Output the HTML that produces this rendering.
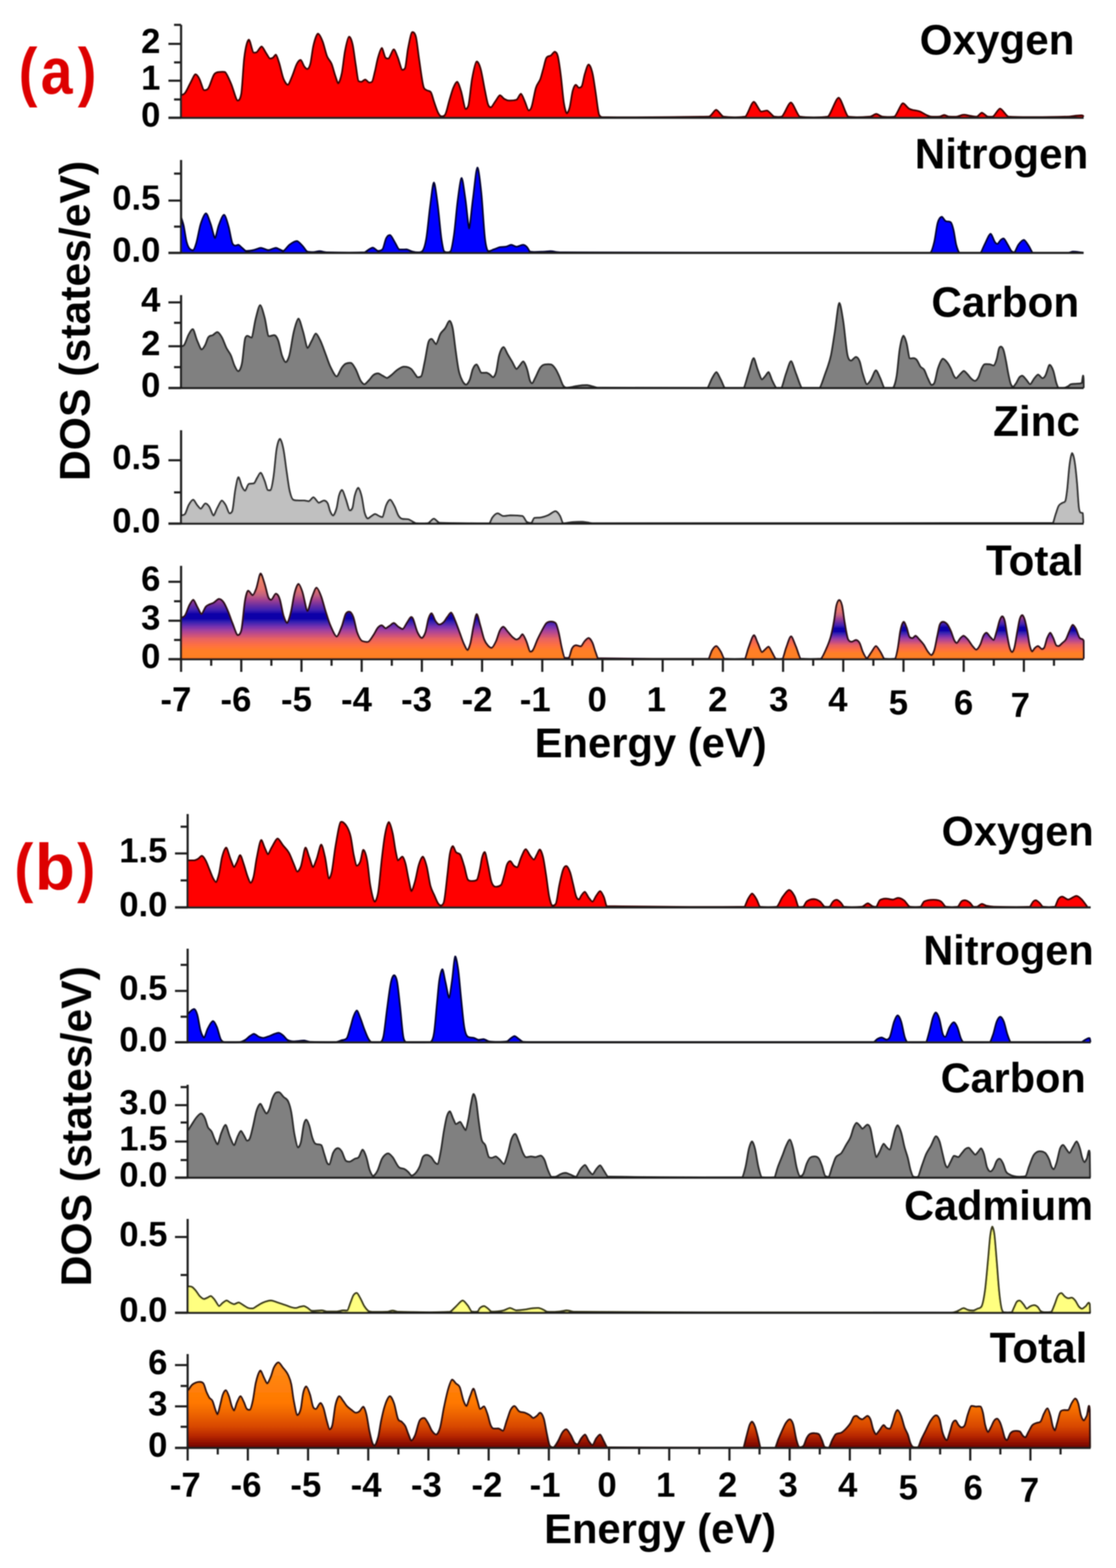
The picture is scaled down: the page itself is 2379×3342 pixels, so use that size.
<!DOCTYPE html><html><head><meta charset="utf-8"><title>DOS</title><style>html,body{margin:0;padding:0;background:#fff;}svg{display:block;}text{font-family:"Liberation Sans",Arial,sans-serif;font-weight:bold;}</style></head><body>
<svg width="2379" height="3342" viewBox="0 0 2379 3342">
<defs>
<linearGradient id="gA" gradientUnits="userSpaceOnUse" x1="0" y1="1405" x2="0" y2="1221">
<stop offset="0" stop-color="#ff7f22"/><stop offset="0.10" stop-color="#ff7f28"/><stop offset="0.16" stop-color="#ff7040"/><stop offset="0.236" stop-color="#e86262"/><stop offset="0.283" stop-color="#c85080"/><stop offset="0.337" stop-color="#a040a0"/><stop offset="0.383" stop-color="#7030b0"/><stop offset="0.436" stop-color="#3020b0"/><stop offset="0.47" stop-color="#1000a8"/><stop offset="0.523" stop-color="#1000a8"/><stop offset="0.57" stop-color="#4020b0"/><stop offset="0.63" stop-color="#7030a0"/><stop offset="0.685" stop-color="#a04090"/><stop offset="0.74" stop-color="#c06080"/><stop offset="0.80" stop-color="#e07070"/><stop offset="1" stop-color="#f89060"/>
</linearGradient>
<linearGradient id="gA2" gradientUnits="userSpaceOnUse" x1="0" y1="1405" x2="0" y2="1279">
<stop offset="0" stop-color="#ff7f22"/><stop offset="0.10" stop-color="#ff7f28"/><stop offset="0.16" stop-color="#ff7040"/><stop offset="0.236" stop-color="#e86262"/><stop offset="0.283" stop-color="#c85080"/><stop offset="0.337" stop-color="#a040a0"/><stop offset="0.383" stop-color="#7030b0"/><stop offset="0.436" stop-color="#3020b0"/><stop offset="0.47" stop-color="#1000a8"/><stop offset="0.523" stop-color="#1000a8"/><stop offset="0.57" stop-color="#4020b0"/><stop offset="0.63" stop-color="#7030a0"/><stop offset="0.685" stop-color="#a04090"/><stop offset="0.74" stop-color="#c06080"/><stop offset="0.80" stop-color="#e07070"/><stop offset="1" stop-color="#f89060"/>
</linearGradient>
<linearGradient id="gA3" gradientUnits="userSpaceOnUse" x1="0" y1="1405" x2="0" y2="1275">
<stop offset="0" stop-color="#ff7f22"/><stop offset="0.10" stop-color="#ff7f28"/><stop offset="0.16" stop-color="#ff7040"/><stop offset="0.236" stop-color="#e86262"/><stop offset="0.283" stop-color="#c85080"/><stop offset="0.337" stop-color="#a040a0"/><stop offset="0.383" stop-color="#7030b0"/><stop offset="0.436" stop-color="#3020b0"/><stop offset="0.47" stop-color="#1000a8"/><stop offset="0.523" stop-color="#1000a8"/><stop offset="0.57" stop-color="#4020b0"/><stop offset="0.63" stop-color="#7030a0"/><stop offset="0.685" stop-color="#a04090"/><stop offset="0.74" stop-color="#c06080"/><stop offset="0.80" stop-color="#e07070"/><stop offset="1" stop-color="#f89060"/>
</linearGradient>
<clipPath id="cA1"><rect x="0" y="1150" width="1730" height="300"/></clipPath>
<clipPath id="cA2"><rect x="1730" y="1150" width="165" height="300"/></clipPath>
<clipPath id="cA3"><rect x="1895" y="1150" width="480" height="300"/></clipPath>
<filter id="soft" x="0" y="0" width="100%" height="100%" filterUnits="userSpaceOnUse"><feGaussianBlur stdDeviation="0.8"/></filter>
<linearGradient id="gB" gradientUnits="userSpaceOnUse" x1="0" y1="3086" x2="0" y2="2886">
<stop offset="0" stop-color="#6a0000"/><stop offset="0.055" stop-color="#901000"/><stop offset="0.13" stop-color="#b82800"/><stop offset="0.23" stop-color="#d84800"/><stop offset="0.38" stop-color="#f06800"/><stop offset="0.48" stop-color="#ff7800"/><stop offset="1" stop-color="#ff9020"/>
</linearGradient>
</defs>
<rect width="2379" height="3342" fill="#fff"/>
<g filter="url(#soft)">
<path d="M386.4,251.0 L386.4,203.3 C389.1,201.7 391.7,201.8 394.4,198.5 C398.1,193.9 401.9,184.4 405.6,177.7 C409.4,171.0 414.0,158.7 416.8,158.5 C418.8,158.3 422.2,163.1 424.8,168.1 C428.0,174.0 432.0,191.3 434.4,192.1 C436.4,192.8 439.8,192.1 442.4,190.5 C447.2,187.6 452.0,165.0 456.8,158.5 C460.0,154.1 464.1,153.9 466.5,153.7 C469.7,153.4 476.1,152.8 479.3,153.7 C482.5,154.6 487.8,168.2 492.1,177.7 C496.9,188.3 502.9,214.1 506.5,214.5 C508.5,214.7 511.8,214.5 514.5,200.1 C516.6,188.6 518.8,140.3 520.9,123.3 C524.1,97.6 528.1,85.2 530.5,84.8 C532.9,84.4 537.7,111.0 540.1,112.0 C541.7,112.7 544.9,112.3 546.5,112.0 C549.3,111.6 554.9,99.1 557.7,99.2 C560.1,99.4 564.1,109.0 567.3,113.6 C570.0,117.5 573.3,124.5 575.3,124.9 C576.9,125.1 579.6,124.6 581.7,123.3 C583.9,121.9 586.5,116.5 588.1,116.8 C589.7,117.2 592.4,126.3 594.5,132.9 C597.7,142.7 600.9,160.1 604.1,168.1 C607.3,176.1 611.3,181.1 613.7,180.9 C616.1,180.6 620.1,169.1 623.3,161.7 C626.6,154.2 629.8,141.9 633.0,136.1 C635.6,131.2 639.0,127.8 641.0,128.1 C643.0,128.3 646.3,139.1 649.0,142.5 C651.1,145.2 653.8,147.5 655.4,147.3 C657.0,147.0 659.6,144.3 661.8,136.1 C663.9,127.8 666.0,106.9 668.2,97.6 C671.4,83.8 675.4,72.4 677.8,72.0 C680.2,71.7 684.2,80.0 687.4,88.0 C690.6,96.0 693.8,112.0 697.0,120.0 C700.2,128.1 703.4,128.3 706.6,136.1 C709.3,142.6 711.9,154.1 714.6,161.7 C716.7,167.8 719.4,177.8 721.0,177.7 C723.0,177.6 726.3,168.3 729.0,155.3 C731.1,144.8 733.3,121.9 735.4,110.4 C738.3,95.0 741.9,78.9 744.1,78.4 C745.9,78.0 749.0,83.8 751.4,94.4 C753.6,103.7 755.7,123.0 757.8,136.1 C760.0,149.1 762.1,171.3 764.2,172.9 C766.4,174.5 769.0,174.6 770.6,174.5 C772.6,174.4 776.6,169.6 778.6,169.7 C780.6,169.7 784.6,175.9 786.7,176.1 C788.3,176.2 790.9,176.1 793.1,174.5 C795.2,172.9 797.3,160.6 799.5,152.1 C801.6,143.5 803.7,130.8 805.9,123.3 C808.5,113.8 811.9,102.4 813.9,102.4 C815.9,102.4 819.2,121.2 821.9,123.3 C824.0,124.9 826.7,125.2 828.3,124.9 C831.1,124.2 836.7,105.5 839.5,105.6 C841.5,105.7 844.8,115.2 847.5,121.7 C850.7,129.4 854.7,148.0 857.1,148.9 C858.7,149.4 861.4,148.9 863.5,145.7 C865.6,142.5 867.8,115.3 869.9,104.0 C872.8,88.8 876.4,69.7 878.5,68.8 C880.5,68.0 883.8,68.8 886.4,78.4 C888.5,86.3 890.7,109.0 892.8,123.3 C896.0,144.6 899.2,172.1 902.4,184.1 C904.5,192.1 906.7,190.2 908.8,192.1 C912.0,194.9 915.2,192.1 918.4,196.9 C920.6,200.1 922.7,210.1 924.8,216.1 C928.0,225.2 931.2,235.9 934.4,241.7 C936.6,245.6 939.2,248.0 940.8,248.1 C942.8,248.3 946.2,248.1 948.8,244.9 C952.0,241.1 955.2,223.4 958.4,212.9 C961.1,204.2 963.8,193.7 966.5,187.3 C969.1,180.9 972.5,174.2 974.5,174.5 C976.5,174.7 979.8,185.2 982.5,193.7 C985.7,203.9 989.7,231.0 992.1,232.1 C993.7,232.8 996.3,232.1 998.5,225.7 C1001.1,217.7 1003.8,182.8 1006.5,168.1 C1009.7,150.4 1013.7,132.0 1016.1,131.3 C1018.1,130.6 1021.4,136.6 1024.1,145.7 C1027.3,156.6 1030.5,178.5 1033.7,193.7 C1035.8,203.8 1038.0,216.6 1040.1,222.5 C1042.2,228.4 1044.9,229.0 1046.5,228.9 C1048.9,228.8 1052.9,220.4 1056.1,216.1 C1059.3,211.8 1063.3,203.5 1065.7,203.3 C1068.1,203.1 1072.1,209.4 1075.3,211.3 C1078.5,213.2 1082.5,214.4 1084.9,214.5 C1088.9,214.6 1095.6,214.5 1100.9,212.9 C1104.1,211.9 1108.1,199.9 1110.5,200.1 C1112.5,200.3 1115.9,210.2 1118.5,216.1 C1121.2,222.0 1124.6,234.9 1126.6,235.3 C1128.2,235.7 1130.8,234.6 1133.0,228.9 C1136.2,220.4 1139.4,197.4 1142.6,187.3 C1145.8,177.2 1149.0,176.9 1152.2,168.1 C1154.3,162.2 1156.4,153.1 1158.6,145.7 C1160.7,138.2 1162.8,126.5 1165.0,123.3 C1168.2,118.4 1171.4,120.8 1174.6,118.4 C1177.2,116.4 1180.6,110.3 1182.6,110.4 C1184.2,110.6 1186.9,111.5 1189.0,120.0 C1191.1,128.6 1193.3,145.1 1195.4,161.7 C1197.5,178.2 1199.7,206.0 1201.8,219.3 C1203.9,232.7 1206.6,241.4 1208.2,241.7 C1209.8,242.1 1212.5,236.9 1214.6,228.9 C1216.7,220.9 1218.9,201.7 1221.0,193.7 C1223.1,185.7 1225.8,181.1 1227.4,180.9 C1229.0,180.6 1232.2,187.2 1233.8,187.3 C1235.4,187.4 1238.1,187.3 1240.2,184.1 C1242.4,180.9 1244.5,165.5 1246.6,158.5 C1249.3,149.7 1252.6,137.8 1254.6,137.7 C1256.6,137.5 1260.0,144.3 1262.6,155.3 C1264.8,164.0 1266.9,180.5 1269.0,193.7 C1271.7,210.2 1274.4,238.9 1277.0,244.9 C1279.2,249.7 1281.8,249.5 1283.4,249.7 C1340.3,251.0 1435.2,249.7 1511.0,248.8 C1516.2,248.7 1522.7,234.3 1526.6,234.3 C1530.4,234.3 1538.2,248.2 1542.1,248.8 C1553.7,250.4 1577.0,251.0 1588.6,248.8 C1593.1,247.6 1602.2,217.5 1606.7,217.2 C1610.6,217.0 1618.4,237.2 1622.2,237.9 C1625.5,238.5 1631.9,235.5 1635.2,235.9 C1639.1,236.3 1646.8,248.3 1650.7,248.8 C1654.6,249.3 1662.3,249.7 1666.2,248.8 C1671.1,247.7 1680.9,218.8 1685.9,218.8 C1690.6,218.8 1700.2,247.7 1705.0,248.8 C1719.9,251.0 1749.6,251.0 1764.5,248.8 C1770.3,247.3 1781.9,208.3 1787.8,208.4 C1792.9,208.6 1803.3,247.3 1808.4,248.8 C1820.1,251.0 1843.4,249.6 1855.0,248.8 C1858.2,248.6 1864.7,243.1 1867.9,243.1 C1871.2,243.1 1877.6,248.6 1880.9,248.8 C1887.3,249.2 1900.3,250.3 1906.7,248.8 C1911.2,247.7 1920.3,220.8 1924.8,220.3 C1928.1,220.0 1933.4,229.3 1937.8,231.7 C1945.5,236.2 1953.3,234.8 1961.0,237.9 C1966.2,240.0 1971.4,244.0 1976.6,246.2 C1979.1,247.3 1982.4,248.7 1984.3,248.8 C1988.8,249.0 1997.9,249.0 2002.4,248.8 C2005.0,248.7 2010.2,245.2 2012.8,245.2 C2015.3,245.2 2020.5,248.7 2023.1,248.8 C2027.0,249.0 2034.7,248.9 2038.6,248.8 C2042.5,248.6 2050.3,244.7 2054.1,244.7 C2058.0,244.6 2064.5,246.4 2069.7,247.2 C2073.1,247.8 2077.4,248.7 2080.0,248.8 C2080.6,248.8 2081.9,248.9 2082.6,248.8 C2085.2,248.5 2090.3,240.6 2092.9,240.5 C2096.2,240.4 2102.6,248.5 2105.9,248.8 C2108.4,249.0 2113.6,249.2 2116.2,248.8 C2120.1,248.2 2127.8,231.8 2131.7,231.7 C2136.2,231.6 2145.3,248.2 2149.8,248.8 C2181.5,251.0 2244.9,249.2 2276.6,248.8 C2284.3,248.7 2299.8,245.1 2307.6,246.2 C2308.2,246.3 2309.2,247.9 2310.0,248.8 L2310.0,251.0 Z" fill="#ff0000" stroke="none"/>
<path d="M386.4,203.3 C389.1,201.7 391.7,201.8 394.4,198.5 C398.1,193.9 401.9,184.4 405.6,177.7 C409.4,171.0 414.0,158.7 416.8,158.5 C418.8,158.3 422.2,163.1 424.8,168.1 C428.0,174.0 432.0,191.3 434.4,192.1 C436.4,192.8 439.8,192.1 442.4,190.5 C447.2,187.6 452.0,165.0 456.8,158.5 C460.0,154.1 464.1,153.9 466.5,153.7 C469.7,153.4 476.1,152.8 479.3,153.7 C482.5,154.6 487.8,168.2 492.1,177.7 C496.9,188.3 502.9,214.1 506.5,214.5 C508.5,214.7 511.8,214.5 514.5,200.1 C516.6,188.6 518.8,140.3 520.9,123.3 C524.1,97.6 528.1,85.2 530.5,84.8 C532.9,84.4 537.7,111.0 540.1,112.0 C541.7,112.7 544.9,112.3 546.5,112.0 C549.3,111.6 554.9,99.1 557.7,99.2 C560.1,99.4 564.1,109.0 567.3,113.6 C570.0,117.5 573.3,124.5 575.3,124.9 C576.9,125.1 579.6,124.6 581.7,123.3 C583.9,121.9 586.5,116.5 588.1,116.8 C589.7,117.2 592.4,126.3 594.5,132.9 C597.7,142.7 600.9,160.1 604.1,168.1 C607.3,176.1 611.3,181.1 613.7,180.9 C616.1,180.6 620.1,169.1 623.3,161.7 C626.6,154.2 629.8,141.9 633.0,136.1 C635.6,131.2 639.0,127.8 641.0,128.1 C643.0,128.3 646.3,139.1 649.0,142.5 C651.1,145.2 653.8,147.5 655.4,147.3 C657.0,147.0 659.6,144.3 661.8,136.1 C663.9,127.8 666.0,106.9 668.2,97.6 C671.4,83.8 675.4,72.4 677.8,72.0 C680.2,71.7 684.2,80.0 687.4,88.0 C690.6,96.0 693.8,112.0 697.0,120.0 C700.2,128.1 703.4,128.3 706.6,136.1 C709.3,142.6 711.9,154.1 714.6,161.7 C716.7,167.8 719.4,177.8 721.0,177.7 C723.0,177.6 726.3,168.3 729.0,155.3 C731.1,144.8 733.3,121.9 735.4,110.4 C738.3,95.0 741.9,78.9 744.1,78.4 C745.9,78.0 749.0,83.8 751.4,94.4 C753.6,103.7 755.7,123.0 757.8,136.1 C760.0,149.1 762.1,171.3 764.2,172.9 C766.4,174.5 769.0,174.6 770.6,174.5 C772.6,174.4 776.6,169.6 778.6,169.7 C780.6,169.7 784.6,175.9 786.7,176.1 C788.3,176.2 790.9,176.1 793.1,174.5 C795.2,172.9 797.3,160.6 799.5,152.1 C801.6,143.5 803.7,130.8 805.9,123.3 C808.5,113.8 811.9,102.4 813.9,102.4 C815.9,102.4 819.2,121.2 821.9,123.3 C824.0,124.9 826.7,125.2 828.3,124.9 C831.1,124.2 836.7,105.5 839.5,105.6 C841.5,105.7 844.8,115.2 847.5,121.7 C850.7,129.4 854.7,148.0 857.1,148.9 C858.7,149.4 861.4,148.9 863.5,145.7 C865.6,142.5 867.8,115.3 869.9,104.0 C872.8,88.8 876.4,69.7 878.5,68.8 C880.5,68.0 883.8,68.8 886.4,78.4 C888.5,86.3 890.7,109.0 892.8,123.3 C896.0,144.6 899.2,172.1 902.4,184.1 C904.5,192.1 906.7,190.2 908.8,192.1 C912.0,194.9 915.2,192.1 918.4,196.9 C920.6,200.1 922.7,210.1 924.8,216.1 C928.0,225.2 931.2,235.9 934.4,241.7 C936.6,245.6 939.2,248.0 940.8,248.1 C942.8,248.3 946.2,248.1 948.8,244.9 C952.0,241.1 955.2,223.4 958.4,212.9 C961.1,204.2 963.8,193.7 966.5,187.3 C969.1,180.9 972.5,174.2 974.5,174.5 C976.5,174.7 979.8,185.2 982.5,193.7 C985.7,203.9 989.7,231.0 992.1,232.1 C993.7,232.8 996.3,232.1 998.5,225.7 C1001.1,217.7 1003.8,182.8 1006.5,168.1 C1009.7,150.4 1013.7,132.0 1016.1,131.3 C1018.1,130.6 1021.4,136.6 1024.1,145.7 C1027.3,156.6 1030.5,178.5 1033.7,193.7 C1035.8,203.8 1038.0,216.6 1040.1,222.5 C1042.2,228.4 1044.9,229.0 1046.5,228.9 C1048.9,228.8 1052.9,220.4 1056.1,216.1 C1059.3,211.8 1063.3,203.5 1065.7,203.3 C1068.1,203.1 1072.1,209.4 1075.3,211.3 C1078.5,213.2 1082.5,214.4 1084.9,214.5 C1088.9,214.6 1095.6,214.5 1100.9,212.9 C1104.1,211.9 1108.1,199.9 1110.5,200.1 C1112.5,200.3 1115.9,210.2 1118.5,216.1 C1121.2,222.0 1124.6,234.9 1126.6,235.3 C1128.2,235.7 1130.8,234.6 1133.0,228.9 C1136.2,220.4 1139.4,197.4 1142.6,187.3 C1145.8,177.2 1149.0,176.9 1152.2,168.1 C1154.3,162.2 1156.4,153.1 1158.6,145.7 C1160.7,138.2 1162.8,126.5 1165.0,123.3 C1168.2,118.4 1171.4,120.8 1174.6,118.4 C1177.2,116.4 1180.6,110.3 1182.6,110.4 C1184.2,110.6 1186.9,111.5 1189.0,120.0 C1191.1,128.6 1193.3,145.1 1195.4,161.7 C1197.5,178.2 1199.7,206.0 1201.8,219.3 C1203.9,232.7 1206.6,241.4 1208.2,241.7 C1209.8,242.1 1212.5,236.9 1214.6,228.9 C1216.7,220.9 1218.9,201.7 1221.0,193.7 C1223.1,185.7 1225.8,181.1 1227.4,180.9 C1229.0,180.6 1232.2,187.2 1233.8,187.3 C1235.4,187.4 1238.1,187.3 1240.2,184.1 C1242.4,180.9 1244.5,165.5 1246.6,158.5 C1249.3,149.7 1252.6,137.8 1254.6,137.7 C1256.6,137.5 1260.0,144.3 1262.6,155.3 C1264.8,164.0 1266.9,180.5 1269.0,193.7 C1271.7,210.2 1274.4,238.9 1277.0,244.9 C1279.2,249.7 1281.8,249.5 1283.4,249.7 C1340.3,251.0 1435.2,249.7 1511.0,248.8 C1516.2,248.7 1522.7,234.3 1526.6,234.3 C1530.4,234.3 1538.2,248.2 1542.1,248.8 C1553.7,250.4 1577.0,251.0 1588.6,248.8 C1593.1,247.6 1602.2,217.5 1606.7,217.2 C1610.6,217.0 1618.4,237.2 1622.2,237.9 C1625.5,238.5 1631.9,235.5 1635.2,235.9 C1639.1,236.3 1646.8,248.3 1650.7,248.8 C1654.6,249.3 1662.3,249.7 1666.2,248.8 C1671.1,247.7 1680.9,218.8 1685.9,218.8 C1690.6,218.8 1700.2,247.7 1705.0,248.8 C1719.9,251.0 1749.6,251.0 1764.5,248.8 C1770.3,247.3 1781.9,208.3 1787.8,208.4 C1792.9,208.6 1803.3,247.3 1808.4,248.8 C1820.1,251.0 1843.4,249.6 1855.0,248.8 C1858.2,248.6 1864.7,243.1 1867.9,243.1 C1871.2,243.1 1877.6,248.6 1880.9,248.8 C1887.3,249.2 1900.3,250.3 1906.7,248.8 C1911.2,247.7 1920.3,220.8 1924.8,220.3 C1928.1,220.0 1933.4,229.3 1937.8,231.7 C1945.5,236.2 1953.3,234.8 1961.0,237.9 C1966.2,240.0 1971.4,244.0 1976.6,246.2 C1979.1,247.3 1982.4,248.7 1984.3,248.8 C1988.8,249.0 1997.9,249.0 2002.4,248.8 C2005.0,248.7 2010.2,245.2 2012.8,245.2 C2015.3,245.2 2020.5,248.7 2023.1,248.8 C2027.0,249.0 2034.7,248.9 2038.6,248.8 C2042.5,248.6 2050.3,244.7 2054.1,244.7 C2058.0,244.6 2064.5,246.4 2069.7,247.2 C2073.1,247.8 2077.4,248.7 2080.0,248.8 C2080.6,248.8 2081.9,248.9 2082.6,248.8 C2085.2,248.5 2090.3,240.6 2092.9,240.5 C2096.2,240.4 2102.6,248.5 2105.9,248.8 C2108.4,249.0 2113.6,249.2 2116.2,248.8 C2120.1,248.2 2127.8,231.8 2131.7,231.7 C2136.2,231.6 2145.3,248.2 2149.8,248.8 C2181.5,251.0 2244.9,249.2 2276.6,248.8 C2284.3,248.7 2299.8,245.1 2307.6,246.2 C2308.2,246.3 2309.2,247.9 2310.0,248.8" fill="none" stroke="#3a0000" stroke-width="4.0" stroke-linejoin="round"/>
<line x1="386.0" y1="53.0" x2="386.0" y2="253.0" stroke="#1a1a1a" stroke-width="4.5"/>
<line x1="359.0" y1="251.0" x2="2310.0" y2="251.0" stroke="#1a1a1a" stroke-width="4.5"/>
<line x1="359.0" y1="251.0" x2="386.0" y2="251.0" stroke="#1a1a1a" stroke-width="4.5"/>
<line x1="371.0" y1="212.0" x2="386.0" y2="212.0" stroke="#1a1a1a" stroke-width="4.5"/>
<line x1="359.0" y1="172.0" x2="386.0" y2="172.0" stroke="#1a1a1a" stroke-width="4.5"/>
<line x1="371.0" y1="133.0" x2="386.0" y2="133.0" stroke="#1a1a1a" stroke-width="4.5"/>
<line x1="359.0" y1="93.5" x2="386.0" y2="93.5" stroke="#1a1a1a" stroke-width="4.5"/>
<line x1="371.0" y1="53.0" x2="386.0" y2="53.0" stroke="#1a1a1a" stroke-width="4.5"/>
<text x="342.0" y="270.0" font-size="74" text-anchor="end">0</text>
<text x="342.0" y="191.0" font-size="74" text-anchor="end">1</text>
<text x="342.0" y="112.5" font-size="74" text-anchor="end">2</text>
<text x="2290.5" y="115.5" font-size="90.0" text-anchor="end">Oxygen</text>
<path d="M386.4,539.0 L386.4,464.5 C388.0,469.8 389.6,473.4 391.2,480.5 C393.3,489.9 395.5,507.7 397.6,515.7 C400.3,525.7 402.9,529.7 405.6,531.7 C407.8,533.3 410.4,533.8 412.0,533.3 C413.6,532.8 416.3,525.9 418.4,518.9 C421.6,508.4 424.8,487.4 428.0,477.3 C431.8,465.5 436.4,454.7 439.2,454.9 C441.6,455.0 445.6,468.5 448.8,477.3 C452.0,486.1 456.0,507.8 458.4,507.7 C460.4,507.6 463.8,487.7 466.5,480.5 C470.2,470.4 474.9,457.8 477.7,458.1 C480.1,458.3 484.1,472.4 487.3,483.7 C489.9,493.1 492.6,512.9 495.3,518.9 C497.4,523.7 500.1,523.6 501.7,523.7 C503.3,523.8 506.5,522.0 508.1,522.1 C510.1,522.3 513.4,526.4 516.1,528.5 C518.8,530.7 522.1,534.7 524.1,534.9 C528.1,535.3 534.8,534.4 540.1,533.3 C545.4,532.3 552.1,528.5 556.1,528.5 C560.1,528.5 568.1,533.3 572.1,533.3 C576.1,533.3 584.1,528.5 588.1,528.5 C592.1,528.6 600.1,535.3 604.1,534.9 C607.3,534.6 612.7,525.3 616.9,522.1 C622.3,518.1 629.0,513.9 633.0,514.1 C636.2,514.3 641.5,521.0 645.8,525.3 C649.0,528.6 652.2,535.8 655.4,536.5 C659.6,537.5 665.0,537.5 668.2,537.5 C671.4,537.5 677.8,535.6 681.0,535.6 C685.0,535.6 693.0,538.0 697.0,538.1 C717.0,538.6 757.0,539.0 777.0,538.1 C779.4,537.9 783.4,533.6 786.7,531.7 C789.3,530.2 792.7,527.8 794.7,527.9 C797.5,527.9 803.1,534.8 805.9,534.9 C808.3,535.0 812.3,534.9 815.5,531.7 C818.1,529.1 820.8,512.8 823.5,507.7 C826.1,502.6 829.5,501.1 831.5,501.3 C833.9,501.6 837.9,510.6 841.1,515.7 C844.3,520.8 848.3,531.1 850.7,531.7 C854.7,532.7 862.7,531.5 866.7,531.7 C869.9,531.9 875.2,535.5 879.5,536.5 C883.8,537.6 889.1,538.2 892.3,538.1 C894.0,538.1 896.9,538.1 899.2,536.5 C902.4,534.3 905.6,527.3 908.8,509.3 C911.5,494.3 914.2,462.1 916.8,442.1 C919.5,422.1 922.8,389.5 924.8,389.2 C926.8,389.0 930.2,415.7 932.8,435.7 C935.5,455.7 938.2,491.4 940.8,509.3 C943.0,523.7 945.6,535.5 947.2,536.5 C950.4,538.6 956.8,538.7 960.0,536.5 C962.1,535.1 965.4,518.1 968.1,499.7 C970.7,481.3 973.4,446.1 976.1,426.1 C978.7,406.0 982.1,379.6 984.1,379.6 C986.1,379.6 989.4,408.2 992.1,426.1 C994.7,443.9 998.1,486.9 1000.1,486.9 C1002.1,486.9 1005.4,445.8 1008.1,426.1 C1011.3,402.4 1015.3,357.4 1017.7,357.2 C1019.7,357.0 1023.0,384.7 1025.7,410.0 C1028.4,435.4 1031.0,487.4 1033.7,509.3 C1035.8,526.8 1038.5,534.0 1040.1,534.9 C1043.3,536.7 1048.6,533.1 1052.9,531.7 C1057.2,530.4 1061.4,527.9 1065.7,526.9 C1070.0,526.0 1074.3,526.9 1078.5,526.0 C1082.3,525.2 1086.9,522.1 1089.7,522.1 C1092.5,522.1 1098.1,525.9 1100.9,526.0 C1104.5,526.0 1111.7,521.9 1115.3,522.1 C1117.3,522.2 1120.7,524.1 1123.3,526.9 C1125.5,529.2 1128.2,536.2 1129.8,536.5 C1137.8,538.3 1153.8,536.6 1161.8,536.5 C1165.0,536.5 1171.4,535.5 1174.6,535.6 C1177.8,535.6 1183.1,537.1 1187.4,537.5 C1191.7,537.9 1195.9,538.1 1200.2,538.1 C1461.2,538.9 1787.4,539.0 1983.1,538.9 C1985.3,538.0 1988.9,527.7 1991.8,515.8 C1994.2,505.8 1996.6,483.8 1999.0,475.2 C2001.9,465.0 2005.6,462.3 2007.7,462.2 C2009.5,462.1 2012.6,469.2 2015.0,470.9 C2018.8,473.7 2022.7,470.9 2026.5,473.8 C2028.5,475.2 2030.4,481.8 2032.3,489.7 C2034.3,497.7 2036.2,513.9 2038.1,521.6 C2040.5,531.1 2043.5,538.3 2045.4,538.9 C2056.6,539.0 2079.0,539.0 2090.2,538.9 C2092.4,538.3 2096.0,527.0 2098.9,521.6 C2103.2,513.4 2108.7,498.3 2111.9,498.4 C2114.1,498.5 2117.7,511.8 2120.6,515.8 C2122.5,518.4 2124.9,520.2 2126.4,520.1 C2128.2,520.0 2131.2,513.5 2133.6,511.4 C2135.6,509.8 2138.0,508.3 2139.4,508.5 C2141.6,508.9 2145.2,517.0 2148.1,521.6 C2151.0,526.1 2153.9,533.9 2156.8,536.0 C2158.7,537.5 2161.1,537.8 2162.6,537.5 C2164.7,537.0 2168.3,525.5 2171.2,521.6 C2175.1,516.3 2179.9,511.2 2182.8,511.4 C2185.4,511.6 2189.6,519.5 2192.9,524.4 C2195.8,528.7 2199.5,538.4 2201.6,538.9 C2220.8,539.0 2259.2,539.0 2278.3,538.9 C2280.5,538.8 2284.8,536.7 2287.0,536.6 C2292.8,536.5 2302.3,538.1 2310.0,538.9 L2310.0,539.0 Z" fill="#0000ff" stroke="none"/>
<path d="M386.4,464.5 C388.0,469.8 389.6,473.4 391.2,480.5 C393.3,489.9 395.5,507.7 397.6,515.7 C400.3,525.7 402.9,529.7 405.6,531.7 C407.8,533.3 410.4,533.8 412.0,533.3 C413.6,532.8 416.3,525.9 418.4,518.9 C421.6,508.4 424.8,487.4 428.0,477.3 C431.8,465.5 436.4,454.7 439.2,454.9 C441.6,455.0 445.6,468.5 448.8,477.3 C452.0,486.1 456.0,507.8 458.4,507.7 C460.4,507.6 463.8,487.7 466.5,480.5 C470.2,470.4 474.9,457.8 477.7,458.1 C480.1,458.3 484.1,472.4 487.3,483.7 C489.9,493.1 492.6,512.9 495.3,518.9 C497.4,523.7 500.1,523.6 501.7,523.7 C503.3,523.8 506.5,522.0 508.1,522.1 C510.1,522.3 513.4,526.4 516.1,528.5 C518.8,530.7 522.1,534.7 524.1,534.9 C528.1,535.3 534.8,534.4 540.1,533.3 C545.4,532.3 552.1,528.5 556.1,528.5 C560.1,528.5 568.1,533.3 572.1,533.3 C576.1,533.3 584.1,528.5 588.1,528.5 C592.1,528.6 600.1,535.3 604.1,534.9 C607.3,534.6 612.7,525.3 616.9,522.1 C622.3,518.1 629.0,513.9 633.0,514.1 C636.2,514.3 641.5,521.0 645.8,525.3 C649.0,528.6 652.2,535.8 655.4,536.5 C659.6,537.5 665.0,537.5 668.2,537.5 C671.4,537.5 677.8,535.6 681.0,535.6 C685.0,535.6 693.0,538.0 697.0,538.1 C717.0,538.6 757.0,539.0 777.0,538.1 C779.4,537.9 783.4,533.6 786.7,531.7 C789.3,530.2 792.7,527.8 794.7,527.9 C797.5,527.9 803.1,534.8 805.9,534.9 C808.3,535.0 812.3,534.9 815.5,531.7 C818.1,529.1 820.8,512.8 823.5,507.7 C826.1,502.6 829.5,501.1 831.5,501.3 C833.9,501.6 837.9,510.6 841.1,515.7 C844.3,520.8 848.3,531.1 850.7,531.7 C854.7,532.7 862.7,531.5 866.7,531.7 C869.9,531.9 875.2,535.5 879.5,536.5 C883.8,537.6 889.1,538.2 892.3,538.1 C894.0,538.1 896.9,538.1 899.2,536.5 C902.4,534.3 905.6,527.3 908.8,509.3 C911.5,494.3 914.2,462.1 916.8,442.1 C919.5,422.1 922.8,389.5 924.8,389.2 C926.8,389.0 930.2,415.7 932.8,435.7 C935.5,455.7 938.2,491.4 940.8,509.3 C943.0,523.7 945.6,535.5 947.2,536.5 C950.4,538.6 956.8,538.7 960.0,536.5 C962.1,535.1 965.4,518.1 968.1,499.7 C970.7,481.3 973.4,446.1 976.1,426.1 C978.7,406.0 982.1,379.6 984.1,379.6 C986.1,379.6 989.4,408.2 992.1,426.1 C994.7,443.9 998.1,486.9 1000.1,486.9 C1002.1,486.9 1005.4,445.8 1008.1,426.1 C1011.3,402.4 1015.3,357.4 1017.7,357.2 C1019.7,357.0 1023.0,384.7 1025.7,410.0 C1028.4,435.4 1031.0,487.4 1033.7,509.3 C1035.8,526.8 1038.5,534.0 1040.1,534.9 C1043.3,536.7 1048.6,533.1 1052.9,531.7 C1057.2,530.4 1061.4,527.9 1065.7,526.9 C1070.0,526.0 1074.3,526.9 1078.5,526.0 C1082.3,525.2 1086.9,522.1 1089.7,522.1 C1092.5,522.1 1098.1,525.9 1100.9,526.0 C1104.5,526.0 1111.7,521.9 1115.3,522.1 C1117.3,522.2 1120.7,524.1 1123.3,526.9 C1125.5,529.2 1128.2,536.2 1129.8,536.5 C1137.8,538.3 1153.8,536.6 1161.8,536.5 C1165.0,536.5 1171.4,535.5 1174.6,535.6 C1177.8,535.6 1183.1,537.1 1187.4,537.5 C1191.7,537.9 1195.9,538.1 1200.2,538.1 C1461.2,538.9 1787.4,539.0 1983.1,538.9 C1985.3,538.0 1988.9,527.7 1991.8,515.8 C1994.2,505.8 1996.6,483.8 1999.0,475.2 C2001.9,465.0 2005.6,462.3 2007.7,462.2 C2009.5,462.1 2012.6,469.2 2015.0,470.9 C2018.8,473.7 2022.7,470.9 2026.5,473.8 C2028.5,475.2 2030.4,481.8 2032.3,489.7 C2034.3,497.7 2036.2,513.9 2038.1,521.6 C2040.5,531.1 2043.5,538.3 2045.4,538.9 C2056.6,539.0 2079.0,539.0 2090.2,538.9 C2092.4,538.3 2096.0,527.0 2098.9,521.6 C2103.2,513.4 2108.7,498.3 2111.9,498.4 C2114.1,498.5 2117.7,511.8 2120.6,515.8 C2122.5,518.4 2124.9,520.2 2126.4,520.1 C2128.2,520.0 2131.2,513.5 2133.6,511.4 C2135.6,509.8 2138.0,508.3 2139.4,508.5 C2141.6,508.9 2145.2,517.0 2148.1,521.6 C2151.0,526.1 2153.9,533.9 2156.8,536.0 C2158.7,537.5 2161.1,537.8 2162.6,537.5 C2164.7,537.0 2168.3,525.5 2171.2,521.6 C2175.1,516.3 2179.9,511.2 2182.8,511.4 C2185.4,511.6 2189.6,519.5 2192.9,524.4 C2195.8,528.7 2199.5,538.4 2201.6,538.9 C2220.8,539.0 2259.2,539.0 2278.3,538.9 C2280.5,538.8 2284.8,536.7 2287.0,536.6 C2292.8,536.5 2302.3,538.1 2310.0,538.9" fill="none" stroke="#000030" stroke-width="4.0" stroke-linejoin="round"/>
<line x1="386.0" y1="341.0" x2="386.0" y2="541.0" stroke="#1a1a1a" stroke-width="4.5"/>
<line x1="359.0" y1="539.0" x2="2310.0" y2="539.0" stroke="#1a1a1a" stroke-width="4.5"/>
<line x1="359.0" y1="539.0" x2="386.0" y2="539.0" stroke="#1a1a1a" stroke-width="4.5"/>
<line x1="371.0" y1="483.0" x2="386.0" y2="483.0" stroke="#1a1a1a" stroke-width="4.5"/>
<line x1="359.0" y1="427.5" x2="386.0" y2="427.5" stroke="#1a1a1a" stroke-width="4.5"/>
<line x1="371.0" y1="370.0" x2="386.0" y2="370.0" stroke="#1a1a1a" stroke-width="4.5"/>
<text x="342.0" y="558.0" font-size="74" text-anchor="end">0.0</text>
<text x="342.0" y="446.5" font-size="74" text-anchor="end">0.5</text>
<text x="2320.0" y="359.0" font-size="90.0" text-anchor="end">Nitrogen</text>
<path d="M386.4,827.0 L386.4,738.5 C388.5,737.4 390.7,738.3 392.8,735.3 C396.0,730.7 399.2,718.7 402.4,712.9 C405.3,707.6 408.9,701.2 411.1,701.7 C413.3,702.1 417.0,718.7 420.0,725.7 C423.2,733.2 427.2,744.6 429.6,744.9 C431.6,745.1 435.0,740.2 437.6,735.3 C439.8,731.3 441.9,722.5 444.0,719.3 C447.2,714.5 450.4,716.3 453.6,714.5 C456.8,712.6 460.8,707.9 463.3,708.1 C465.7,708.2 469.7,713.7 472.9,719.3 C476.1,724.9 479.3,735.3 482.5,741.7 C485.7,748.1 488.9,750.5 492.1,757.7 C494.7,763.6 497.4,774.5 500.1,780.1 C502.7,785.7 506.1,791.5 508.1,791.3 C510.1,791.1 513.4,787.3 516.1,773.7 C518.2,762.8 520.4,731.0 522.5,722.5 C524.1,716.1 526.1,716.2 527.3,716.1 C529.7,715.7 534.5,720.9 536.9,719.3 C538.9,717.9 542.2,691.5 544.9,680.8 C548.1,668.1 552.1,650.5 554.5,650.4 C556.9,650.3 560.9,665.4 564.1,677.6 C566.8,687.8 570.1,714.7 572.1,716.1 C575.3,718.3 581.7,713.8 584.9,714.5 C586.9,714.8 590.3,718.5 592.9,725.7 C595.6,732.9 598.3,749.9 600.9,757.7 C603.6,765.4 606.9,772.1 608.9,772.1 C610.9,772.1 614.3,767.2 616.9,757.7 C620.1,746.3 623.3,719.5 626.6,706.5 C629.8,693.4 633.8,679.2 636.2,679.2 C638.6,679.2 642.6,696.0 645.8,706.5 C649.0,716.9 653.0,741.0 655.4,741.7 C657.8,742.4 661.8,731.2 665.0,725.7 C667.6,721.0 671.0,711.3 673.0,711.3 C675.4,711.1 679.4,719.1 682.6,725.7 C686.3,733.3 690.1,744.7 693.8,754.5 C697.0,762.9 700.2,773.3 703.4,780.1 C708.2,790.2 714.2,802.6 717.8,802.5 C720.6,802.4 725.3,788.4 729.0,783.3 C731.7,779.7 734.4,776.4 737.0,775.3 C740.8,773.7 745.4,773.2 748.2,773.7 C750.6,774.1 754.6,780.7 757.8,786.5 C761.6,793.3 765.3,806.2 769.0,812.1 C771.7,816.3 775.0,819.2 777.0,819.2 C779.4,819.2 783.4,813.8 786.7,810.5 C789.9,807.2 793.1,801.7 796.3,799.3 C799.5,796.9 803.5,796.0 805.9,796.1 C808.3,796.2 812.3,799.3 815.5,800.9 C818.7,802.5 822.7,805.8 825.1,805.7 C827.5,805.7 831.5,801.8 834.7,799.3 C838.9,796.0 843.2,791.0 847.5,788.1 C851.8,785.2 857.1,781.8 860.3,781.7 C864.3,781.6 871.0,782.1 876.3,786.5 C879.5,789.1 882.7,795.1 885.9,799.3 C887.1,800.9 888.7,804.0 889.6,804.1 C891.6,804.4 894.9,804.1 897.6,802.5 C900.3,800.9 902.9,782.8 905.6,770.5 C908.3,758.2 911.0,736.9 913.6,728.9 C915.8,722.5 918.4,722.4 920.0,722.5 C922.4,722.5 927.2,734.1 929.6,733.7 C932.0,733.2 936.0,716.9 939.2,711.3 C942.4,705.7 945.6,704.6 948.8,700.0 C952.0,695.5 956.0,683.7 958.4,684.0 C960.0,684.2 962.7,689.4 964.9,700.0 C967.0,710.7 969.1,733.1 971.3,748.1 C973.4,763.0 975.5,779.8 977.7,789.7 C980.3,802.1 983.0,807.0 985.7,812.1 C988.3,817.2 991.7,820.2 993.7,820.1 C995.7,820.0 999.0,815.5 1001.7,808.9 C1003.8,803.7 1005.9,791.5 1008.1,786.5 C1010.7,780.2 1014.1,776.7 1016.1,776.9 C1018.5,777.1 1023.3,793.8 1025.7,794.5 C1028.5,795.3 1034.1,794.3 1036.9,794.5 C1038.5,794.6 1041.2,796.3 1043.3,797.7 C1046.0,799.4 1049.3,804.4 1051.3,804.1 C1052.9,803.9 1055.6,800.6 1057.7,792.9 C1059.8,785.2 1062.0,765.5 1064.1,757.7 C1067.3,745.9 1071.3,740.1 1073.7,740.1 C1075.7,740.1 1079.1,749.9 1081.7,754.5 C1084.9,760.0 1088.1,765.2 1091.3,770.5 C1094.5,775.8 1098.5,786.3 1100.9,786.5 C1102.5,786.7 1105.2,782.4 1107.3,780.1 C1110.0,777.2 1113.3,770.3 1115.3,770.5 C1117.3,770.7 1120.7,778.5 1123.3,786.5 C1125.5,792.9 1127.6,806.8 1129.8,812.1 C1131.4,816.1 1133.4,817.1 1134.6,816.9 C1136.2,816.7 1138.8,809.7 1141.0,805.7 C1144.7,798.7 1148.4,788.3 1152.2,783.3 C1155.4,779.0 1159.4,777.1 1161.8,776.9 C1165.0,776.6 1171.4,776.4 1174.6,776.9 C1177.0,777.3 1181.0,781.7 1184.2,786.5 C1186.9,790.5 1189.5,796.6 1192.2,802.5 C1194.9,808.4 1197.5,817.5 1200.2,821.7 C1202.3,825.1 1205.0,826.4 1206.6,826.5 C1209.8,826.8 1215.1,825.6 1219.4,824.9 C1223.7,824.2 1227.9,822.9 1232.2,822.4 C1238.6,821.5 1246.6,821.0 1251.4,821.1 C1255.4,821.2 1262.1,823.6 1267.4,824.9 C1269.6,825.4 1271.7,826.5 1273.8,826.5 C1351.8,826.9 1449.3,827.0 1507.8,826.9 C1510.3,826.1 1514.7,812.1 1518.1,806.2 C1521.1,801.0 1524.9,793.2 1527.2,793.3 C1529.4,793.4 1533.2,803.2 1536.2,808.8 C1539.2,814.4 1543.0,826.2 1545.3,826.9 C1555.3,827.0 1575.3,827.0 1585.3,826.9 C1587.9,825.7 1592.2,806.2 1595.7,795.9 C1599.3,785.0 1603.8,763.6 1606.6,763.5 C1608.7,763.5 1612.2,780.8 1615.1,788.1 C1618.1,795.9 1621.9,808.4 1624.1,808.8 C1626.1,809.2 1629.3,803.9 1631.9,801.0 C1634.1,798.7 1636.7,793.0 1638.4,793.3 C1640.3,793.6 1643.5,806.1 1646.1,811.4 C1649.1,817.5 1652.9,826.3 1655.2,826.9 C1657.8,827.0 1662.9,827.0 1665.5,826.9 C1668.1,825.7 1672.4,805.3 1675.9,795.9 C1679.3,786.4 1683.6,770.0 1686.2,770.0 C1688.8,770.0 1693.1,787.4 1696.6,795.9 C1700.9,806.4 1706.2,825.7 1709.5,826.9 C1718.9,827.0 1737.6,827.0 1747.0,826.9 C1749.9,825.8 1754.7,809.4 1758.6,798.4 C1762.9,786.3 1767.2,776.9 1771.6,757.1 C1774.1,745.2 1776.7,726.8 1779.3,710.5 C1782.6,689.9 1786.7,646.6 1789.1,645.9 C1791.2,645.3 1794.7,667.2 1797.4,684.7 C1800.4,703.8 1803.4,743.5 1806.5,757.1 C1809.1,768.7 1812.3,768.5 1814.2,768.7 C1816.8,769.0 1822.0,760.8 1824.6,760.9 C1826.5,761.1 1829.7,763.3 1832.3,770.0 C1834.5,775.6 1836.6,788.8 1838.8,795.9 C1841.8,805.8 1845.6,818.6 1847.8,819.1 C1849.8,819.6 1853.0,815.1 1855.6,811.4 C1859.5,805.8 1864.3,789.4 1867.2,789.4 C1869.5,789.4 1873.3,800.0 1876.3,806.2 C1879.3,812.5 1883.1,826.1 1885.3,826.9 C1889.9,827.0 1898.9,827.0 1903.4,826.9 C1905.5,825.9 1908.9,817.4 1911.6,801.0 C1913.8,788.1 1915.9,757.6 1918.1,744.1 C1920.7,728.0 1923.9,716.1 1925.9,715.7 C1927.5,715.4 1930.2,723.2 1932.3,731.2 C1934.5,739.2 1937.2,762.3 1938.8,763.5 C1941.1,765.2 1945.6,763.3 1947.8,763.5 C1949.5,763.7 1952.2,764.8 1954.3,767.4 C1956.9,770.6 1959.5,778.2 1962.1,781.6 C1964.7,785.1 1967.2,784.0 1969.8,788.1 C1972.4,792.2 1975.0,800.8 1977.6,806.2 C1980.2,811.6 1983.4,820.1 1985.3,820.4 C1987.0,820.7 1989.7,820.4 1991.8,816.6 C1994.4,811.9 1997.0,793.3 1999.6,785.5 C2003.0,775.2 2007.3,765.3 2009.9,764.8 C2012.2,764.4 2015.9,768.8 2019.0,772.6 C2021.6,775.8 2024.1,780.3 2026.7,785.5 C2028.9,789.9 2031.0,797.4 2033.2,801.0 C2034.9,804.0 2037.1,806.2 2038.4,806.2 C2040.3,806.2 2043.5,800.9 2046.1,798.4 C2049.0,795.7 2052.5,790.7 2054.7,790.7 C2056.7,790.7 2060.2,795.5 2062.9,798.4 C2065.5,801.2 2068.1,805.3 2070.7,807.5 C2073.3,809.7 2076.5,812.0 2078.4,811.9 C2080.4,811.8 2083.6,808.6 2086.2,803.6 C2088.4,799.5 2090.5,790.0 2092.7,785.5 C2094.8,781.0 2097.5,776.8 2099.1,776.5 C2101.7,775.9 2106.9,776.4 2109.5,776.5 C2111.7,776.6 2116.3,779.7 2118.5,779.1 C2120.2,778.6 2122.8,772.0 2125.0,764.8 C2126.7,759.1 2128.4,745.0 2130.2,741.6 C2131.5,739.0 2133.1,738.8 2134.1,739.0 C2135.3,739.1 2137.5,741.6 2139.2,746.7 C2140.9,751.9 2142.7,761.4 2144.4,770.0 C2146.1,778.6 2147.8,790.3 2149.6,798.4 C2151.3,806.6 2153.0,814.8 2154.7,819.1 C2156.5,823.4 2158.6,824.3 2159.9,824.3 C2161.5,824.3 2164.2,819.8 2166.4,816.6 C2168.5,813.3 2170.7,807.5 2172.8,804.9 C2175.0,802.3 2177.7,800.9 2179.3,801.0 C2181.2,801.2 2184.5,806.0 2187.1,808.8 C2190.1,812.0 2193.9,819.2 2196.1,819.1 C2198.4,819.0 2202.2,809.9 2205.2,806.2 C2207.8,803.1 2211.0,798.5 2212.9,798.4 C2215.2,798.4 2219.7,806.2 2222.0,806.2 C2223.6,806.2 2226.3,804.7 2228.4,801.0 C2231.5,795.9 2235.2,778.1 2237.5,777.8 C2239.4,777.5 2242.7,783.4 2245.3,790.7 C2247.4,796.8 2249.6,810.1 2251.7,816.6 C2253.4,821.7 2255.6,826.5 2256.9,826.9 C2259.5,827.0 2264.7,827.0 2267.2,826.9 C2269.8,826.8 2274.1,825.0 2277.6,823.0 C2279.3,822.0 2281.0,819.6 2282.8,819.1 C2287.9,817.8 2293.1,818.5 2298.3,817.8 C2300.9,817.5 2303.4,817.8 2306.0,816.6 C2307.3,815.9 2308.9,785.4 2309.9,811.4 C2309.9,812.0 2310.0,821.7 2310.0,826.9 L2310.0,827.0 Z" fill="#808080" stroke="none"/>
<path d="M386.4,738.5 C388.5,737.4 390.7,738.3 392.8,735.3 C396.0,730.7 399.2,718.7 402.4,712.9 C405.3,707.6 408.9,701.2 411.1,701.7 C413.3,702.1 417.0,718.7 420.0,725.7 C423.2,733.2 427.2,744.6 429.6,744.9 C431.6,745.1 435.0,740.2 437.6,735.3 C439.8,731.3 441.9,722.5 444.0,719.3 C447.2,714.5 450.4,716.3 453.6,714.5 C456.8,712.6 460.8,707.9 463.3,708.1 C465.7,708.2 469.7,713.7 472.9,719.3 C476.1,724.9 479.3,735.3 482.5,741.7 C485.7,748.1 488.9,750.5 492.1,757.7 C494.7,763.6 497.4,774.5 500.1,780.1 C502.7,785.7 506.1,791.5 508.1,791.3 C510.1,791.1 513.4,787.3 516.1,773.7 C518.2,762.8 520.4,731.0 522.5,722.5 C524.1,716.1 526.1,716.2 527.3,716.1 C529.7,715.7 534.5,720.9 536.9,719.3 C538.9,717.9 542.2,691.5 544.9,680.8 C548.1,668.1 552.1,650.5 554.5,650.4 C556.9,650.3 560.9,665.4 564.1,677.6 C566.8,687.8 570.1,714.7 572.1,716.1 C575.3,718.3 581.7,713.8 584.9,714.5 C586.9,714.8 590.3,718.5 592.9,725.7 C595.6,732.9 598.3,749.9 600.9,757.7 C603.6,765.4 606.9,772.1 608.9,772.1 C610.9,772.1 614.3,767.2 616.9,757.7 C620.1,746.3 623.3,719.5 626.6,706.5 C629.8,693.4 633.8,679.2 636.2,679.2 C638.6,679.2 642.6,696.0 645.8,706.5 C649.0,716.9 653.0,741.0 655.4,741.7 C657.8,742.4 661.8,731.2 665.0,725.7 C667.6,721.0 671.0,711.3 673.0,711.3 C675.4,711.1 679.4,719.1 682.6,725.7 C686.3,733.3 690.1,744.7 693.8,754.5 C697.0,762.9 700.2,773.3 703.4,780.1 C708.2,790.2 714.2,802.6 717.8,802.5 C720.6,802.4 725.3,788.4 729.0,783.3 C731.7,779.7 734.4,776.4 737.0,775.3 C740.8,773.7 745.4,773.2 748.2,773.7 C750.6,774.1 754.6,780.7 757.8,786.5 C761.6,793.3 765.3,806.2 769.0,812.1 C771.7,816.3 775.0,819.2 777.0,819.2 C779.4,819.2 783.4,813.8 786.7,810.5 C789.9,807.2 793.1,801.7 796.3,799.3 C799.5,796.9 803.5,796.0 805.9,796.1 C808.3,796.2 812.3,799.3 815.5,800.9 C818.7,802.5 822.7,805.8 825.1,805.7 C827.5,805.7 831.5,801.8 834.7,799.3 C838.9,796.0 843.2,791.0 847.5,788.1 C851.8,785.2 857.1,781.8 860.3,781.7 C864.3,781.6 871.0,782.1 876.3,786.5 C879.5,789.1 882.7,795.1 885.9,799.3 C887.1,800.9 888.7,804.0 889.6,804.1 C891.6,804.4 894.9,804.1 897.6,802.5 C900.3,800.9 902.9,782.8 905.6,770.5 C908.3,758.2 911.0,736.9 913.6,728.9 C915.8,722.5 918.4,722.4 920.0,722.5 C922.4,722.5 927.2,734.1 929.6,733.7 C932.0,733.2 936.0,716.9 939.2,711.3 C942.4,705.7 945.6,704.6 948.8,700.0 C952.0,695.5 956.0,683.7 958.4,684.0 C960.0,684.2 962.7,689.4 964.9,700.0 C967.0,710.7 969.1,733.1 971.3,748.1 C973.4,763.0 975.5,779.8 977.7,789.7 C980.3,802.1 983.0,807.0 985.7,812.1 C988.3,817.2 991.7,820.2 993.7,820.1 C995.7,820.0 999.0,815.5 1001.7,808.9 C1003.8,803.7 1005.9,791.5 1008.1,786.5 C1010.7,780.2 1014.1,776.7 1016.1,776.9 C1018.5,777.1 1023.3,793.8 1025.7,794.5 C1028.5,795.3 1034.1,794.3 1036.9,794.5 C1038.5,794.6 1041.2,796.3 1043.3,797.7 C1046.0,799.4 1049.3,804.4 1051.3,804.1 C1052.9,803.9 1055.6,800.6 1057.7,792.9 C1059.8,785.2 1062.0,765.5 1064.1,757.7 C1067.3,745.9 1071.3,740.1 1073.7,740.1 C1075.7,740.1 1079.1,749.9 1081.7,754.5 C1084.9,760.0 1088.1,765.2 1091.3,770.5 C1094.5,775.8 1098.5,786.3 1100.9,786.5 C1102.5,786.7 1105.2,782.4 1107.3,780.1 C1110.0,777.2 1113.3,770.3 1115.3,770.5 C1117.3,770.7 1120.7,778.5 1123.3,786.5 C1125.5,792.9 1127.6,806.8 1129.8,812.1 C1131.4,816.1 1133.4,817.1 1134.6,816.9 C1136.2,816.7 1138.8,809.7 1141.0,805.7 C1144.7,798.7 1148.4,788.3 1152.2,783.3 C1155.4,779.0 1159.4,777.1 1161.8,776.9 C1165.0,776.6 1171.4,776.4 1174.6,776.9 C1177.0,777.3 1181.0,781.7 1184.2,786.5 C1186.9,790.5 1189.5,796.6 1192.2,802.5 C1194.9,808.4 1197.5,817.5 1200.2,821.7 C1202.3,825.1 1205.0,826.4 1206.6,826.5 C1209.8,826.8 1215.1,825.6 1219.4,824.9 C1223.7,824.2 1227.9,822.9 1232.2,822.4 C1238.6,821.5 1246.6,821.0 1251.4,821.1 C1255.4,821.2 1262.1,823.6 1267.4,824.9 C1269.6,825.4 1271.7,826.5 1273.8,826.5 C1351.8,826.9 1449.3,827.0 1507.8,826.9 C1510.3,826.1 1514.7,812.1 1518.1,806.2 C1521.1,801.0 1524.9,793.2 1527.2,793.3 C1529.4,793.4 1533.2,803.2 1536.2,808.8 C1539.2,814.4 1543.0,826.2 1545.3,826.9 C1555.3,827.0 1575.3,827.0 1585.3,826.9 C1587.9,825.7 1592.2,806.2 1595.7,795.9 C1599.3,785.0 1603.8,763.6 1606.6,763.5 C1608.7,763.5 1612.2,780.8 1615.1,788.1 C1618.1,795.9 1621.9,808.4 1624.1,808.8 C1626.1,809.2 1629.3,803.9 1631.9,801.0 C1634.1,798.7 1636.7,793.0 1638.4,793.3 C1640.3,793.6 1643.5,806.1 1646.1,811.4 C1649.1,817.5 1652.9,826.3 1655.2,826.9 C1657.8,827.0 1662.9,827.0 1665.5,826.9 C1668.1,825.7 1672.4,805.3 1675.9,795.9 C1679.3,786.4 1683.6,770.0 1686.2,770.0 C1688.8,770.0 1693.1,787.4 1696.6,795.9 C1700.9,806.4 1706.2,825.7 1709.5,826.9 C1718.9,827.0 1737.6,827.0 1747.0,826.9 C1749.9,825.8 1754.7,809.4 1758.6,798.4 C1762.9,786.3 1767.2,776.9 1771.6,757.1 C1774.1,745.2 1776.7,726.8 1779.3,710.5 C1782.6,689.9 1786.7,646.6 1789.1,645.9 C1791.2,645.3 1794.7,667.2 1797.4,684.7 C1800.4,703.8 1803.4,743.5 1806.5,757.1 C1809.1,768.7 1812.3,768.5 1814.2,768.7 C1816.8,769.0 1822.0,760.8 1824.6,760.9 C1826.5,761.1 1829.7,763.3 1832.3,770.0 C1834.5,775.6 1836.6,788.8 1838.8,795.9 C1841.8,805.8 1845.6,818.6 1847.8,819.1 C1849.8,819.6 1853.0,815.1 1855.6,811.4 C1859.5,805.8 1864.3,789.4 1867.2,789.4 C1869.5,789.4 1873.3,800.0 1876.3,806.2 C1879.3,812.5 1883.1,826.1 1885.3,826.9 C1889.9,827.0 1898.9,827.0 1903.4,826.9 C1905.5,825.9 1908.9,817.4 1911.6,801.0 C1913.8,788.1 1915.9,757.6 1918.1,744.1 C1920.7,728.0 1923.9,716.1 1925.9,715.7 C1927.5,715.4 1930.2,723.2 1932.3,731.2 C1934.5,739.2 1937.2,762.3 1938.8,763.5 C1941.1,765.2 1945.6,763.3 1947.8,763.5 C1949.5,763.7 1952.2,764.8 1954.3,767.4 C1956.9,770.6 1959.5,778.2 1962.1,781.6 C1964.7,785.1 1967.2,784.0 1969.8,788.1 C1972.4,792.2 1975.0,800.8 1977.6,806.2 C1980.2,811.6 1983.4,820.1 1985.3,820.4 C1987.0,820.7 1989.7,820.4 1991.8,816.6 C1994.4,811.9 1997.0,793.3 1999.6,785.5 C2003.0,775.2 2007.3,765.3 2009.9,764.8 C2012.2,764.4 2015.9,768.8 2019.0,772.6 C2021.6,775.8 2024.1,780.3 2026.7,785.5 C2028.9,789.9 2031.0,797.4 2033.2,801.0 C2034.9,804.0 2037.1,806.2 2038.4,806.2 C2040.3,806.2 2043.5,800.9 2046.1,798.4 C2049.0,795.7 2052.5,790.7 2054.7,790.7 C2056.7,790.7 2060.2,795.5 2062.9,798.4 C2065.5,801.2 2068.1,805.3 2070.7,807.5 C2073.3,809.7 2076.5,812.0 2078.4,811.9 C2080.4,811.8 2083.6,808.6 2086.2,803.6 C2088.4,799.5 2090.5,790.0 2092.7,785.5 C2094.8,781.0 2097.5,776.8 2099.1,776.5 C2101.7,775.9 2106.9,776.4 2109.5,776.5 C2111.7,776.6 2116.3,779.7 2118.5,779.1 C2120.2,778.6 2122.8,772.0 2125.0,764.8 C2126.7,759.1 2128.4,745.0 2130.2,741.6 C2131.5,739.0 2133.1,738.8 2134.1,739.0 C2135.3,739.1 2137.5,741.6 2139.2,746.7 C2140.9,751.9 2142.7,761.4 2144.4,770.0 C2146.1,778.6 2147.8,790.3 2149.6,798.4 C2151.3,806.6 2153.0,814.8 2154.7,819.1 C2156.5,823.4 2158.6,824.3 2159.9,824.3 C2161.5,824.3 2164.2,819.8 2166.4,816.6 C2168.5,813.3 2170.7,807.5 2172.8,804.9 C2175.0,802.3 2177.7,800.9 2179.3,801.0 C2181.2,801.2 2184.5,806.0 2187.1,808.8 C2190.1,812.0 2193.9,819.2 2196.1,819.1 C2198.4,819.0 2202.2,809.9 2205.2,806.2 C2207.8,803.1 2211.0,798.5 2212.9,798.4 C2215.2,798.4 2219.7,806.2 2222.0,806.2 C2223.6,806.2 2226.3,804.7 2228.4,801.0 C2231.5,795.9 2235.2,778.1 2237.5,777.8 C2239.4,777.5 2242.7,783.4 2245.3,790.7 C2247.4,796.8 2249.6,810.1 2251.7,816.6 C2253.4,821.7 2255.6,826.5 2256.9,826.9 C2259.5,827.0 2264.7,827.0 2267.2,826.9 C2269.8,826.8 2274.1,825.0 2277.6,823.0 C2279.3,822.0 2281.0,819.6 2282.8,819.1 C2287.9,817.8 2293.1,818.5 2298.3,817.8 C2300.9,817.5 2303.4,817.8 2306.0,816.6 C2307.3,815.9 2308.9,785.4 2309.9,811.4 C2309.9,812.0 2310.0,821.7 2310.0,826.9" fill="none" stroke="#2a2a2a" stroke-width="4.0" stroke-linejoin="round"/>
<line x1="386.0" y1="629.0" x2="386.0" y2="829.0" stroke="#1a1a1a" stroke-width="4.5"/>
<line x1="359.0" y1="827.0" x2="2310.0" y2="827.0" stroke="#1a1a1a" stroke-width="4.5"/>
<line x1="359.0" y1="827.0" x2="386.0" y2="827.0" stroke="#1a1a1a" stroke-width="4.5"/>
<line x1="371.0" y1="782.5" x2="386.0" y2="782.5" stroke="#1a1a1a" stroke-width="4.5"/>
<line x1="359.0" y1="738.0" x2="386.0" y2="738.0" stroke="#1a1a1a" stroke-width="4.5"/>
<line x1="371.0" y1="688.0" x2="386.0" y2="688.0" stroke="#1a1a1a" stroke-width="4.5"/>
<line x1="359.0" y1="644.5" x2="386.0" y2="644.5" stroke="#1a1a1a" stroke-width="4.5"/>
<text x="342.0" y="846.0" font-size="74" text-anchor="end">0</text>
<text x="342.0" y="757.0" font-size="74" text-anchor="end">2</text>
<text x="342.0" y="663.5" font-size="74" text-anchor="end">4</text>
<text x="2300.5" y="674.5" font-size="90.0" text-anchor="end">Carbon</text>
<path d="M386.4,1116.0 L386.4,1098.9 C389.1,1097.8 391.7,1098.9 394.4,1095.7 C397.1,1092.5 399.7,1081.3 402.4,1076.5 C405.6,1070.8 409.6,1065.2 412.0,1065.3 C414.0,1065.4 417.4,1073.3 420.0,1076.5 C422.7,1079.7 426.0,1084.6 428.0,1084.5 C430.4,1084.4 435.2,1073.4 437.6,1073.3 C439.6,1073.2 443.0,1076.0 445.6,1079.7 C448.8,1084.2 452.8,1098.9 455.2,1098.9 C457.2,1098.9 460.6,1087.8 463.3,1082.9 C466.5,1077.0 470.5,1067.1 472.9,1066.9 C474.9,1066.8 478.2,1072.0 480.9,1076.5 C483.5,1081.0 486.9,1093.7 488.9,1094.1 C490.5,1094.5 493.1,1094.1 495.3,1089.3 C497.4,1084.5 499.5,1056.5 501.7,1044.5 C503.8,1032.5 506.5,1017.7 508.1,1017.3 C510.1,1016.8 513.4,1032.9 516.1,1038.1 C518.2,1042.2 520.9,1046.2 522.5,1046.1 C524.5,1045.9 527.8,1032.8 530.5,1031.7 C534.2,1030.1 538.0,1031.7 541.7,1030.1 C543.8,1029.2 546.0,1022.4 548.1,1018.9 C550.6,1014.9 553.6,1007.5 555.5,1007.7 C557.6,1007.8 561.2,1018.0 564.1,1025.3 C566.2,1030.6 568.9,1043.8 570.5,1044.5 C572.1,1045.2 575.3,1045.6 576.9,1044.5 C578.5,1043.4 581.2,1030.1 583.3,1015.7 C585.5,1001.3 587.6,971.0 589.7,958.0 C592.1,943.7 595.0,935.7 596.8,935.6 C598.6,935.6 601.7,945.7 604.1,958.0 C606.3,968.7 608.4,988.4 610.5,1002.9 C612.7,1017.3 614.8,1034.8 616.9,1044.5 C619.6,1056.6 622.3,1064.2 625.0,1065.3 C628.7,1066.9 633.4,1066.8 636.2,1066.9 C639.4,1067.0 645.8,1066.8 649.0,1066.9 C651.4,1067.0 656.2,1068.8 658.6,1068.5 C661.0,1068.2 665.8,1059.8 668.2,1059.9 C671.0,1059.9 676.6,1071.4 679.4,1071.7 C682.2,1072.0 687.8,1066.7 690.6,1066.9 C692.6,1067.0 695.9,1067.8 698.6,1073.3 C700.2,1076.6 701.8,1085.4 703.4,1089.3 C705.5,1094.5 708.2,1099.0 709.8,1098.9 C711.8,1098.8 715.1,1092.7 717.8,1082.9 C719.4,1077.0 721.0,1063.2 722.6,1057.3 C724.7,1049.5 727.4,1044.4 729.0,1044.5 C731.0,1044.6 734.4,1056.5 737.0,1063.7 C739.7,1070.9 743.0,1087.0 745.0,1087.7 C746.6,1088.2 749.3,1087.7 751.4,1082.9 C753.0,1079.3 754.6,1063.5 756.2,1057.3 C758.7,1047.8 761.8,1039.6 763.6,1039.7 C765.4,1039.7 768.3,1047.9 770.6,1057.3 C772.8,1065.8 774.9,1084.5 777.0,1092.5 C779.2,1100.5 781.8,1105.0 783.4,1105.3 C785.4,1105.7 788.8,1102.1 791.5,1100.5 C794.1,1098.9 797.5,1095.7 799.5,1095.7 C801.9,1095.7 805.9,1099.3 809.1,1100.5 C811.2,1101.3 813.9,1102.8 815.5,1102.1 C817.5,1101.2 820.8,1082.6 823.5,1076.5 C826.1,1070.4 829.5,1065.3 831.5,1065.3 C833.9,1065.3 837.9,1073.5 841.1,1079.7 C843.8,1084.9 846.4,1094.5 849.1,1098.9 C851.8,1103.3 854.4,1105.4 857.1,1106.0 C861.4,1106.9 865.6,1106.0 869.9,1106.9 C873.1,1107.6 876.3,1110.1 879.5,1111.7 C881.8,1112.9 884.7,1115.3 886.4,1115.4 C892.8,1115.9 905.6,1116.0 912.0,1115.4 C915.2,1115.1 921.6,1105.8 924.8,1105.8 C928.0,1105.8 933.4,1114.3 937.6,1114.5 C972.9,1115.4 1016.9,1116.0 1043.3,1115.4 C1044.9,1115.0 1047.6,1106.1 1049.7,1103.3 C1053.4,1098.2 1058.1,1094.4 1060.9,1094.3 C1063.7,1094.2 1069.3,1099.9 1072.1,1100.0 C1076.1,1100.3 1084.1,1098.5 1088.1,1098.4 C1094.5,1098.4 1105.2,1098.4 1113.7,1100.0 C1116.9,1100.6 1120.1,1111.3 1123.3,1112.9 C1126.6,1114.5 1130.6,1115.0 1133.0,1114.5 C1134.6,1114.1 1137.2,1104.2 1139.4,1103.9 C1143.6,1103.3 1147.9,1103.9 1152.2,1103.3 C1157.5,1102.5 1162.8,1100.7 1168.2,1098.4 C1173.5,1096.2 1180.2,1089.5 1184.2,1089.8 C1186.6,1090.0 1190.6,1094.5 1193.8,1100.0 C1195.9,1103.7 1198.6,1114.9 1200.2,1115.4 C1205.0,1116.0 1213.0,1113.4 1219.4,1112.9 C1226.9,1112.3 1236.2,1112.1 1241.8,1112.2 C1247.4,1112.3 1258.6,1115.3 1264.2,1115.4 C1509.2,1116.0 1917.4,1115.4 2244.0,1114.7 C2246.1,1114.7 2248.3,1102.6 2250.4,1096.6 C2252.6,1090.5 2254.7,1082.4 2256.9,1078.4 C2259.5,1073.7 2262.1,1073.8 2264.7,1072.0 C2266.8,1070.4 2269.0,1072.0 2271.1,1068.1 C2272.4,1065.8 2273.7,1055.5 2275.0,1044.8 C2276.7,1030.6 2278.4,1003.7 2280.2,990.5 C2281.9,977.4 2284.1,966.2 2285.3,965.9 C2286.6,965.7 2288.8,972.2 2290.5,982.8 C2292.2,993.3 2294.0,1010.1 2295.7,1029.3 C2297.0,1043.7 2298.3,1070.5 2299.6,1081.0 C2300.9,1091.6 2302.2,1091.6 2303.4,1092.7 C2305.0,1094.0 2306.6,1092.7 2308.1,1094.0 C2308.4,1094.3 2308.8,1107.8 2309.1,1114.7 L2309.1,1116.0 Z" fill="#c0c0c0" stroke="none"/>
<path d="M386.4,1098.9 C389.1,1097.8 391.7,1098.9 394.4,1095.7 C397.1,1092.5 399.7,1081.3 402.4,1076.5 C405.6,1070.8 409.6,1065.2 412.0,1065.3 C414.0,1065.4 417.4,1073.3 420.0,1076.5 C422.7,1079.7 426.0,1084.6 428.0,1084.5 C430.4,1084.4 435.2,1073.4 437.6,1073.3 C439.6,1073.2 443.0,1076.0 445.6,1079.7 C448.8,1084.2 452.8,1098.9 455.2,1098.9 C457.2,1098.9 460.6,1087.8 463.3,1082.9 C466.5,1077.0 470.5,1067.1 472.9,1066.9 C474.9,1066.8 478.2,1072.0 480.9,1076.5 C483.5,1081.0 486.9,1093.7 488.9,1094.1 C490.5,1094.5 493.1,1094.1 495.3,1089.3 C497.4,1084.5 499.5,1056.5 501.7,1044.5 C503.8,1032.5 506.5,1017.7 508.1,1017.3 C510.1,1016.8 513.4,1032.9 516.1,1038.1 C518.2,1042.2 520.9,1046.2 522.5,1046.1 C524.5,1045.9 527.8,1032.8 530.5,1031.7 C534.2,1030.1 538.0,1031.7 541.7,1030.1 C543.8,1029.2 546.0,1022.4 548.1,1018.9 C550.6,1014.9 553.6,1007.5 555.5,1007.7 C557.6,1007.8 561.2,1018.0 564.1,1025.3 C566.2,1030.6 568.9,1043.8 570.5,1044.5 C572.1,1045.2 575.3,1045.6 576.9,1044.5 C578.5,1043.4 581.2,1030.1 583.3,1015.7 C585.5,1001.3 587.6,971.0 589.7,958.0 C592.1,943.7 595.0,935.7 596.8,935.6 C598.6,935.6 601.7,945.7 604.1,958.0 C606.3,968.7 608.4,988.4 610.5,1002.9 C612.7,1017.3 614.8,1034.8 616.9,1044.5 C619.6,1056.6 622.3,1064.2 625.0,1065.3 C628.7,1066.9 633.4,1066.8 636.2,1066.9 C639.4,1067.0 645.8,1066.8 649.0,1066.9 C651.4,1067.0 656.2,1068.8 658.6,1068.5 C661.0,1068.2 665.8,1059.8 668.2,1059.9 C671.0,1059.9 676.6,1071.4 679.4,1071.7 C682.2,1072.0 687.8,1066.7 690.6,1066.9 C692.6,1067.0 695.9,1067.8 698.6,1073.3 C700.2,1076.6 701.8,1085.4 703.4,1089.3 C705.5,1094.5 708.2,1099.0 709.8,1098.9 C711.8,1098.8 715.1,1092.7 717.8,1082.9 C719.4,1077.0 721.0,1063.2 722.6,1057.3 C724.7,1049.5 727.4,1044.4 729.0,1044.5 C731.0,1044.6 734.4,1056.5 737.0,1063.7 C739.7,1070.9 743.0,1087.0 745.0,1087.7 C746.6,1088.2 749.3,1087.7 751.4,1082.9 C753.0,1079.3 754.6,1063.5 756.2,1057.3 C758.7,1047.8 761.8,1039.6 763.6,1039.7 C765.4,1039.7 768.3,1047.9 770.6,1057.3 C772.8,1065.8 774.9,1084.5 777.0,1092.5 C779.2,1100.5 781.8,1105.0 783.4,1105.3 C785.4,1105.7 788.8,1102.1 791.5,1100.5 C794.1,1098.9 797.5,1095.7 799.5,1095.7 C801.9,1095.7 805.9,1099.3 809.1,1100.5 C811.2,1101.3 813.9,1102.8 815.5,1102.1 C817.5,1101.2 820.8,1082.6 823.5,1076.5 C826.1,1070.4 829.5,1065.3 831.5,1065.3 C833.9,1065.3 837.9,1073.5 841.1,1079.7 C843.8,1084.9 846.4,1094.5 849.1,1098.9 C851.8,1103.3 854.4,1105.4 857.1,1106.0 C861.4,1106.9 865.6,1106.0 869.9,1106.9 C873.1,1107.6 876.3,1110.1 879.5,1111.7 C881.8,1112.9 884.7,1115.3 886.4,1115.4 C892.8,1115.9 905.6,1116.0 912.0,1115.4 C915.2,1115.1 921.6,1105.8 924.8,1105.8 C928.0,1105.8 933.4,1114.3 937.6,1114.5 C972.9,1115.4 1016.9,1116.0 1043.3,1115.4 C1044.9,1115.0 1047.6,1106.1 1049.7,1103.3 C1053.4,1098.2 1058.1,1094.4 1060.9,1094.3 C1063.7,1094.2 1069.3,1099.9 1072.1,1100.0 C1076.1,1100.3 1084.1,1098.5 1088.1,1098.4 C1094.5,1098.4 1105.2,1098.4 1113.7,1100.0 C1116.9,1100.6 1120.1,1111.3 1123.3,1112.9 C1126.6,1114.5 1130.6,1115.0 1133.0,1114.5 C1134.6,1114.1 1137.2,1104.2 1139.4,1103.9 C1143.6,1103.3 1147.9,1103.9 1152.2,1103.3 C1157.5,1102.5 1162.8,1100.7 1168.2,1098.4 C1173.5,1096.2 1180.2,1089.5 1184.2,1089.8 C1186.6,1090.0 1190.6,1094.5 1193.8,1100.0 C1195.9,1103.7 1198.6,1114.9 1200.2,1115.4 C1205.0,1116.0 1213.0,1113.4 1219.4,1112.9 C1226.9,1112.3 1236.2,1112.1 1241.8,1112.2 C1247.4,1112.3 1258.6,1115.3 1264.2,1115.4 C1509.2,1116.0 1917.4,1115.4 2244.0,1114.7 C2246.1,1114.7 2248.3,1102.6 2250.4,1096.6 C2252.6,1090.5 2254.7,1082.4 2256.9,1078.4 C2259.5,1073.7 2262.1,1073.8 2264.7,1072.0 C2266.8,1070.4 2269.0,1072.0 2271.1,1068.1 C2272.4,1065.8 2273.7,1055.5 2275.0,1044.8 C2276.7,1030.6 2278.4,1003.7 2280.2,990.5 C2281.9,977.4 2284.1,966.2 2285.3,965.9 C2286.6,965.7 2288.8,972.2 2290.5,982.8 C2292.2,993.3 2294.0,1010.1 2295.7,1029.3 C2297.0,1043.7 2298.3,1070.5 2299.6,1081.0 C2300.9,1091.6 2302.2,1091.6 2303.4,1092.7 C2305.0,1094.0 2306.6,1092.7 2308.1,1094.0 C2308.4,1094.3 2308.8,1107.8 2309.1,1114.7" fill="none" stroke="#333333" stroke-width="4.0" stroke-linejoin="round"/>
<line x1="386.0" y1="917.0" x2="386.0" y2="1118.0" stroke="#1a1a1a" stroke-width="4.5"/>
<line x1="359.0" y1="1116.0" x2="2310.0" y2="1116.0" stroke="#1a1a1a" stroke-width="4.5"/>
<line x1="359.0" y1="1116.0" x2="386.0" y2="1116.0" stroke="#1a1a1a" stroke-width="4.5"/>
<line x1="371.0" y1="1049.5" x2="386.0" y2="1049.5" stroke="#1a1a1a" stroke-width="4.5"/>
<line x1="359.0" y1="981.0" x2="386.0" y2="981.0" stroke="#1a1a1a" stroke-width="4.5"/>
<text x="342.0" y="1135.0" font-size="74" text-anchor="end">0.0</text>
<text x="342.0" y="1000.0" font-size="74" text-anchor="end">0.5</text>
<text x="2302.0" y="929.0" font-size="90.0" text-anchor="end">Zinc</text>
<path d="M386.4,1405.0 L386.4,1316.9 C389.1,1315.3 391.7,1316.0 394.4,1312.1 C397.6,1307.4 400.8,1295.6 404.0,1289.7 C406.7,1284.7 410.0,1278.3 412.0,1278.4 C414.0,1278.6 417.4,1288.2 420.0,1292.9 C423.2,1298.4 427.2,1308.9 429.6,1308.9 C432.0,1308.9 436.0,1296.5 439.2,1292.9 C441.9,1289.8 444.6,1289.4 447.2,1288.1 C449.9,1286.7 452.6,1286.3 455.2,1284.9 C459.0,1282.8 463.7,1276.9 466.5,1276.8 C468.9,1276.8 472.9,1279.0 476.1,1283.3 C479.3,1287.5 482.5,1295.0 485.7,1302.5 C488.9,1309.9 492.1,1320.2 495.3,1328.1 C499.0,1337.3 503.7,1353.2 506.5,1353.7 C508.5,1354.0 511.8,1353.7 514.5,1344.1 C517.2,1334.5 519.8,1295.1 522.5,1280.0 C524.6,1268.0 527.3,1259.8 528.9,1259.2 C531.3,1258.4 536.1,1269.1 538.5,1268.8 C540.5,1268.6 543.8,1261.6 546.5,1254.4 C549.5,1246.4 553.2,1222.7 555.5,1222.4 C557.6,1222.1 561.2,1235.9 564.1,1244.8 C566.8,1253.1 569.4,1267.8 572.1,1273.6 C574.3,1278.3 576.9,1278.6 578.5,1278.4 C580.9,1278.2 585.7,1265.6 588.1,1265.6 C590.1,1265.7 593.5,1269.1 596.1,1276.8 C598.8,1284.6 601.5,1303.5 604.1,1312.1 C606.8,1320.6 610.1,1328.3 612.1,1328.1 C614.1,1327.8 617.5,1316.3 620.1,1305.7 C622.8,1295.0 625.5,1274.2 628.2,1264.0 C630.8,1253.9 634.2,1244.9 636.2,1244.8 C638.2,1244.7 641.5,1253.2 644.2,1260.8 C647.9,1271.5 652.6,1302.2 655.4,1302.5 C657.8,1302.7 661.8,1281.9 665.0,1273.6 C668.2,1265.4 672.2,1253.0 674.6,1252.8 C677.0,1252.7 681.0,1262.2 684.2,1270.4 C687.4,1278.7 690.6,1292.3 693.8,1302.5 C697.0,1312.6 700.2,1323.6 703.4,1331.3 C708.2,1342.8 714.2,1357.0 717.8,1356.9 C720.6,1356.8 725.3,1344.2 729.0,1334.5 C731.7,1327.5 734.4,1313.7 737.0,1308.9 C739.7,1304.1 743.0,1303.8 745.0,1304.1 C747.0,1304.3 750.4,1308.1 753.0,1315.3 C755.7,1322.5 758.4,1339.7 761.0,1347.3 C764.8,1358.0 768.5,1365.1 772.2,1366.5 C776.5,1368.1 781.8,1368.7 785.0,1368.1 C787.9,1367.6 792.5,1359.2 796.3,1353.7 C799.5,1349.0 802.7,1341.3 805.9,1337.7 C808.5,1334.7 811.9,1332.8 813.9,1332.9 C815.9,1332.9 819.9,1339.2 821.9,1339.3 C823.9,1339.3 827.2,1336.2 829.9,1334.5 C833.1,1332.5 837.1,1328.0 839.5,1328.1 C841.9,1328.1 845.9,1333.9 849.1,1336.1 C852.3,1338.2 856.3,1341.2 858.7,1340.9 C861.1,1340.5 865.1,1331.1 868.3,1326.5 C871.0,1322.6 874.3,1315.4 876.3,1315.3 C877.2,1315.2 878.8,1316.1 880.0,1318.5 C883.2,1324.7 886.4,1340.4 889.6,1347.3 C892.8,1354.2 896.8,1360.2 899.2,1360.1 C901.2,1360.0 904.5,1355.4 907.2,1347.3 C909.4,1340.8 911.5,1325.1 913.6,1318.5 C915.8,1311.8 918.4,1307.2 920.0,1307.3 C922.0,1307.3 925.4,1319.3 928.0,1323.3 C930.7,1327.3 934.0,1331.1 936.0,1331.3 C938.4,1331.5 942.4,1329.5 945.6,1326.5 C948.3,1323.9 951.0,1318.7 953.6,1315.3 C956.3,1311.8 959.6,1305.4 961.7,1305.7 C963.7,1305.9 967.0,1315.4 969.7,1321.7 C972.9,1329.1 976.1,1338.8 979.3,1347.3 C982.5,1355.8 985.7,1366.1 988.9,1372.9 C991.5,1378.6 994.9,1386.0 996.9,1385.7 C998.5,1385.5 1001.1,1378.2 1003.3,1369.7 C1005.4,1361.2 1007.5,1344.6 1009.7,1334.5 C1011.8,1324.3 1014.5,1309.1 1016.1,1308.9 C1018.1,1308.6 1021.4,1325.4 1024.1,1334.5 C1026.8,1343.6 1029.4,1356.4 1032.1,1363.3 C1034.8,1370.2 1037.4,1373.2 1040.1,1376.1 C1042.8,1379.0 1046.1,1381.2 1048.1,1380.9 C1050.5,1380.6 1054.5,1373.4 1057.7,1366.5 C1060.4,1360.8 1063.0,1349.3 1065.7,1344.1 C1068.2,1339.3 1071.2,1336.1 1073.1,1336.1 C1075.2,1336.1 1078.8,1342.4 1081.7,1345.7 C1084.9,1349.3 1088.1,1354.0 1091.3,1356.9 C1094.5,1359.8 1098.5,1363.2 1100.9,1363.3 C1102.5,1363.3 1105.2,1362.0 1107.3,1360.1 C1109.5,1358.2 1112.1,1352.0 1113.7,1352.1 C1115.7,1352.3 1119.1,1360.4 1121.7,1366.5 C1124.4,1372.6 1127.8,1388.2 1129.8,1388.9 C1131.4,1389.5 1134.0,1388.7 1136.2,1385.7 C1139.4,1381.2 1142.6,1370.2 1145.8,1363.3 C1149.0,1356.4 1152.2,1350.0 1155.4,1344.1 C1158.6,1338.2 1161.8,1331.3 1165.0,1328.1 C1168.2,1324.9 1172.2,1324.9 1174.6,1324.9 C1177.0,1324.9 1181.0,1324.9 1184.2,1328.1 C1186.3,1330.2 1188.5,1338.8 1190.6,1347.3 C1192.7,1355.8 1194.9,1370.2 1197.0,1379.3 C1199.1,1388.4 1201.8,1400.9 1203.4,1401.7 C1205.8,1403.0 1210.6,1402.8 1213.0,1401.7 C1214.6,1401.0 1217.3,1386.7 1219.4,1382.5 C1222.1,1377.3 1225.4,1375.7 1227.4,1375.5 C1230.2,1375.2 1235.8,1378.2 1238.6,1377.7 C1240.6,1377.3 1244.0,1369.4 1246.6,1366.5 C1249.3,1363.6 1252.6,1360.0 1254.6,1360.1 C1256.6,1360.2 1260.0,1364.1 1262.6,1369.7 C1264.8,1374.2 1266.9,1383.3 1269.0,1388.9 C1271.2,1394.5 1273.3,1403.3 1275.4,1403.3 C1353.7,1404.3 1451.6,1405.0 1510.3,1404.3 C1512.3,1403.6 1515.5,1390.5 1518.1,1386.2 C1521.1,1381.2 1524.9,1377.1 1527.2,1377.2 C1529.4,1377.3 1533.2,1383.8 1536.2,1388.8 C1538.8,1393.0 1542.0,1403.7 1544.0,1404.3 C1555.0,1405.0 1576.9,1405.0 1587.9,1404.3 C1589.9,1403.4 1593.1,1387.9 1595.7,1381.0 C1599.6,1370.7 1604.4,1354.0 1607.3,1353.9 C1609.3,1353.8 1612.5,1365.1 1615.1,1370.7 C1618.1,1377.2 1621.9,1389.6 1624.1,1390.1 C1626.1,1390.5 1629.3,1385.7 1631.9,1383.6 C1634.1,1381.9 1636.7,1378.2 1638.4,1378.4 C1640.3,1378.7 1643.5,1387.1 1646.1,1391.4 C1648.7,1395.7 1651.9,1403.8 1653.9,1404.3 C1657.4,1405.0 1664.5,1405.0 1668.1,1404.3 C1670.0,1403.4 1673.3,1388.0 1675.9,1381.0 C1679.3,1371.8 1683.6,1356.6 1686.2,1356.5 C1688.8,1356.4 1693.1,1370.5 1696.6,1378.4 C1700.0,1386.4 1704.3,1403.3 1706.9,1404.3 C1717.6,1405.0 1738.9,1405.0 1749.6,1404.3 C1752.5,1403.5 1757.3,1392.4 1761.2,1383.6 C1764.7,1375.8 1768.1,1368.2 1771.6,1355.2 C1773.7,1347.0 1775.9,1336.3 1778.0,1324.1 C1779.7,1314.4 1781.5,1297.8 1783.2,1290.5 C1785.2,1282.1 1787.7,1278.9 1789.1,1278.9 C1790.6,1278.9 1792.9,1282.4 1794.8,1290.5 C1796.6,1297.9 1798.3,1314.2 1800.0,1324.1 C1802.6,1339.0 1805.2,1357.8 1807.8,1362.9 C1810.3,1368.1 1813.6,1368.0 1815.5,1368.1 C1817.8,1368.2 1822.3,1364.1 1824.6,1364.2 C1826.5,1364.3 1829.7,1366.0 1832.3,1370.7 C1834.5,1374.6 1836.6,1384.1 1838.8,1388.8 C1841.8,1395.4 1845.6,1402.9 1847.8,1403.0 C1850.1,1403.1 1853.9,1395.4 1856.9,1391.4 C1860.3,1386.8 1864.7,1377.2 1867.2,1377.2 C1869.5,1377.1 1873.3,1384.3 1876.3,1388.8 C1879.3,1393.3 1883.1,1403.7 1885.3,1404.3 C1890.9,1405.0 1902.2,1405.0 1907.8,1404.3 C1909.4,1403.4 1912.1,1392.5 1914.2,1381.0 C1915.9,1371.9 1917.7,1353.3 1919.4,1344.8 C1921.7,1333.4 1924.6,1325.6 1926.4,1325.4 C1927.9,1325.2 1930.3,1332.0 1932.3,1337.1 C1934.5,1342.6 1936.6,1355.2 1938.8,1357.8 C1940.9,1360.3 1943.6,1360.4 1945.3,1360.3 C1946.9,1360.2 1950.1,1355.1 1951.7,1355.2 C1953.7,1355.2 1956.9,1360.2 1959.5,1362.9 C1962.5,1366.2 1965.5,1369.0 1968.5,1373.3 C1971.6,1377.6 1974.6,1384.7 1977.6,1388.8 C1980.2,1392.3 1983.4,1396.7 1985.3,1396.6 C1987.0,1396.4 1989.7,1393.1 1991.8,1386.2 C1994.0,1379.3 1996.1,1365.2 1998.3,1355.2 C2000.0,1347.2 2001.7,1336.6 2003.4,1331.9 C2005.6,1326.0 2008.3,1325.5 2009.9,1325.4 C2012.2,1325.3 2015.9,1327.0 2019.0,1330.6 C2021.6,1333.7 2024.1,1339.0 2026.7,1344.8 C2029.3,1350.6 2031.9,1360.8 2034.5,1365.5 C2036.2,1368.7 2038.4,1370.8 2039.7,1370.7 C2041.6,1370.6 2044.8,1363.1 2047.4,1360.3 C2049.6,1358.0 2052.3,1355.2 2053.9,1355.2 C2056.1,1355.2 2059.9,1359.5 2062.9,1362.9 C2065.9,1366.4 2069.0,1372.2 2072.0,1375.9 C2075.0,1379.5 2078.8,1385.0 2081.0,1384.9 C2083.3,1384.8 2087.1,1379.4 2090.1,1373.3 C2092.2,1368.9 2094.4,1359.3 2096.6,1355.2 C2098.7,1351.1 2101.4,1348.7 2103.0,1348.7 C2105.0,1348.8 2108.2,1355.2 2110.8,1357.8 C2113.4,1360.3 2116.6,1364.9 2118.5,1364.2 C2120.2,1363.7 2122.8,1351.9 2125.0,1344.8 C2127.2,1337.7 2129.3,1327.0 2131.5,1321.6 C2133.2,1317.2 2135.3,1313.7 2136.6,1313.8 C2137.9,1313.9 2140.1,1317.2 2141.8,1324.1 C2143.5,1331.0 2145.3,1345.7 2147.0,1355.2 C2148.7,1364.7 2150.4,1375.2 2152.2,1381.0 C2153.9,1386.9 2156.0,1390.1 2157.3,1390.1 C2158.6,1390.1 2160.8,1387.4 2162.5,1381.0 C2164.7,1373.1 2166.8,1356.3 2169.0,1344.8 C2170.7,1335.7 2172.4,1324.6 2174.1,1319.0 C2175.9,1313.4 2178.0,1311.1 2179.3,1311.2 C2180.6,1311.3 2182.8,1315.9 2184.5,1321.6 C2186.2,1327.2 2187.9,1335.8 2189.7,1344.8 C2191.4,1353.9 2193.1,1368.5 2194.8,1375.9 C2196.6,1383.2 2198.7,1388.5 2200.0,1388.8 C2201.6,1389.1 2204.3,1383.0 2206.5,1381.0 C2208.6,1379.1 2211.3,1377.1 2212.9,1377.2 C2214.9,1377.2 2218.8,1383.5 2220.7,1383.6 C2222.0,1383.7 2224.1,1383.6 2225.9,1381.0 C2228.0,1377.8 2230.2,1365.7 2232.3,1360.3 C2234.5,1355.0 2237.2,1348.7 2238.8,1348.7 C2240.4,1348.7 2243.1,1355.8 2245.3,1360.3 C2247.4,1364.9 2249.6,1374.2 2251.7,1375.9 C2253.4,1377.2 2255.6,1377.3 2256.9,1377.2 C2258.8,1377.0 2262.1,1373.1 2264.7,1370.7 C2267.2,1368.3 2269.8,1367.3 2272.4,1362.9 C2274.6,1359.3 2276.7,1352.2 2278.9,1347.4 C2281.5,1341.7 2284.7,1332.1 2286.6,1331.9 C2288.3,1331.7 2290.9,1335.7 2293.1,1339.7 C2295.7,1344.4 2298.3,1354.9 2300.9,1359.1 C2303.9,1363.9 2306.9,1359.1 2309.9,1365.5 C2309.9,1365.6 2310.0,1391.4 2310.0,1404.3 L2310.0,1405.0 Z" fill="url(#gA)" stroke="none" clip-path="url(#cA1)"/>
<path d="M386.4,1405.0 L386.4,1316.9 C389.1,1315.3 391.7,1316.0 394.4,1312.1 C397.6,1307.4 400.8,1295.6 404.0,1289.7 C406.7,1284.7 410.0,1278.3 412.0,1278.4 C414.0,1278.6 417.4,1288.2 420.0,1292.9 C423.2,1298.4 427.2,1308.9 429.6,1308.9 C432.0,1308.9 436.0,1296.5 439.2,1292.9 C441.9,1289.8 444.6,1289.4 447.2,1288.1 C449.9,1286.7 452.6,1286.3 455.2,1284.9 C459.0,1282.8 463.7,1276.9 466.5,1276.8 C468.9,1276.8 472.9,1279.0 476.1,1283.3 C479.3,1287.5 482.5,1295.0 485.7,1302.5 C488.9,1309.9 492.1,1320.2 495.3,1328.1 C499.0,1337.3 503.7,1353.2 506.5,1353.7 C508.5,1354.0 511.8,1353.7 514.5,1344.1 C517.2,1334.5 519.8,1295.1 522.5,1280.0 C524.6,1268.0 527.3,1259.8 528.9,1259.2 C531.3,1258.4 536.1,1269.1 538.5,1268.8 C540.5,1268.6 543.8,1261.6 546.5,1254.4 C549.5,1246.4 553.2,1222.7 555.5,1222.4 C557.6,1222.1 561.2,1235.9 564.1,1244.8 C566.8,1253.1 569.4,1267.8 572.1,1273.6 C574.3,1278.3 576.9,1278.6 578.5,1278.4 C580.9,1278.2 585.7,1265.6 588.1,1265.6 C590.1,1265.7 593.5,1269.1 596.1,1276.8 C598.8,1284.6 601.5,1303.5 604.1,1312.1 C606.8,1320.6 610.1,1328.3 612.1,1328.1 C614.1,1327.8 617.5,1316.3 620.1,1305.7 C622.8,1295.0 625.5,1274.2 628.2,1264.0 C630.8,1253.9 634.2,1244.9 636.2,1244.8 C638.2,1244.7 641.5,1253.2 644.2,1260.8 C647.9,1271.5 652.6,1302.2 655.4,1302.5 C657.8,1302.7 661.8,1281.9 665.0,1273.6 C668.2,1265.4 672.2,1253.0 674.6,1252.8 C677.0,1252.7 681.0,1262.2 684.2,1270.4 C687.4,1278.7 690.6,1292.3 693.8,1302.5 C697.0,1312.6 700.2,1323.6 703.4,1331.3 C708.2,1342.8 714.2,1357.0 717.8,1356.9 C720.6,1356.8 725.3,1344.2 729.0,1334.5 C731.7,1327.5 734.4,1313.7 737.0,1308.9 C739.7,1304.1 743.0,1303.8 745.0,1304.1 C747.0,1304.3 750.4,1308.1 753.0,1315.3 C755.7,1322.5 758.4,1339.7 761.0,1347.3 C764.8,1358.0 768.5,1365.1 772.2,1366.5 C776.5,1368.1 781.8,1368.7 785.0,1368.1 C787.9,1367.6 792.5,1359.2 796.3,1353.7 C799.5,1349.0 802.7,1341.3 805.9,1337.7 C808.5,1334.7 811.9,1332.8 813.9,1332.9 C815.9,1332.9 819.9,1339.2 821.9,1339.3 C823.9,1339.3 827.2,1336.2 829.9,1334.5 C833.1,1332.5 837.1,1328.0 839.5,1328.1 C841.9,1328.1 845.9,1333.9 849.1,1336.1 C852.3,1338.2 856.3,1341.2 858.7,1340.9 C861.1,1340.5 865.1,1331.1 868.3,1326.5 C871.0,1322.6 874.3,1315.4 876.3,1315.3 C877.2,1315.2 878.8,1316.1 880.0,1318.5 C883.2,1324.7 886.4,1340.4 889.6,1347.3 C892.8,1354.2 896.8,1360.2 899.2,1360.1 C901.2,1360.0 904.5,1355.4 907.2,1347.3 C909.4,1340.8 911.5,1325.1 913.6,1318.5 C915.8,1311.8 918.4,1307.2 920.0,1307.3 C922.0,1307.3 925.4,1319.3 928.0,1323.3 C930.7,1327.3 934.0,1331.1 936.0,1331.3 C938.4,1331.5 942.4,1329.5 945.6,1326.5 C948.3,1323.9 951.0,1318.7 953.6,1315.3 C956.3,1311.8 959.6,1305.4 961.7,1305.7 C963.7,1305.9 967.0,1315.4 969.7,1321.7 C972.9,1329.1 976.1,1338.8 979.3,1347.3 C982.5,1355.8 985.7,1366.1 988.9,1372.9 C991.5,1378.6 994.9,1386.0 996.9,1385.7 C998.5,1385.5 1001.1,1378.2 1003.3,1369.7 C1005.4,1361.2 1007.5,1344.6 1009.7,1334.5 C1011.8,1324.3 1014.5,1309.1 1016.1,1308.9 C1018.1,1308.6 1021.4,1325.4 1024.1,1334.5 C1026.8,1343.6 1029.4,1356.4 1032.1,1363.3 C1034.8,1370.2 1037.4,1373.2 1040.1,1376.1 C1042.8,1379.0 1046.1,1381.2 1048.1,1380.9 C1050.5,1380.6 1054.5,1373.4 1057.7,1366.5 C1060.4,1360.8 1063.0,1349.3 1065.7,1344.1 C1068.2,1339.3 1071.2,1336.1 1073.1,1336.1 C1075.2,1336.1 1078.8,1342.4 1081.7,1345.7 C1084.9,1349.3 1088.1,1354.0 1091.3,1356.9 C1094.5,1359.8 1098.5,1363.2 1100.9,1363.3 C1102.5,1363.3 1105.2,1362.0 1107.3,1360.1 C1109.5,1358.2 1112.1,1352.0 1113.7,1352.1 C1115.7,1352.3 1119.1,1360.4 1121.7,1366.5 C1124.4,1372.6 1127.8,1388.2 1129.8,1388.9 C1131.4,1389.5 1134.0,1388.7 1136.2,1385.7 C1139.4,1381.2 1142.6,1370.2 1145.8,1363.3 C1149.0,1356.4 1152.2,1350.0 1155.4,1344.1 C1158.6,1338.2 1161.8,1331.3 1165.0,1328.1 C1168.2,1324.9 1172.2,1324.9 1174.6,1324.9 C1177.0,1324.9 1181.0,1324.9 1184.2,1328.1 C1186.3,1330.2 1188.5,1338.8 1190.6,1347.3 C1192.7,1355.8 1194.9,1370.2 1197.0,1379.3 C1199.1,1388.4 1201.8,1400.9 1203.4,1401.7 C1205.8,1403.0 1210.6,1402.8 1213.0,1401.7 C1214.6,1401.0 1217.3,1386.7 1219.4,1382.5 C1222.1,1377.3 1225.4,1375.7 1227.4,1375.5 C1230.2,1375.2 1235.8,1378.2 1238.6,1377.7 C1240.6,1377.3 1244.0,1369.4 1246.6,1366.5 C1249.3,1363.6 1252.6,1360.0 1254.6,1360.1 C1256.6,1360.2 1260.0,1364.1 1262.6,1369.7 C1264.8,1374.2 1266.9,1383.3 1269.0,1388.9 C1271.2,1394.5 1273.3,1403.3 1275.4,1403.3 C1353.7,1404.3 1451.6,1405.0 1510.3,1404.3 C1512.3,1403.6 1515.5,1390.5 1518.1,1386.2 C1521.1,1381.2 1524.9,1377.1 1527.2,1377.2 C1529.4,1377.3 1533.2,1383.8 1536.2,1388.8 C1538.8,1393.0 1542.0,1403.7 1544.0,1404.3 C1555.0,1405.0 1576.9,1405.0 1587.9,1404.3 C1589.9,1403.4 1593.1,1387.9 1595.7,1381.0 C1599.6,1370.7 1604.4,1354.0 1607.3,1353.9 C1609.3,1353.8 1612.5,1365.1 1615.1,1370.7 C1618.1,1377.2 1621.9,1389.6 1624.1,1390.1 C1626.1,1390.5 1629.3,1385.7 1631.9,1383.6 C1634.1,1381.9 1636.7,1378.2 1638.4,1378.4 C1640.3,1378.7 1643.5,1387.1 1646.1,1391.4 C1648.7,1395.7 1651.9,1403.8 1653.9,1404.3 C1657.4,1405.0 1664.5,1405.0 1668.1,1404.3 C1670.0,1403.4 1673.3,1388.0 1675.9,1381.0 C1679.3,1371.8 1683.6,1356.6 1686.2,1356.5 C1688.8,1356.4 1693.1,1370.5 1696.6,1378.4 C1700.0,1386.4 1704.3,1403.3 1706.9,1404.3 C1717.6,1405.0 1738.9,1405.0 1749.6,1404.3 C1752.5,1403.5 1757.3,1392.4 1761.2,1383.6 C1764.7,1375.8 1768.1,1368.2 1771.6,1355.2 C1773.7,1347.0 1775.9,1336.3 1778.0,1324.1 C1779.7,1314.4 1781.5,1297.8 1783.2,1290.5 C1785.2,1282.1 1787.7,1278.9 1789.1,1278.9 C1790.6,1278.9 1792.9,1282.4 1794.8,1290.5 C1796.6,1297.9 1798.3,1314.2 1800.0,1324.1 C1802.6,1339.0 1805.2,1357.8 1807.8,1362.9 C1810.3,1368.1 1813.6,1368.0 1815.5,1368.1 C1817.8,1368.2 1822.3,1364.1 1824.6,1364.2 C1826.5,1364.3 1829.7,1366.0 1832.3,1370.7 C1834.5,1374.6 1836.6,1384.1 1838.8,1388.8 C1841.8,1395.4 1845.6,1402.9 1847.8,1403.0 C1850.1,1403.1 1853.9,1395.4 1856.9,1391.4 C1860.3,1386.8 1864.7,1377.2 1867.2,1377.2 C1869.5,1377.1 1873.3,1384.3 1876.3,1388.8 C1879.3,1393.3 1883.1,1403.7 1885.3,1404.3 C1890.9,1405.0 1902.2,1405.0 1907.8,1404.3 C1909.4,1403.4 1912.1,1392.5 1914.2,1381.0 C1915.9,1371.9 1917.7,1353.3 1919.4,1344.8 C1921.7,1333.4 1924.6,1325.6 1926.4,1325.4 C1927.9,1325.2 1930.3,1332.0 1932.3,1337.1 C1934.5,1342.6 1936.6,1355.2 1938.8,1357.8 C1940.9,1360.3 1943.6,1360.4 1945.3,1360.3 C1946.9,1360.2 1950.1,1355.1 1951.7,1355.2 C1953.7,1355.2 1956.9,1360.2 1959.5,1362.9 C1962.5,1366.2 1965.5,1369.0 1968.5,1373.3 C1971.6,1377.6 1974.6,1384.7 1977.6,1388.8 C1980.2,1392.3 1983.4,1396.7 1985.3,1396.6 C1987.0,1396.4 1989.7,1393.1 1991.8,1386.2 C1994.0,1379.3 1996.1,1365.2 1998.3,1355.2 C2000.0,1347.2 2001.7,1336.6 2003.4,1331.9 C2005.6,1326.0 2008.3,1325.5 2009.9,1325.4 C2012.2,1325.3 2015.9,1327.0 2019.0,1330.6 C2021.6,1333.7 2024.1,1339.0 2026.7,1344.8 C2029.3,1350.6 2031.9,1360.8 2034.5,1365.5 C2036.2,1368.7 2038.4,1370.8 2039.7,1370.7 C2041.6,1370.6 2044.8,1363.1 2047.4,1360.3 C2049.6,1358.0 2052.3,1355.2 2053.9,1355.2 C2056.1,1355.2 2059.9,1359.5 2062.9,1362.9 C2065.9,1366.4 2069.0,1372.2 2072.0,1375.9 C2075.0,1379.5 2078.8,1385.0 2081.0,1384.9 C2083.3,1384.8 2087.1,1379.4 2090.1,1373.3 C2092.2,1368.9 2094.4,1359.3 2096.6,1355.2 C2098.7,1351.1 2101.4,1348.7 2103.0,1348.7 C2105.0,1348.8 2108.2,1355.2 2110.8,1357.8 C2113.4,1360.3 2116.6,1364.9 2118.5,1364.2 C2120.2,1363.7 2122.8,1351.9 2125.0,1344.8 C2127.2,1337.7 2129.3,1327.0 2131.5,1321.6 C2133.2,1317.2 2135.3,1313.7 2136.6,1313.8 C2137.9,1313.9 2140.1,1317.2 2141.8,1324.1 C2143.5,1331.0 2145.3,1345.7 2147.0,1355.2 C2148.7,1364.7 2150.4,1375.2 2152.2,1381.0 C2153.9,1386.9 2156.0,1390.1 2157.3,1390.1 C2158.6,1390.1 2160.8,1387.4 2162.5,1381.0 C2164.7,1373.1 2166.8,1356.3 2169.0,1344.8 C2170.7,1335.7 2172.4,1324.6 2174.1,1319.0 C2175.9,1313.4 2178.0,1311.1 2179.3,1311.2 C2180.6,1311.3 2182.8,1315.9 2184.5,1321.6 C2186.2,1327.2 2187.9,1335.8 2189.7,1344.8 C2191.4,1353.9 2193.1,1368.5 2194.8,1375.9 C2196.6,1383.2 2198.7,1388.5 2200.0,1388.8 C2201.6,1389.1 2204.3,1383.0 2206.5,1381.0 C2208.6,1379.1 2211.3,1377.1 2212.9,1377.2 C2214.9,1377.2 2218.8,1383.5 2220.7,1383.6 C2222.0,1383.7 2224.1,1383.6 2225.9,1381.0 C2228.0,1377.8 2230.2,1365.7 2232.3,1360.3 C2234.5,1355.0 2237.2,1348.7 2238.8,1348.7 C2240.4,1348.7 2243.1,1355.8 2245.3,1360.3 C2247.4,1364.9 2249.6,1374.2 2251.7,1375.9 C2253.4,1377.2 2255.6,1377.3 2256.9,1377.2 C2258.8,1377.0 2262.1,1373.1 2264.7,1370.7 C2267.2,1368.3 2269.8,1367.3 2272.4,1362.9 C2274.6,1359.3 2276.7,1352.2 2278.9,1347.4 C2281.5,1341.7 2284.7,1332.1 2286.6,1331.9 C2288.3,1331.7 2290.9,1335.7 2293.1,1339.7 C2295.7,1344.4 2298.3,1354.9 2300.9,1359.1 C2303.9,1363.9 2306.9,1359.1 2309.9,1365.5 C2309.9,1365.6 2310.0,1391.4 2310.0,1404.3 L2310.0,1405.0 Z" fill="url(#gA2)" stroke="none" clip-path="url(#cA2)"/>
<path d="M386.4,1405.0 L386.4,1316.9 C389.1,1315.3 391.7,1316.0 394.4,1312.1 C397.6,1307.4 400.8,1295.6 404.0,1289.7 C406.7,1284.7 410.0,1278.3 412.0,1278.4 C414.0,1278.6 417.4,1288.2 420.0,1292.9 C423.2,1298.4 427.2,1308.9 429.6,1308.9 C432.0,1308.9 436.0,1296.5 439.2,1292.9 C441.9,1289.8 444.6,1289.4 447.2,1288.1 C449.9,1286.7 452.6,1286.3 455.2,1284.9 C459.0,1282.8 463.7,1276.9 466.5,1276.8 C468.9,1276.8 472.9,1279.0 476.1,1283.3 C479.3,1287.5 482.5,1295.0 485.7,1302.5 C488.9,1309.9 492.1,1320.2 495.3,1328.1 C499.0,1337.3 503.7,1353.2 506.5,1353.7 C508.5,1354.0 511.8,1353.7 514.5,1344.1 C517.2,1334.5 519.8,1295.1 522.5,1280.0 C524.6,1268.0 527.3,1259.8 528.9,1259.2 C531.3,1258.4 536.1,1269.1 538.5,1268.8 C540.5,1268.6 543.8,1261.6 546.5,1254.4 C549.5,1246.4 553.2,1222.7 555.5,1222.4 C557.6,1222.1 561.2,1235.9 564.1,1244.8 C566.8,1253.1 569.4,1267.8 572.1,1273.6 C574.3,1278.3 576.9,1278.6 578.5,1278.4 C580.9,1278.2 585.7,1265.6 588.1,1265.6 C590.1,1265.7 593.5,1269.1 596.1,1276.8 C598.8,1284.6 601.5,1303.5 604.1,1312.1 C606.8,1320.6 610.1,1328.3 612.1,1328.1 C614.1,1327.8 617.5,1316.3 620.1,1305.7 C622.8,1295.0 625.5,1274.2 628.2,1264.0 C630.8,1253.9 634.2,1244.9 636.2,1244.8 C638.2,1244.7 641.5,1253.2 644.2,1260.8 C647.9,1271.5 652.6,1302.2 655.4,1302.5 C657.8,1302.7 661.8,1281.9 665.0,1273.6 C668.2,1265.4 672.2,1253.0 674.6,1252.8 C677.0,1252.7 681.0,1262.2 684.2,1270.4 C687.4,1278.7 690.6,1292.3 693.8,1302.5 C697.0,1312.6 700.2,1323.6 703.4,1331.3 C708.2,1342.8 714.2,1357.0 717.8,1356.9 C720.6,1356.8 725.3,1344.2 729.0,1334.5 C731.7,1327.5 734.4,1313.7 737.0,1308.9 C739.7,1304.1 743.0,1303.8 745.0,1304.1 C747.0,1304.3 750.4,1308.1 753.0,1315.3 C755.7,1322.5 758.4,1339.7 761.0,1347.3 C764.8,1358.0 768.5,1365.1 772.2,1366.5 C776.5,1368.1 781.8,1368.7 785.0,1368.1 C787.9,1367.6 792.5,1359.2 796.3,1353.7 C799.5,1349.0 802.7,1341.3 805.9,1337.7 C808.5,1334.7 811.9,1332.8 813.9,1332.9 C815.9,1332.9 819.9,1339.2 821.9,1339.3 C823.9,1339.3 827.2,1336.2 829.9,1334.5 C833.1,1332.5 837.1,1328.0 839.5,1328.1 C841.9,1328.1 845.9,1333.9 849.1,1336.1 C852.3,1338.2 856.3,1341.2 858.7,1340.9 C861.1,1340.5 865.1,1331.1 868.3,1326.5 C871.0,1322.6 874.3,1315.4 876.3,1315.3 C877.2,1315.2 878.8,1316.1 880.0,1318.5 C883.2,1324.7 886.4,1340.4 889.6,1347.3 C892.8,1354.2 896.8,1360.2 899.2,1360.1 C901.2,1360.0 904.5,1355.4 907.2,1347.3 C909.4,1340.8 911.5,1325.1 913.6,1318.5 C915.8,1311.8 918.4,1307.2 920.0,1307.3 C922.0,1307.3 925.4,1319.3 928.0,1323.3 C930.7,1327.3 934.0,1331.1 936.0,1331.3 C938.4,1331.5 942.4,1329.5 945.6,1326.5 C948.3,1323.9 951.0,1318.7 953.6,1315.3 C956.3,1311.8 959.6,1305.4 961.7,1305.7 C963.7,1305.9 967.0,1315.4 969.7,1321.7 C972.9,1329.1 976.1,1338.8 979.3,1347.3 C982.5,1355.8 985.7,1366.1 988.9,1372.9 C991.5,1378.6 994.9,1386.0 996.9,1385.7 C998.5,1385.5 1001.1,1378.2 1003.3,1369.7 C1005.4,1361.2 1007.5,1344.6 1009.7,1334.5 C1011.8,1324.3 1014.5,1309.1 1016.1,1308.9 C1018.1,1308.6 1021.4,1325.4 1024.1,1334.5 C1026.8,1343.6 1029.4,1356.4 1032.1,1363.3 C1034.8,1370.2 1037.4,1373.2 1040.1,1376.1 C1042.8,1379.0 1046.1,1381.2 1048.1,1380.9 C1050.5,1380.6 1054.5,1373.4 1057.7,1366.5 C1060.4,1360.8 1063.0,1349.3 1065.7,1344.1 C1068.2,1339.3 1071.2,1336.1 1073.1,1336.1 C1075.2,1336.1 1078.8,1342.4 1081.7,1345.7 C1084.9,1349.3 1088.1,1354.0 1091.3,1356.9 C1094.5,1359.8 1098.5,1363.2 1100.9,1363.3 C1102.5,1363.3 1105.2,1362.0 1107.3,1360.1 C1109.5,1358.2 1112.1,1352.0 1113.7,1352.1 C1115.7,1352.3 1119.1,1360.4 1121.7,1366.5 C1124.4,1372.6 1127.8,1388.2 1129.8,1388.9 C1131.4,1389.5 1134.0,1388.7 1136.2,1385.7 C1139.4,1381.2 1142.6,1370.2 1145.8,1363.3 C1149.0,1356.4 1152.2,1350.0 1155.4,1344.1 C1158.6,1338.2 1161.8,1331.3 1165.0,1328.1 C1168.2,1324.9 1172.2,1324.9 1174.6,1324.9 C1177.0,1324.9 1181.0,1324.9 1184.2,1328.1 C1186.3,1330.2 1188.5,1338.8 1190.6,1347.3 C1192.7,1355.8 1194.9,1370.2 1197.0,1379.3 C1199.1,1388.4 1201.8,1400.9 1203.4,1401.7 C1205.8,1403.0 1210.6,1402.8 1213.0,1401.7 C1214.6,1401.0 1217.3,1386.7 1219.4,1382.5 C1222.1,1377.3 1225.4,1375.7 1227.4,1375.5 C1230.2,1375.2 1235.8,1378.2 1238.6,1377.7 C1240.6,1377.3 1244.0,1369.4 1246.6,1366.5 C1249.3,1363.6 1252.6,1360.0 1254.6,1360.1 C1256.6,1360.2 1260.0,1364.1 1262.6,1369.7 C1264.8,1374.2 1266.9,1383.3 1269.0,1388.9 C1271.2,1394.5 1273.3,1403.3 1275.4,1403.3 C1353.7,1404.3 1451.6,1405.0 1510.3,1404.3 C1512.3,1403.6 1515.5,1390.5 1518.1,1386.2 C1521.1,1381.2 1524.9,1377.1 1527.2,1377.2 C1529.4,1377.3 1533.2,1383.8 1536.2,1388.8 C1538.8,1393.0 1542.0,1403.7 1544.0,1404.3 C1555.0,1405.0 1576.9,1405.0 1587.9,1404.3 C1589.9,1403.4 1593.1,1387.9 1595.7,1381.0 C1599.6,1370.7 1604.4,1354.0 1607.3,1353.9 C1609.3,1353.8 1612.5,1365.1 1615.1,1370.7 C1618.1,1377.2 1621.9,1389.6 1624.1,1390.1 C1626.1,1390.5 1629.3,1385.7 1631.9,1383.6 C1634.1,1381.9 1636.7,1378.2 1638.4,1378.4 C1640.3,1378.7 1643.5,1387.1 1646.1,1391.4 C1648.7,1395.7 1651.9,1403.8 1653.9,1404.3 C1657.4,1405.0 1664.5,1405.0 1668.1,1404.3 C1670.0,1403.4 1673.3,1388.0 1675.9,1381.0 C1679.3,1371.8 1683.6,1356.6 1686.2,1356.5 C1688.8,1356.4 1693.1,1370.5 1696.6,1378.4 C1700.0,1386.4 1704.3,1403.3 1706.9,1404.3 C1717.6,1405.0 1738.9,1405.0 1749.6,1404.3 C1752.5,1403.5 1757.3,1392.4 1761.2,1383.6 C1764.7,1375.8 1768.1,1368.2 1771.6,1355.2 C1773.7,1347.0 1775.9,1336.3 1778.0,1324.1 C1779.7,1314.4 1781.5,1297.8 1783.2,1290.5 C1785.2,1282.1 1787.7,1278.9 1789.1,1278.9 C1790.6,1278.9 1792.9,1282.4 1794.8,1290.5 C1796.6,1297.9 1798.3,1314.2 1800.0,1324.1 C1802.6,1339.0 1805.2,1357.8 1807.8,1362.9 C1810.3,1368.1 1813.6,1368.0 1815.5,1368.1 C1817.8,1368.2 1822.3,1364.1 1824.6,1364.2 C1826.5,1364.3 1829.7,1366.0 1832.3,1370.7 C1834.5,1374.6 1836.6,1384.1 1838.8,1388.8 C1841.8,1395.4 1845.6,1402.9 1847.8,1403.0 C1850.1,1403.1 1853.9,1395.4 1856.9,1391.4 C1860.3,1386.8 1864.7,1377.2 1867.2,1377.2 C1869.5,1377.1 1873.3,1384.3 1876.3,1388.8 C1879.3,1393.3 1883.1,1403.7 1885.3,1404.3 C1890.9,1405.0 1902.2,1405.0 1907.8,1404.3 C1909.4,1403.4 1912.1,1392.5 1914.2,1381.0 C1915.9,1371.9 1917.7,1353.3 1919.4,1344.8 C1921.7,1333.4 1924.6,1325.6 1926.4,1325.4 C1927.9,1325.2 1930.3,1332.0 1932.3,1337.1 C1934.5,1342.6 1936.6,1355.2 1938.8,1357.8 C1940.9,1360.3 1943.6,1360.4 1945.3,1360.3 C1946.9,1360.2 1950.1,1355.1 1951.7,1355.2 C1953.7,1355.2 1956.9,1360.2 1959.5,1362.9 C1962.5,1366.2 1965.5,1369.0 1968.5,1373.3 C1971.6,1377.6 1974.6,1384.7 1977.6,1388.8 C1980.2,1392.3 1983.4,1396.7 1985.3,1396.6 C1987.0,1396.4 1989.7,1393.1 1991.8,1386.2 C1994.0,1379.3 1996.1,1365.2 1998.3,1355.2 C2000.0,1347.2 2001.7,1336.6 2003.4,1331.9 C2005.6,1326.0 2008.3,1325.5 2009.9,1325.4 C2012.2,1325.3 2015.9,1327.0 2019.0,1330.6 C2021.6,1333.7 2024.1,1339.0 2026.7,1344.8 C2029.3,1350.6 2031.9,1360.8 2034.5,1365.5 C2036.2,1368.7 2038.4,1370.8 2039.7,1370.7 C2041.6,1370.6 2044.8,1363.1 2047.4,1360.3 C2049.6,1358.0 2052.3,1355.2 2053.9,1355.2 C2056.1,1355.2 2059.9,1359.5 2062.9,1362.9 C2065.9,1366.4 2069.0,1372.2 2072.0,1375.9 C2075.0,1379.5 2078.8,1385.0 2081.0,1384.9 C2083.3,1384.8 2087.1,1379.4 2090.1,1373.3 C2092.2,1368.9 2094.4,1359.3 2096.6,1355.2 C2098.7,1351.1 2101.4,1348.7 2103.0,1348.7 C2105.0,1348.8 2108.2,1355.2 2110.8,1357.8 C2113.4,1360.3 2116.6,1364.9 2118.5,1364.2 C2120.2,1363.7 2122.8,1351.9 2125.0,1344.8 C2127.2,1337.7 2129.3,1327.0 2131.5,1321.6 C2133.2,1317.2 2135.3,1313.7 2136.6,1313.8 C2137.9,1313.9 2140.1,1317.2 2141.8,1324.1 C2143.5,1331.0 2145.3,1345.7 2147.0,1355.2 C2148.7,1364.7 2150.4,1375.2 2152.2,1381.0 C2153.9,1386.9 2156.0,1390.1 2157.3,1390.1 C2158.6,1390.1 2160.8,1387.4 2162.5,1381.0 C2164.7,1373.1 2166.8,1356.3 2169.0,1344.8 C2170.7,1335.7 2172.4,1324.6 2174.1,1319.0 C2175.9,1313.4 2178.0,1311.1 2179.3,1311.2 C2180.6,1311.3 2182.8,1315.9 2184.5,1321.6 C2186.2,1327.2 2187.9,1335.8 2189.7,1344.8 C2191.4,1353.9 2193.1,1368.5 2194.8,1375.9 C2196.6,1383.2 2198.7,1388.5 2200.0,1388.8 C2201.6,1389.1 2204.3,1383.0 2206.5,1381.0 C2208.6,1379.1 2211.3,1377.1 2212.9,1377.2 C2214.9,1377.2 2218.8,1383.5 2220.7,1383.6 C2222.0,1383.7 2224.1,1383.6 2225.9,1381.0 C2228.0,1377.8 2230.2,1365.7 2232.3,1360.3 C2234.5,1355.0 2237.2,1348.7 2238.8,1348.7 C2240.4,1348.7 2243.1,1355.8 2245.3,1360.3 C2247.4,1364.9 2249.6,1374.2 2251.7,1375.9 C2253.4,1377.2 2255.6,1377.3 2256.9,1377.2 C2258.8,1377.0 2262.1,1373.1 2264.7,1370.7 C2267.2,1368.3 2269.8,1367.3 2272.4,1362.9 C2274.6,1359.3 2276.7,1352.2 2278.9,1347.4 C2281.5,1341.7 2284.7,1332.1 2286.6,1331.9 C2288.3,1331.7 2290.9,1335.7 2293.1,1339.7 C2295.7,1344.4 2298.3,1354.9 2300.9,1359.1 C2303.9,1363.9 2306.9,1359.1 2309.9,1365.5 C2309.9,1365.6 2310.0,1391.4 2310.0,1404.3 L2310.0,1405.0 Z" fill="url(#gA3)" stroke="none" clip-path="url(#cA3)"/>
<path d="M386.4,1316.9 C389.1,1315.3 391.7,1316.0 394.4,1312.1 C397.6,1307.4 400.8,1295.6 404.0,1289.7 C406.7,1284.7 410.0,1278.3 412.0,1278.4 C414.0,1278.6 417.4,1288.2 420.0,1292.9 C423.2,1298.4 427.2,1308.9 429.6,1308.9 C432.0,1308.9 436.0,1296.5 439.2,1292.9 C441.9,1289.8 444.6,1289.4 447.2,1288.1 C449.9,1286.7 452.6,1286.3 455.2,1284.9 C459.0,1282.8 463.7,1276.9 466.5,1276.8 C468.9,1276.8 472.9,1279.0 476.1,1283.3 C479.3,1287.5 482.5,1295.0 485.7,1302.5 C488.9,1309.9 492.1,1320.2 495.3,1328.1 C499.0,1337.3 503.7,1353.2 506.5,1353.7 C508.5,1354.0 511.8,1353.7 514.5,1344.1 C517.2,1334.5 519.8,1295.1 522.5,1280.0 C524.6,1268.0 527.3,1259.8 528.9,1259.2 C531.3,1258.4 536.1,1269.1 538.5,1268.8 C540.5,1268.6 543.8,1261.6 546.5,1254.4 C549.5,1246.4 553.2,1222.7 555.5,1222.4 C557.6,1222.1 561.2,1235.9 564.1,1244.8 C566.8,1253.1 569.4,1267.8 572.1,1273.6 C574.3,1278.3 576.9,1278.6 578.5,1278.4 C580.9,1278.2 585.7,1265.6 588.1,1265.6 C590.1,1265.7 593.5,1269.1 596.1,1276.8 C598.8,1284.6 601.5,1303.5 604.1,1312.1 C606.8,1320.6 610.1,1328.3 612.1,1328.1 C614.1,1327.8 617.5,1316.3 620.1,1305.7 C622.8,1295.0 625.5,1274.2 628.2,1264.0 C630.8,1253.9 634.2,1244.9 636.2,1244.8 C638.2,1244.7 641.5,1253.2 644.2,1260.8 C647.9,1271.5 652.6,1302.2 655.4,1302.5 C657.8,1302.7 661.8,1281.9 665.0,1273.6 C668.2,1265.4 672.2,1253.0 674.6,1252.8 C677.0,1252.7 681.0,1262.2 684.2,1270.4 C687.4,1278.7 690.6,1292.3 693.8,1302.5 C697.0,1312.6 700.2,1323.6 703.4,1331.3 C708.2,1342.8 714.2,1357.0 717.8,1356.9 C720.6,1356.8 725.3,1344.2 729.0,1334.5 C731.7,1327.5 734.4,1313.7 737.0,1308.9 C739.7,1304.1 743.0,1303.8 745.0,1304.1 C747.0,1304.3 750.4,1308.1 753.0,1315.3 C755.7,1322.5 758.4,1339.7 761.0,1347.3 C764.8,1358.0 768.5,1365.1 772.2,1366.5 C776.5,1368.1 781.8,1368.7 785.0,1368.1 C787.9,1367.6 792.5,1359.2 796.3,1353.7 C799.5,1349.0 802.7,1341.3 805.9,1337.7 C808.5,1334.7 811.9,1332.8 813.9,1332.9 C815.9,1332.9 819.9,1339.2 821.9,1339.3 C823.9,1339.3 827.2,1336.2 829.9,1334.5 C833.1,1332.5 837.1,1328.0 839.5,1328.1 C841.9,1328.1 845.9,1333.9 849.1,1336.1 C852.3,1338.2 856.3,1341.2 858.7,1340.9 C861.1,1340.5 865.1,1331.1 868.3,1326.5 C871.0,1322.6 874.3,1315.4 876.3,1315.3 C877.2,1315.2 878.8,1316.1 880.0,1318.5 C883.2,1324.7 886.4,1340.4 889.6,1347.3 C892.8,1354.2 896.8,1360.2 899.2,1360.1 C901.2,1360.0 904.5,1355.4 907.2,1347.3 C909.4,1340.8 911.5,1325.1 913.6,1318.5 C915.8,1311.8 918.4,1307.2 920.0,1307.3 C922.0,1307.3 925.4,1319.3 928.0,1323.3 C930.7,1327.3 934.0,1331.1 936.0,1331.3 C938.4,1331.5 942.4,1329.5 945.6,1326.5 C948.3,1323.9 951.0,1318.7 953.6,1315.3 C956.3,1311.8 959.6,1305.4 961.7,1305.7 C963.7,1305.9 967.0,1315.4 969.7,1321.7 C972.9,1329.1 976.1,1338.8 979.3,1347.3 C982.5,1355.8 985.7,1366.1 988.9,1372.9 C991.5,1378.6 994.9,1386.0 996.9,1385.7 C998.5,1385.5 1001.1,1378.2 1003.3,1369.7 C1005.4,1361.2 1007.5,1344.6 1009.7,1334.5 C1011.8,1324.3 1014.5,1309.1 1016.1,1308.9 C1018.1,1308.6 1021.4,1325.4 1024.1,1334.5 C1026.8,1343.6 1029.4,1356.4 1032.1,1363.3 C1034.8,1370.2 1037.4,1373.2 1040.1,1376.1 C1042.8,1379.0 1046.1,1381.2 1048.1,1380.9 C1050.5,1380.6 1054.5,1373.4 1057.7,1366.5 C1060.4,1360.8 1063.0,1349.3 1065.7,1344.1 C1068.2,1339.3 1071.2,1336.1 1073.1,1336.1 C1075.2,1336.1 1078.8,1342.4 1081.7,1345.7 C1084.9,1349.3 1088.1,1354.0 1091.3,1356.9 C1094.5,1359.8 1098.5,1363.2 1100.9,1363.3 C1102.5,1363.3 1105.2,1362.0 1107.3,1360.1 C1109.5,1358.2 1112.1,1352.0 1113.7,1352.1 C1115.7,1352.3 1119.1,1360.4 1121.7,1366.5 C1124.4,1372.6 1127.8,1388.2 1129.8,1388.9 C1131.4,1389.5 1134.0,1388.7 1136.2,1385.7 C1139.4,1381.2 1142.6,1370.2 1145.8,1363.3 C1149.0,1356.4 1152.2,1350.0 1155.4,1344.1 C1158.6,1338.2 1161.8,1331.3 1165.0,1328.1 C1168.2,1324.9 1172.2,1324.9 1174.6,1324.9 C1177.0,1324.9 1181.0,1324.9 1184.2,1328.1 C1186.3,1330.2 1188.5,1338.8 1190.6,1347.3 C1192.7,1355.8 1194.9,1370.2 1197.0,1379.3 C1199.1,1388.4 1201.8,1400.9 1203.4,1401.7 C1205.8,1403.0 1210.6,1402.8 1213.0,1401.7 C1214.6,1401.0 1217.3,1386.7 1219.4,1382.5 C1222.1,1377.3 1225.4,1375.7 1227.4,1375.5 C1230.2,1375.2 1235.8,1378.2 1238.6,1377.7 C1240.6,1377.3 1244.0,1369.4 1246.6,1366.5 C1249.3,1363.6 1252.6,1360.0 1254.6,1360.1 C1256.6,1360.2 1260.0,1364.1 1262.6,1369.7 C1264.8,1374.2 1266.9,1383.3 1269.0,1388.9 C1271.2,1394.5 1273.3,1403.3 1275.4,1403.3 C1353.7,1404.3 1451.6,1405.0 1510.3,1404.3 C1512.3,1403.6 1515.5,1390.5 1518.1,1386.2 C1521.1,1381.2 1524.9,1377.1 1527.2,1377.2 C1529.4,1377.3 1533.2,1383.8 1536.2,1388.8 C1538.8,1393.0 1542.0,1403.7 1544.0,1404.3 C1555.0,1405.0 1576.9,1405.0 1587.9,1404.3 C1589.9,1403.4 1593.1,1387.9 1595.7,1381.0 C1599.6,1370.7 1604.4,1354.0 1607.3,1353.9 C1609.3,1353.8 1612.5,1365.1 1615.1,1370.7 C1618.1,1377.2 1621.9,1389.6 1624.1,1390.1 C1626.1,1390.5 1629.3,1385.7 1631.9,1383.6 C1634.1,1381.9 1636.7,1378.2 1638.4,1378.4 C1640.3,1378.7 1643.5,1387.1 1646.1,1391.4 C1648.7,1395.7 1651.9,1403.8 1653.9,1404.3 C1657.4,1405.0 1664.5,1405.0 1668.1,1404.3 C1670.0,1403.4 1673.3,1388.0 1675.9,1381.0 C1679.3,1371.8 1683.6,1356.6 1686.2,1356.5 C1688.8,1356.4 1693.1,1370.5 1696.6,1378.4 C1700.0,1386.4 1704.3,1403.3 1706.9,1404.3 C1717.6,1405.0 1738.9,1405.0 1749.6,1404.3 C1752.5,1403.5 1757.3,1392.4 1761.2,1383.6 C1764.7,1375.8 1768.1,1368.2 1771.6,1355.2 C1773.7,1347.0 1775.9,1336.3 1778.0,1324.1 C1779.7,1314.4 1781.5,1297.8 1783.2,1290.5 C1785.2,1282.1 1787.7,1278.9 1789.1,1278.9 C1790.6,1278.9 1792.9,1282.4 1794.8,1290.5 C1796.6,1297.9 1798.3,1314.2 1800.0,1324.1 C1802.6,1339.0 1805.2,1357.8 1807.8,1362.9 C1810.3,1368.1 1813.6,1368.0 1815.5,1368.1 C1817.8,1368.2 1822.3,1364.1 1824.6,1364.2 C1826.5,1364.3 1829.7,1366.0 1832.3,1370.7 C1834.5,1374.6 1836.6,1384.1 1838.8,1388.8 C1841.8,1395.4 1845.6,1402.9 1847.8,1403.0 C1850.1,1403.1 1853.9,1395.4 1856.9,1391.4 C1860.3,1386.8 1864.7,1377.2 1867.2,1377.2 C1869.5,1377.1 1873.3,1384.3 1876.3,1388.8 C1879.3,1393.3 1883.1,1403.7 1885.3,1404.3 C1890.9,1405.0 1902.2,1405.0 1907.8,1404.3 C1909.4,1403.4 1912.1,1392.5 1914.2,1381.0 C1915.9,1371.9 1917.7,1353.3 1919.4,1344.8 C1921.7,1333.4 1924.6,1325.6 1926.4,1325.4 C1927.9,1325.2 1930.3,1332.0 1932.3,1337.1 C1934.5,1342.6 1936.6,1355.2 1938.8,1357.8 C1940.9,1360.3 1943.6,1360.4 1945.3,1360.3 C1946.9,1360.2 1950.1,1355.1 1951.7,1355.2 C1953.7,1355.2 1956.9,1360.2 1959.5,1362.9 C1962.5,1366.2 1965.5,1369.0 1968.5,1373.3 C1971.6,1377.6 1974.6,1384.7 1977.6,1388.8 C1980.2,1392.3 1983.4,1396.7 1985.3,1396.6 C1987.0,1396.4 1989.7,1393.1 1991.8,1386.2 C1994.0,1379.3 1996.1,1365.2 1998.3,1355.2 C2000.0,1347.2 2001.7,1336.6 2003.4,1331.9 C2005.6,1326.0 2008.3,1325.5 2009.9,1325.4 C2012.2,1325.3 2015.9,1327.0 2019.0,1330.6 C2021.6,1333.7 2024.1,1339.0 2026.7,1344.8 C2029.3,1350.6 2031.9,1360.8 2034.5,1365.5 C2036.2,1368.7 2038.4,1370.8 2039.7,1370.7 C2041.6,1370.6 2044.8,1363.1 2047.4,1360.3 C2049.6,1358.0 2052.3,1355.2 2053.9,1355.2 C2056.1,1355.2 2059.9,1359.5 2062.9,1362.9 C2065.9,1366.4 2069.0,1372.2 2072.0,1375.9 C2075.0,1379.5 2078.8,1385.0 2081.0,1384.9 C2083.3,1384.8 2087.1,1379.4 2090.1,1373.3 C2092.2,1368.9 2094.4,1359.3 2096.6,1355.2 C2098.7,1351.1 2101.4,1348.7 2103.0,1348.7 C2105.0,1348.8 2108.2,1355.2 2110.8,1357.8 C2113.4,1360.3 2116.6,1364.9 2118.5,1364.2 C2120.2,1363.7 2122.8,1351.9 2125.0,1344.8 C2127.2,1337.7 2129.3,1327.0 2131.5,1321.6 C2133.2,1317.2 2135.3,1313.7 2136.6,1313.8 C2137.9,1313.9 2140.1,1317.2 2141.8,1324.1 C2143.5,1331.0 2145.3,1345.7 2147.0,1355.2 C2148.7,1364.7 2150.4,1375.2 2152.2,1381.0 C2153.9,1386.9 2156.0,1390.1 2157.3,1390.1 C2158.6,1390.1 2160.8,1387.4 2162.5,1381.0 C2164.7,1373.1 2166.8,1356.3 2169.0,1344.8 C2170.7,1335.7 2172.4,1324.6 2174.1,1319.0 C2175.9,1313.4 2178.0,1311.1 2179.3,1311.2 C2180.6,1311.3 2182.8,1315.9 2184.5,1321.6 C2186.2,1327.2 2187.9,1335.8 2189.7,1344.8 C2191.4,1353.9 2193.1,1368.5 2194.8,1375.9 C2196.6,1383.2 2198.7,1388.5 2200.0,1388.8 C2201.6,1389.1 2204.3,1383.0 2206.5,1381.0 C2208.6,1379.1 2211.3,1377.1 2212.9,1377.2 C2214.9,1377.2 2218.8,1383.5 2220.7,1383.6 C2222.0,1383.7 2224.1,1383.6 2225.9,1381.0 C2228.0,1377.8 2230.2,1365.7 2232.3,1360.3 C2234.5,1355.0 2237.2,1348.7 2238.8,1348.7 C2240.4,1348.7 2243.1,1355.8 2245.3,1360.3 C2247.4,1364.9 2249.6,1374.2 2251.7,1375.9 C2253.4,1377.2 2255.6,1377.3 2256.9,1377.2 C2258.8,1377.0 2262.1,1373.1 2264.7,1370.7 C2267.2,1368.3 2269.8,1367.3 2272.4,1362.9 C2274.6,1359.3 2276.7,1352.2 2278.9,1347.4 C2281.5,1341.7 2284.7,1332.1 2286.6,1331.9 C2288.3,1331.7 2290.9,1335.7 2293.1,1339.7 C2295.7,1344.4 2298.3,1354.9 2300.9,1359.1 C2303.9,1363.9 2306.9,1359.1 2309.9,1365.5 C2309.9,1365.6 2310.0,1391.4 2310.0,1404.3" fill="none" stroke="#2a0a14" stroke-width="4.0" stroke-linejoin="round"/>
<line x1="386.0" y1="1206.0" x2="386.0" y2="1407.0" stroke="#1a1a1a" stroke-width="4.5"/>
<line x1="359.0" y1="1405.0" x2="2310.0" y2="1405.0" stroke="#1a1a1a" stroke-width="4.5"/>
<line x1="359.0" y1="1405.0" x2="386.0" y2="1405.0" stroke="#1a1a1a" stroke-width="4.5"/>
<line x1="371.0" y1="1364.0" x2="386.0" y2="1364.0" stroke="#1a1a1a" stroke-width="4.5"/>
<line x1="359.0" y1="1323.0" x2="386.0" y2="1323.0" stroke="#1a1a1a" stroke-width="4.5"/>
<line x1="371.0" y1="1281.5" x2="386.0" y2="1281.5" stroke="#1a1a1a" stroke-width="4.5"/>
<line x1="359.0" y1="1240.0" x2="386.0" y2="1240.0" stroke="#1a1a1a" stroke-width="4.5"/>
<text x="342.0" y="1424.0" font-size="74" text-anchor="end">0</text>
<text x="342.0" y="1342.0" font-size="74" text-anchor="end">3</text>
<text x="342.0" y="1259.0" font-size="74" text-anchor="end">6</text>
<text x="2310.0" y="1225.5" font-size="90.0" text-anchor="end">Total</text>
<path d="M401.4,1934.0 L401.4,1833.9 C405.7,1833.9 411.0,1834.1 414.2,1833.9 C416.2,1833.7 419.5,1832.3 422.2,1830.7 C424.9,1829.1 428.2,1824.1 430.2,1824.3 C432.2,1824.4 435.6,1829.1 438.2,1833.9 C440.9,1838.7 443.6,1846.7 446.2,1853.1 C448.9,1859.5 451.6,1867.4 454.2,1872.3 C456.4,1876.2 459.0,1880.7 460.6,1880.3 C462.2,1879.9 464.9,1871.5 467.0,1862.7 C469.2,1853.9 471.3,1835.9 473.4,1827.5 C476.3,1816.1 479.9,1806.6 482.1,1806.7 C484.3,1806.7 488.1,1823.4 491.1,1830.7 C493.7,1837.2 497.1,1848.1 499.1,1848.3 C500.7,1848.4 503.3,1841.3 505.5,1837.1 C507.6,1832.8 510.3,1822.6 511.9,1822.7 C513.9,1822.8 517.2,1835.7 519.9,1843.5 C522.5,1851.2 525.2,1862.2 527.9,1869.1 C530.0,1874.6 532.7,1881.9 534.3,1881.9 C535.9,1881.9 538.6,1877.6 540.7,1869.1 C542.8,1860.6 545.0,1841.5 547.1,1830.7 C550.3,1814.4 554.3,1791.3 556.7,1790.6 C558.7,1790.1 562.0,1802.6 564.7,1808.3 C566.8,1812.7 569.5,1821.0 571.1,1821.1 C573.1,1821.1 576.4,1811.1 579.1,1806.7 C583.4,1799.6 588.7,1787.5 591.9,1787.4 C594.7,1787.3 599.4,1797.1 603.1,1801.8 C607.4,1807.3 611.7,1810.2 615.9,1817.9 C619.1,1823.6 622.3,1833.0 625.5,1840.3 C628.2,1846.3 631.5,1857.6 633.5,1857.9 C635.5,1858.1 638.9,1854.1 641.6,1846.7 C644.8,1837.8 648.8,1807.2 651.2,1806.7 C653.2,1806.2 656.5,1820.5 659.2,1827.5 C661.8,1834.4 665.2,1848.2 667.2,1848.3 C669.2,1848.4 672.5,1837.8 675.2,1830.7 C678.4,1822.1 682.4,1800.2 684.8,1800.2 C686.8,1800.3 690.1,1815.5 692.8,1827.5 C695.5,1839.5 698.8,1871.2 700.8,1872.3 C702.4,1873.2 705.1,1868.9 707.2,1859.5 C709.9,1847.7 712.5,1820.4 715.2,1805.0 C718.9,1783.5 723.6,1753.9 726.4,1752.2 C729.6,1750.3 734.9,1754.7 739.2,1761.8 C741.9,1766.3 744.5,1771.2 747.2,1782.6 C749.4,1791.8 751.5,1810.7 753.6,1821.1 C755.8,1831.5 758.4,1844.4 760.0,1845.1 C762.0,1845.9 765.4,1843.7 768.0,1837.1 C770.2,1831.7 772.8,1811.7 774.4,1811.5 C776.4,1811.1 779.8,1819.5 782.4,1833.9 C784.6,1845.4 786.7,1872.5 788.8,1885.1 C792.0,1904.0 796.0,1921.5 798.4,1921.9 C800.4,1922.3 803.8,1916.9 806.5,1901.1 C809.1,1885.4 811.8,1849.7 814.5,1827.5 C816.6,1809.6 818.7,1791.1 820.9,1779.4 C823.5,1764.9 826.9,1752.3 828.9,1752.2 C830.9,1752.1 834.2,1764.2 836.9,1776.2 C839.0,1785.8 841.1,1804.0 843.3,1814.7 C844.9,1822.7 846.9,1833.3 848.1,1833.9 C850.5,1835.0 855.3,1825.4 857.7,1825.9 C859.3,1826.2 862.0,1832.5 864.1,1840.3 C866.2,1848.0 868.4,1862.4 870.5,1872.3 C872.6,1882.2 875.3,1899.1 876.9,1899.5 C878.9,1900.0 882.2,1888.0 884.9,1878.7 C887.6,1869.4 890.2,1852.1 892.9,1843.5 C895.7,1834.3 899.3,1825.7 901.4,1825.9 C903.4,1826.0 906.7,1836.3 909.4,1846.7 C912.1,1857.1 914.7,1878.2 917.4,1888.3 C920.1,1898.4 922.8,1901.4 925.4,1907.5 C928.1,1913.6 930.8,1921.2 933.4,1925.1 C935.6,1928.3 938.2,1930.0 939.8,1929.9 C941.4,1929.9 944.1,1929.9 946.2,1923.5 C948.9,1915.5 951.6,1884.4 954.2,1862.7 C955.8,1849.7 957.4,1830.2 959.0,1821.1 C961.2,1808.9 963.8,1803.6 965.4,1803.4 C967.0,1803.3 969.7,1813.4 971.8,1816.3 C975.0,1820.5 978.3,1816.8 981.5,1822.7 C984.1,1827.6 986.8,1837.9 989.5,1846.7 C992.1,1855.5 994.8,1872.9 997.5,1875.5 C1000.1,1878.1 1003.5,1878.0 1005.5,1878.1 C1008.3,1878.1 1012.9,1878.1 1016.7,1875.5 C1018.8,1874.0 1020.9,1862.5 1023.1,1853.1 C1024.7,1846.0 1026.3,1833.4 1027.9,1827.5 C1029.7,1820.8 1032.0,1815.8 1033.3,1816.3 C1035.2,1816.8 1038.2,1835.5 1040.7,1846.7 C1042.8,1856.4 1045.0,1871.9 1047.1,1878.7 C1049.8,1887.2 1053.1,1889.6 1055.1,1889.9 C1058.3,1890.5 1063.6,1889.9 1067.9,1886.7 C1070.6,1884.7 1073.2,1872.0 1075.9,1862.7 C1077.5,1857.1 1079.1,1847.6 1080.7,1843.5 C1083.1,1837.4 1086.0,1835.4 1087.8,1835.5 C1089.6,1835.5 1092.7,1843.0 1095.1,1845.1 C1097.8,1847.3 1101.1,1848.9 1103.1,1848.3 C1105.1,1847.6 1108.5,1833.4 1111.1,1827.5 C1114.3,1820.4 1118.3,1810.0 1120.7,1809.9 C1123.1,1809.7 1127.1,1820.3 1130.3,1824.3 C1133.0,1827.6 1136.3,1832.5 1138.3,1832.3 C1140.0,1832.1 1142.6,1824.8 1144.8,1821.1 C1146.7,1817.7 1149.1,1810.7 1150.5,1810.8 C1152.3,1811.0 1155.2,1817.6 1157.6,1827.5 C1159.7,1836.4 1161.8,1852.0 1164.0,1865.9 C1166.1,1879.8 1168.2,1900.0 1170.4,1910.7 C1172.5,1921.4 1175.2,1929.3 1176.8,1929.9 C1178.8,1930.7 1182.1,1929.9 1184.8,1926.7 C1187.4,1923.5 1190.1,1897.4 1192.8,1885.1 C1195.5,1872.8 1198.1,1859.9 1200.8,1853.1 C1202.9,1847.6 1205.6,1845.9 1207.2,1846.0 C1209.2,1846.2 1212.5,1851.9 1215.2,1859.5 C1217.3,1865.5 1219.5,1876.6 1221.6,1885.1 C1223.7,1893.6 1225.9,1905.4 1228.0,1910.7 C1230.1,1916.1 1232.8,1917.3 1234.4,1917.1 C1235.6,1917.0 1237.6,1911.3 1239.2,1909.1 C1241.7,1905.7 1244.7,1901.0 1246.6,1901.1 C1248.7,1901.2 1252.3,1910.3 1255.2,1913.9 C1257.9,1917.2 1261.2,1922.1 1263.2,1921.9 C1265.2,1921.7 1268.6,1912.8 1271.2,1909.1 C1273.9,1905.4 1277.2,1899.4 1279.2,1899.5 C1281.2,1899.6 1284.6,1906.2 1287.2,1912.3 C1289.4,1917.2 1291.5,1931.5 1293.6,1931.5 C1391.4,1932.8 1513.6,1934.0 1586.9,1932.8 C1588.8,1932.2 1592.0,1920.9 1594.6,1916.4 C1597.4,1911.4 1601.1,1904.7 1603.2,1904.7 C1605.5,1904.7 1609.4,1911.2 1612.4,1916.4 C1615.0,1920.8 1618.2,1932.2 1620.1,1932.8 C1629.0,1934.0 1646.9,1934.0 1655.9,1932.8 C1659.1,1932.0 1664.4,1917.1 1668.7,1911.3 C1673.3,1905.1 1679.0,1896.9 1682.5,1897.0 C1685.4,1897.1 1690.3,1903.5 1694.2,1911.3 C1696.8,1916.5 1700.0,1932.0 1701.9,1932.8 C1704.4,1933.9 1709.5,1933.4 1712.1,1932.8 C1714.0,1932.4 1717.2,1923.9 1719.8,1921.6 C1724.9,1917.0 1731.3,1916.4 1735.1,1916.4 C1738.3,1916.5 1743.6,1918.4 1747.9,1921.6 C1751.3,1924.1 1755.5,1932.4 1758.1,1932.8 C1760.7,1933.2 1765.8,1933.4 1768.3,1932.8 C1770.2,1932.4 1773.4,1924.0 1776.0,1921.6 C1778.5,1919.1 1781.7,1917.9 1783.7,1918.0 C1785.8,1918.1 1789.4,1921.2 1792.3,1924.1 C1794.6,1926.3 1797.3,1932.5 1799.0,1932.8 C1808.6,1934.0 1827.7,1933.6 1837.3,1932.8 C1840.5,1932.5 1846.9,1925.6 1850.1,1925.6 C1852.6,1925.7 1856.9,1930.5 1860.3,1931.8 C1862.9,1932.7 1866.1,1933.3 1868.0,1932.8 C1869.9,1932.3 1873.1,1921.1 1875.6,1919.0 C1879.9,1915.4 1885.2,1915.5 1888.4,1915.4 C1892.3,1915.3 1899.9,1917.6 1903.8,1917.5 C1906.3,1917.4 1911.4,1913.9 1914.0,1913.9 C1917.2,1913.9 1922.5,1915.8 1926.8,1919.0 C1931.0,1922.1 1936.3,1932.3 1939.5,1932.8 C1945.3,1933.7 1956.8,1934.0 1962.5,1932.8 C1964.4,1932.4 1967.6,1922.9 1970.2,1921.6 C1977.0,1918.0 1985.5,1917.9 1990.6,1918.0 C1994.5,1918.0 2000.9,1918.1 2006.0,1921.6 C2009.4,1923.8 2013.6,1932.4 2016.2,1932.8 C2022.6,1933.8 2035.4,1934.0 2041.7,1932.8 C2043.7,1932.4 2046.9,1923.9 2049.4,1921.6 C2052.0,1919.3 2055.2,1918.9 2057.1,1919.0 C2059.6,1919.1 2063.9,1921.3 2067.3,1924.1 C2069.9,1926.2 2073.1,1932.5 2075.0,1932.8 C2076.9,1933.1 2080.7,1933.0 2082.6,1932.8 C2085.2,1932.6 2090.3,1926.7 2092.9,1926.7 C2095.4,1926.6 2099.7,1929.8 2103.1,1930.8 C2108.2,1932.1 2114.6,1932.7 2118.4,1932.8 C2137.6,1933.2 2175.9,1934.0 2195.1,1932.8 C2197.0,1932.4 2200.2,1924.1 2202.7,1921.6 C2204.4,1919.9 2206.6,1919.0 2207.9,1919.0 C2209.8,1919.0 2213.0,1921.8 2215.5,1924.1 C2218.1,1926.4 2221.3,1932.5 2223.2,1932.8 C2229.6,1933.9 2242.3,1934.0 2248.7,1932.8 C2250.7,1932.2 2253.8,1920.0 2256.4,1916.4 C2259.0,1912.9 2262.2,1911.4 2264.1,1911.3 C2267.3,1911.2 2273.7,1917.4 2276.8,1917.5 C2281.3,1917.5 2290.3,1909.6 2294.7,1909.8 C2297.3,1909.9 2301.5,1913.2 2305.0,1916.4 C2309.2,1920.6 2313.5,1927.3 2317.7,1932.8 L2317.7,1934.0 Z" fill="#ff0000" stroke="none"/>
<path d="M401.4,1833.9 C405.7,1833.9 411.0,1834.1 414.2,1833.9 C416.2,1833.7 419.5,1832.3 422.2,1830.7 C424.9,1829.1 428.2,1824.1 430.2,1824.3 C432.2,1824.4 435.6,1829.1 438.2,1833.9 C440.9,1838.7 443.6,1846.7 446.2,1853.1 C448.9,1859.5 451.6,1867.4 454.2,1872.3 C456.4,1876.2 459.0,1880.7 460.6,1880.3 C462.2,1879.9 464.9,1871.5 467.0,1862.7 C469.2,1853.9 471.3,1835.9 473.4,1827.5 C476.3,1816.1 479.9,1806.6 482.1,1806.7 C484.3,1806.7 488.1,1823.4 491.1,1830.7 C493.7,1837.2 497.1,1848.1 499.1,1848.3 C500.7,1848.4 503.3,1841.3 505.5,1837.1 C507.6,1832.8 510.3,1822.6 511.9,1822.7 C513.9,1822.8 517.2,1835.7 519.9,1843.5 C522.5,1851.2 525.2,1862.2 527.9,1869.1 C530.0,1874.6 532.7,1881.9 534.3,1881.9 C535.9,1881.9 538.6,1877.6 540.7,1869.1 C542.8,1860.6 545.0,1841.5 547.1,1830.7 C550.3,1814.4 554.3,1791.3 556.7,1790.6 C558.7,1790.1 562.0,1802.6 564.7,1808.3 C566.8,1812.7 569.5,1821.0 571.1,1821.1 C573.1,1821.1 576.4,1811.1 579.1,1806.7 C583.4,1799.6 588.7,1787.5 591.9,1787.4 C594.7,1787.3 599.4,1797.1 603.1,1801.8 C607.4,1807.3 611.7,1810.2 615.9,1817.9 C619.1,1823.6 622.3,1833.0 625.5,1840.3 C628.2,1846.3 631.5,1857.6 633.5,1857.9 C635.5,1858.1 638.9,1854.1 641.6,1846.7 C644.8,1837.8 648.8,1807.2 651.2,1806.7 C653.2,1806.2 656.5,1820.5 659.2,1827.5 C661.8,1834.4 665.2,1848.2 667.2,1848.3 C669.2,1848.4 672.5,1837.8 675.2,1830.7 C678.4,1822.1 682.4,1800.2 684.8,1800.2 C686.8,1800.3 690.1,1815.5 692.8,1827.5 C695.5,1839.5 698.8,1871.2 700.8,1872.3 C702.4,1873.2 705.1,1868.9 707.2,1859.5 C709.9,1847.7 712.5,1820.4 715.2,1805.0 C718.9,1783.5 723.6,1753.9 726.4,1752.2 C729.6,1750.3 734.9,1754.7 739.2,1761.8 C741.9,1766.3 744.5,1771.2 747.2,1782.6 C749.4,1791.8 751.5,1810.7 753.6,1821.1 C755.8,1831.5 758.4,1844.4 760.0,1845.1 C762.0,1845.9 765.4,1843.7 768.0,1837.1 C770.2,1831.7 772.8,1811.7 774.4,1811.5 C776.4,1811.1 779.8,1819.5 782.4,1833.9 C784.6,1845.4 786.7,1872.5 788.8,1885.1 C792.0,1904.0 796.0,1921.5 798.4,1921.9 C800.4,1922.3 803.8,1916.9 806.5,1901.1 C809.1,1885.4 811.8,1849.7 814.5,1827.5 C816.6,1809.6 818.7,1791.1 820.9,1779.4 C823.5,1764.9 826.9,1752.3 828.9,1752.2 C830.9,1752.1 834.2,1764.2 836.9,1776.2 C839.0,1785.8 841.1,1804.0 843.3,1814.7 C844.9,1822.7 846.9,1833.3 848.1,1833.9 C850.5,1835.0 855.3,1825.4 857.7,1825.9 C859.3,1826.2 862.0,1832.5 864.1,1840.3 C866.2,1848.0 868.4,1862.4 870.5,1872.3 C872.6,1882.2 875.3,1899.1 876.9,1899.5 C878.9,1900.0 882.2,1888.0 884.9,1878.7 C887.6,1869.4 890.2,1852.1 892.9,1843.5 C895.7,1834.3 899.3,1825.7 901.4,1825.9 C903.4,1826.0 906.7,1836.3 909.4,1846.7 C912.1,1857.1 914.7,1878.2 917.4,1888.3 C920.1,1898.4 922.8,1901.4 925.4,1907.5 C928.1,1913.6 930.8,1921.2 933.4,1925.1 C935.6,1928.3 938.2,1930.0 939.8,1929.9 C941.4,1929.9 944.1,1929.9 946.2,1923.5 C948.9,1915.5 951.6,1884.4 954.2,1862.7 C955.8,1849.7 957.4,1830.2 959.0,1821.1 C961.2,1808.9 963.8,1803.6 965.4,1803.4 C967.0,1803.3 969.7,1813.4 971.8,1816.3 C975.0,1820.5 978.3,1816.8 981.5,1822.7 C984.1,1827.6 986.8,1837.9 989.5,1846.7 C992.1,1855.5 994.8,1872.9 997.5,1875.5 C1000.1,1878.1 1003.5,1878.0 1005.5,1878.1 C1008.3,1878.1 1012.9,1878.1 1016.7,1875.5 C1018.8,1874.0 1020.9,1862.5 1023.1,1853.1 C1024.7,1846.0 1026.3,1833.4 1027.9,1827.5 C1029.7,1820.8 1032.0,1815.8 1033.3,1816.3 C1035.2,1816.8 1038.2,1835.5 1040.7,1846.7 C1042.8,1856.4 1045.0,1871.9 1047.1,1878.7 C1049.8,1887.2 1053.1,1889.6 1055.1,1889.9 C1058.3,1890.5 1063.6,1889.9 1067.9,1886.7 C1070.6,1884.7 1073.2,1872.0 1075.9,1862.7 C1077.5,1857.1 1079.1,1847.6 1080.7,1843.5 C1083.1,1837.4 1086.0,1835.4 1087.8,1835.5 C1089.6,1835.5 1092.7,1843.0 1095.1,1845.1 C1097.8,1847.3 1101.1,1848.9 1103.1,1848.3 C1105.1,1847.6 1108.5,1833.4 1111.1,1827.5 C1114.3,1820.4 1118.3,1810.0 1120.7,1809.9 C1123.1,1809.7 1127.1,1820.3 1130.3,1824.3 C1133.0,1827.6 1136.3,1832.5 1138.3,1832.3 C1140.0,1832.1 1142.6,1824.8 1144.8,1821.1 C1146.7,1817.7 1149.1,1810.7 1150.5,1810.8 C1152.3,1811.0 1155.2,1817.6 1157.6,1827.5 C1159.7,1836.4 1161.8,1852.0 1164.0,1865.9 C1166.1,1879.8 1168.2,1900.0 1170.4,1910.7 C1172.5,1921.4 1175.2,1929.3 1176.8,1929.9 C1178.8,1930.7 1182.1,1929.9 1184.8,1926.7 C1187.4,1923.5 1190.1,1897.4 1192.8,1885.1 C1195.5,1872.8 1198.1,1859.9 1200.8,1853.1 C1202.9,1847.6 1205.6,1845.9 1207.2,1846.0 C1209.2,1846.2 1212.5,1851.9 1215.2,1859.5 C1217.3,1865.5 1219.5,1876.6 1221.6,1885.1 C1223.7,1893.6 1225.9,1905.4 1228.0,1910.7 C1230.1,1916.1 1232.8,1917.3 1234.4,1917.1 C1235.6,1917.0 1237.6,1911.3 1239.2,1909.1 C1241.7,1905.7 1244.7,1901.0 1246.6,1901.1 C1248.7,1901.2 1252.3,1910.3 1255.2,1913.9 C1257.9,1917.2 1261.2,1922.1 1263.2,1921.9 C1265.2,1921.7 1268.6,1912.8 1271.2,1909.1 C1273.9,1905.4 1277.2,1899.4 1279.2,1899.5 C1281.2,1899.6 1284.6,1906.2 1287.2,1912.3 C1289.4,1917.2 1291.5,1931.5 1293.6,1931.5 C1391.4,1932.8 1513.6,1934.0 1586.9,1932.8 C1588.8,1932.2 1592.0,1920.9 1594.6,1916.4 C1597.4,1911.4 1601.1,1904.7 1603.2,1904.7 C1605.5,1904.7 1609.4,1911.2 1612.4,1916.4 C1615.0,1920.8 1618.2,1932.2 1620.1,1932.8 C1629.0,1934.0 1646.9,1934.0 1655.9,1932.8 C1659.1,1932.0 1664.4,1917.1 1668.7,1911.3 C1673.3,1905.1 1679.0,1896.9 1682.5,1897.0 C1685.4,1897.1 1690.3,1903.5 1694.2,1911.3 C1696.8,1916.5 1700.0,1932.0 1701.9,1932.8 C1704.4,1933.9 1709.5,1933.4 1712.1,1932.8 C1714.0,1932.4 1717.2,1923.9 1719.8,1921.6 C1724.9,1917.0 1731.3,1916.4 1735.1,1916.4 C1738.3,1916.5 1743.6,1918.4 1747.9,1921.6 C1751.3,1924.1 1755.5,1932.4 1758.1,1932.8 C1760.7,1933.2 1765.8,1933.4 1768.3,1932.8 C1770.2,1932.4 1773.4,1924.0 1776.0,1921.6 C1778.5,1919.1 1781.7,1917.9 1783.7,1918.0 C1785.8,1918.1 1789.4,1921.2 1792.3,1924.1 C1794.6,1926.3 1797.3,1932.5 1799.0,1932.8 C1808.6,1934.0 1827.7,1933.6 1837.3,1932.8 C1840.5,1932.5 1846.9,1925.6 1850.1,1925.6 C1852.6,1925.7 1856.9,1930.5 1860.3,1931.8 C1862.9,1932.7 1866.1,1933.3 1868.0,1932.8 C1869.9,1932.3 1873.1,1921.1 1875.6,1919.0 C1879.9,1915.4 1885.2,1915.5 1888.4,1915.4 C1892.3,1915.3 1899.9,1917.6 1903.8,1917.5 C1906.3,1917.4 1911.4,1913.9 1914.0,1913.9 C1917.2,1913.9 1922.5,1915.8 1926.8,1919.0 C1931.0,1922.1 1936.3,1932.3 1939.5,1932.8 C1945.3,1933.7 1956.8,1934.0 1962.5,1932.8 C1964.4,1932.4 1967.6,1922.9 1970.2,1921.6 C1977.0,1918.0 1985.5,1917.9 1990.6,1918.0 C1994.5,1918.0 2000.9,1918.1 2006.0,1921.6 C2009.4,1923.8 2013.6,1932.4 2016.2,1932.8 C2022.6,1933.8 2035.4,1934.0 2041.7,1932.8 C2043.7,1932.4 2046.9,1923.9 2049.4,1921.6 C2052.0,1919.3 2055.2,1918.9 2057.1,1919.0 C2059.6,1919.1 2063.9,1921.3 2067.3,1924.1 C2069.9,1926.2 2073.1,1932.5 2075.0,1932.8 C2076.9,1933.1 2080.7,1933.0 2082.6,1932.8 C2085.2,1932.6 2090.3,1926.7 2092.9,1926.7 C2095.4,1926.6 2099.7,1929.8 2103.1,1930.8 C2108.2,1932.1 2114.6,1932.7 2118.4,1932.8 C2137.6,1933.2 2175.9,1934.0 2195.1,1932.8 C2197.0,1932.4 2200.2,1924.1 2202.7,1921.6 C2204.4,1919.9 2206.6,1919.0 2207.9,1919.0 C2209.8,1919.0 2213.0,1921.8 2215.5,1924.1 C2218.1,1926.4 2221.3,1932.5 2223.2,1932.8 C2229.6,1933.9 2242.3,1934.0 2248.7,1932.8 C2250.7,1932.2 2253.8,1920.0 2256.4,1916.4 C2259.0,1912.9 2262.2,1911.4 2264.1,1911.3 C2267.3,1911.2 2273.7,1917.4 2276.8,1917.5 C2281.3,1917.5 2290.3,1909.6 2294.7,1909.8 C2297.3,1909.9 2301.5,1913.2 2305.0,1916.4 C2309.2,1920.6 2313.5,1927.3 2317.7,1932.8" fill="none" stroke="#3a0000" stroke-width="4.0" stroke-linejoin="round"/>
<line x1="400.0" y1="1735.0" x2="400.0" y2="1936.0" stroke="#1a1a1a" stroke-width="4.5"/>
<line x1="373.0" y1="1934.0" x2="2325.0" y2="1934.0" stroke="#1a1a1a" stroke-width="4.5"/>
<line x1="373.0" y1="1934.0" x2="400.0" y2="1934.0" stroke="#1a1a1a" stroke-width="4.5"/>
<line x1="385.0" y1="1876.5" x2="400.0" y2="1876.5" stroke="#1a1a1a" stroke-width="4.5"/>
<line x1="373.0" y1="1819.0" x2="400.0" y2="1819.0" stroke="#1a1a1a" stroke-width="4.5"/>
<line x1="385.0" y1="1762.0" x2="400.0" y2="1762.0" stroke="#1a1a1a" stroke-width="4.5"/>
<text x="357.0" y="1953.0" font-size="74" text-anchor="end">0.0</text>
<text x="357.0" y="1838.0" font-size="74" text-anchor="end">1.5</text>
<text x="2331.5" y="1802.0" font-size="88.4" text-anchor="end">Oxygen</text>
<path d="M401.4,2221.5 L401.4,2160.5 C403.5,2158.4 405.7,2155.7 407.8,2154.1 C409.9,2152.5 412.6,2150.5 414.2,2150.9 C415.8,2151.2 418.5,2156.2 420.6,2163.7 C422.8,2171.2 424.9,2188.2 427.0,2195.7 C429.7,2205.1 433.0,2211.8 435.0,2211.7 C437.0,2211.6 440.4,2197.6 443.0,2192.5 C446.8,2185.4 451.4,2176.4 454.2,2176.5 C456.2,2176.6 459.6,2182.9 462.2,2189.3 C464.9,2195.7 467.6,2209.6 470.2,2214.9 C472.9,2220.3 476.2,2221.1 478.3,2221.3 C486.3,2221.5 502.3,2221.5 510.3,2221.3 C513.5,2221.1 518.8,2219.1 523.1,2216.5 C526.3,2214.6 529.5,2210.7 532.7,2208.5 C535.6,2206.5 539.2,2203.7 541.3,2203.7 C544.0,2203.7 548.4,2208.6 551.9,2210.1 C555.1,2211.5 559.1,2212.4 561.5,2212.4 C564.7,2212.3 570.0,2210.1 574.3,2208.5 C578.0,2207.2 581.8,2205.0 585.5,2203.7 C588.4,2202.7 592.0,2201.4 594.2,2201.5 C596.4,2201.6 600.1,2204.5 603.1,2206.9 C606.3,2209.5 609.5,2214.5 612.7,2216.5 C617.0,2219.2 622.3,2219.6 625.5,2219.7 C631.1,2219.9 642.4,2218.0 648.0,2218.1 C651.2,2218.2 656.5,2220.5 660.8,2220.7 C678.9,2221.3 701.6,2221.5 715.2,2221.3 C718.4,2221.2 723.7,2218.9 728.0,2217.5 C731.7,2216.2 735.5,2217.5 739.2,2213.3 C741.9,2210.4 744.5,2198.0 747.2,2189.3 C749.4,2182.4 751.5,2172.6 753.6,2166.9 C756.0,2160.7 758.9,2154.0 760.7,2154.1 C762.5,2154.2 765.6,2164.0 768.0,2170.1 C770.7,2176.7 773.4,2185.7 776.0,2192.5 C779.2,2200.7 782.4,2209.6 785.6,2214.9 C787.8,2218.5 790.4,2221.1 792.0,2221.3 C796.8,2221.5 806.5,2221.5 811.3,2221.3 C812.9,2220.8 815.5,2218.8 817.7,2208.5 C820.3,2195.7 823.0,2166.9 825.7,2147.7 C828.3,2128.5 831.0,2105.3 833.7,2093.3 C835.8,2083.6 838.5,2078.8 840.1,2078.8 C841.7,2078.8 844.3,2081.8 846.5,2093.3 C848.6,2104.7 850.7,2128.5 852.9,2147.7 C855.0,2166.9 857.2,2196.2 859.3,2208.5 C861.4,2220.8 864.1,2220.8 865.7,2221.3 C878.6,2221.5 904.5,2221.5 917.4,2221.3 C919.4,2220.6 922.8,2218.7 925.4,2202.1 C927.6,2188.9 929.7,2159.4 931.8,2138.1 C933.4,2122.1 935.0,2101.1 936.6,2090.0 C938.8,2075.4 941.4,2065.9 943.0,2066.0 C944.6,2066.2 947.3,2084.2 949.4,2093.3 C952.1,2104.5 955.4,2127.3 957.4,2126.9 C959.0,2126.5 961.7,2104.7 963.8,2090.0 C966.0,2075.4 968.6,2039.7 970.2,2038.8 C971.8,2038.0 974.5,2052.2 976.7,2067.6 C978.8,2083.1 980.9,2111.4 983.1,2131.7 C985.2,2152.0 987.3,2176.9 989.5,2189.3 C992.1,2204.8 994.8,2208.7 997.5,2210.1 C1001.7,2212.4 1006.0,2211.1 1010.3,2212.4 C1013.5,2213.3 1017.5,2216.4 1019.9,2216.5 C1022.7,2216.6 1028.3,2214.8 1031.1,2214.9 C1033.9,2215.0 1038.6,2219.2 1042.3,2219.7 C1048.7,2220.7 1056.7,2220.7 1061.5,2220.7 C1066.3,2220.7 1074.3,2220.7 1080.7,2219.7 C1083.4,2219.3 1086.1,2215.2 1088.7,2213.3 C1091.4,2211.5 1094.7,2208.5 1096.7,2208.5 C1099.1,2208.5 1103.1,2212.9 1106.3,2214.9 C1109.5,2217.0 1112.7,2220.5 1115.9,2220.7 C1127.7,2221.3 1142.4,2221.3 1151.2,2221.3 C1328.8,2221.5 1624.9,2221.3 1861.8,2221.3 C1864.8,2221.3 1867.7,2216.1 1870.7,2214.5 C1873.6,2212.9 1877.3,2211.5 1879.6,2211.5 C1882.1,2211.6 1887.3,2216.1 1889.9,2216.0 C1891.7,2215.9 1894.8,2215.6 1897.3,2210.0 C1900.2,2203.4 1903.2,2185.6 1906.2,2177.5 C1908.6,2170.8 1911.7,2164.2 1913.5,2164.2 C1915.4,2164.2 1918.5,2169.9 1920.9,2177.5 C1923.4,2185.2 1925.9,2202.3 1928.3,2210.0 C1930.3,2216.3 1932.8,2220.9 1934.2,2221.3 C1944.2,2221.5 1964.2,2221.5 1974.1,2221.3 C1976.0,2220.4 1979.1,2207.0 1981.5,2198.2 C1984.0,2189.5 1986.5,2175.8 1988.9,2168.7 C1990.9,2163.0 1993.3,2158.3 1994.8,2158.3 C1996.7,2158.3 1999.8,2164.0 2002.2,2171.6 C2004.7,2179.3 2007.1,2197.5 2009.6,2204.1 C2011.6,2209.5 2014.0,2210.3 2015.5,2210.0 C2017.7,2209.6 2021.4,2194.5 2024.4,2189.4 C2027.3,2184.2 2031.0,2178.9 2033.3,2179.0 C2035.1,2179.1 2038.2,2183.7 2040.6,2189.4 C2043.1,2195.0 2045.6,2207.3 2048.0,2213.0 C2050.0,2217.5 2052.5,2221.0 2053.9,2221.3 C2068.0,2221.5 2096.1,2221.5 2110.1,2221.3 C2111.9,2220.6 2115.0,2211.4 2117.5,2204.1 C2120.0,2196.8 2122.4,2183.7 2124.9,2177.5 C2127.3,2171.4 2130.4,2167.2 2132.3,2167.2 C2134.1,2167.2 2137.2,2171.4 2139.7,2177.5 C2142.1,2183.7 2144.6,2196.8 2147.0,2204.1 C2149.5,2211.4 2152.6,2220.6 2154.4,2221.3 C2192.1,2221.5 2267.5,2221.5 2305.2,2221.3 C2307.4,2221.1 2311.1,2217.3 2314.0,2216.0 C2317.0,2214.6 2320.7,2211.3 2322.9,2213.0 C2323.3,2213.3 2323.9,2218.5 2324.4,2221.3 L2324.4,2221.5 Z" fill="#0000ff" stroke="none"/>
<path d="M401.4,2160.5 C403.5,2158.4 405.7,2155.7 407.8,2154.1 C409.9,2152.5 412.6,2150.5 414.2,2150.9 C415.8,2151.2 418.5,2156.2 420.6,2163.7 C422.8,2171.2 424.9,2188.2 427.0,2195.7 C429.7,2205.1 433.0,2211.8 435.0,2211.7 C437.0,2211.6 440.4,2197.6 443.0,2192.5 C446.8,2185.4 451.4,2176.4 454.2,2176.5 C456.2,2176.6 459.6,2182.9 462.2,2189.3 C464.9,2195.7 467.6,2209.6 470.2,2214.9 C472.9,2220.3 476.2,2221.1 478.3,2221.3 C486.3,2221.5 502.3,2221.5 510.3,2221.3 C513.5,2221.1 518.8,2219.1 523.1,2216.5 C526.3,2214.6 529.5,2210.7 532.7,2208.5 C535.6,2206.5 539.2,2203.7 541.3,2203.7 C544.0,2203.7 548.4,2208.6 551.9,2210.1 C555.1,2211.5 559.1,2212.4 561.5,2212.4 C564.7,2212.3 570.0,2210.1 574.3,2208.5 C578.0,2207.2 581.8,2205.0 585.5,2203.7 C588.4,2202.7 592.0,2201.4 594.2,2201.5 C596.4,2201.6 600.1,2204.5 603.1,2206.9 C606.3,2209.5 609.5,2214.5 612.7,2216.5 C617.0,2219.2 622.3,2219.6 625.5,2219.7 C631.1,2219.9 642.4,2218.0 648.0,2218.1 C651.2,2218.2 656.5,2220.5 660.8,2220.7 C678.9,2221.3 701.6,2221.5 715.2,2221.3 C718.4,2221.2 723.7,2218.9 728.0,2217.5 C731.7,2216.2 735.5,2217.5 739.2,2213.3 C741.9,2210.4 744.5,2198.0 747.2,2189.3 C749.4,2182.4 751.5,2172.6 753.6,2166.9 C756.0,2160.7 758.9,2154.0 760.7,2154.1 C762.5,2154.2 765.6,2164.0 768.0,2170.1 C770.7,2176.7 773.4,2185.7 776.0,2192.5 C779.2,2200.7 782.4,2209.6 785.6,2214.9 C787.8,2218.5 790.4,2221.1 792.0,2221.3 C796.8,2221.5 806.5,2221.5 811.3,2221.3 C812.9,2220.8 815.5,2218.8 817.7,2208.5 C820.3,2195.7 823.0,2166.9 825.7,2147.7 C828.3,2128.5 831.0,2105.3 833.7,2093.3 C835.8,2083.6 838.5,2078.8 840.1,2078.8 C841.7,2078.8 844.3,2081.8 846.5,2093.3 C848.6,2104.7 850.7,2128.5 852.9,2147.7 C855.0,2166.9 857.2,2196.2 859.3,2208.5 C861.4,2220.8 864.1,2220.8 865.7,2221.3 C878.6,2221.5 904.5,2221.5 917.4,2221.3 C919.4,2220.6 922.8,2218.7 925.4,2202.1 C927.6,2188.9 929.7,2159.4 931.8,2138.1 C933.4,2122.1 935.0,2101.1 936.6,2090.0 C938.8,2075.4 941.4,2065.9 943.0,2066.0 C944.6,2066.2 947.3,2084.2 949.4,2093.3 C952.1,2104.5 955.4,2127.3 957.4,2126.9 C959.0,2126.5 961.7,2104.7 963.8,2090.0 C966.0,2075.4 968.6,2039.7 970.2,2038.8 C971.8,2038.0 974.5,2052.2 976.7,2067.6 C978.8,2083.1 980.9,2111.4 983.1,2131.7 C985.2,2152.0 987.3,2176.9 989.5,2189.3 C992.1,2204.8 994.8,2208.7 997.5,2210.1 C1001.7,2212.4 1006.0,2211.1 1010.3,2212.4 C1013.5,2213.3 1017.5,2216.4 1019.9,2216.5 C1022.7,2216.6 1028.3,2214.8 1031.1,2214.9 C1033.9,2215.0 1038.6,2219.2 1042.3,2219.7 C1048.7,2220.7 1056.7,2220.7 1061.5,2220.7 C1066.3,2220.7 1074.3,2220.7 1080.7,2219.7 C1083.4,2219.3 1086.1,2215.2 1088.7,2213.3 C1091.4,2211.5 1094.7,2208.5 1096.7,2208.5 C1099.1,2208.5 1103.1,2212.9 1106.3,2214.9 C1109.5,2217.0 1112.7,2220.5 1115.9,2220.7 C1127.7,2221.3 1142.4,2221.3 1151.2,2221.3 C1328.8,2221.5 1624.9,2221.3 1861.8,2221.3 C1864.8,2221.3 1867.7,2216.1 1870.7,2214.5 C1873.6,2212.9 1877.3,2211.5 1879.6,2211.5 C1882.1,2211.6 1887.3,2216.1 1889.9,2216.0 C1891.7,2215.9 1894.8,2215.6 1897.3,2210.0 C1900.2,2203.4 1903.2,2185.6 1906.2,2177.5 C1908.6,2170.8 1911.7,2164.2 1913.5,2164.2 C1915.4,2164.2 1918.5,2169.9 1920.9,2177.5 C1923.4,2185.2 1925.9,2202.3 1928.3,2210.0 C1930.3,2216.3 1932.8,2220.9 1934.2,2221.3 C1944.2,2221.5 1964.2,2221.5 1974.1,2221.3 C1976.0,2220.4 1979.1,2207.0 1981.5,2198.2 C1984.0,2189.5 1986.5,2175.8 1988.9,2168.7 C1990.9,2163.0 1993.3,2158.3 1994.8,2158.3 C1996.7,2158.3 1999.8,2164.0 2002.2,2171.6 C2004.7,2179.3 2007.1,2197.5 2009.6,2204.1 C2011.6,2209.5 2014.0,2210.3 2015.5,2210.0 C2017.7,2209.6 2021.4,2194.5 2024.4,2189.4 C2027.3,2184.2 2031.0,2178.9 2033.3,2179.0 C2035.1,2179.1 2038.2,2183.7 2040.6,2189.4 C2043.1,2195.0 2045.6,2207.3 2048.0,2213.0 C2050.0,2217.5 2052.5,2221.0 2053.9,2221.3 C2068.0,2221.5 2096.1,2221.5 2110.1,2221.3 C2111.9,2220.6 2115.0,2211.4 2117.5,2204.1 C2120.0,2196.8 2122.4,2183.7 2124.9,2177.5 C2127.3,2171.4 2130.4,2167.2 2132.3,2167.2 C2134.1,2167.2 2137.2,2171.4 2139.7,2177.5 C2142.1,2183.7 2144.6,2196.8 2147.0,2204.1 C2149.5,2211.4 2152.6,2220.6 2154.4,2221.3 C2192.1,2221.5 2267.5,2221.5 2305.2,2221.3 C2307.4,2221.1 2311.1,2217.3 2314.0,2216.0 C2317.0,2214.6 2320.7,2211.3 2322.9,2213.0 C2323.3,2213.3 2323.9,2218.5 2324.4,2221.3" fill="none" stroke="#000030" stroke-width="4.0" stroke-linejoin="round"/>
<line x1="400.0" y1="2022.0" x2="400.0" y2="2223.5" stroke="#1a1a1a" stroke-width="4.5"/>
<line x1="373.0" y1="2221.5" x2="2325.0" y2="2221.5" stroke="#1a1a1a" stroke-width="4.5"/>
<line x1="373.0" y1="2221.5" x2="400.0" y2="2221.5" stroke="#1a1a1a" stroke-width="4.5"/>
<line x1="385.0" y1="2167.0" x2="400.0" y2="2167.0" stroke="#1a1a1a" stroke-width="4.5"/>
<line x1="373.0" y1="2112.0" x2="400.0" y2="2112.0" stroke="#1a1a1a" stroke-width="4.5"/>
<line x1="385.0" y1="2056.5" x2="400.0" y2="2056.5" stroke="#1a1a1a" stroke-width="4.5"/>
<text x="357.0" y="2240.5" font-size="74" text-anchor="end">0.0</text>
<text x="357.0" y="2131.0" font-size="74" text-anchor="end">0.5</text>
<text x="2331.5" y="2055.6" font-size="88.4" text-anchor="end">Nitrogen</text>
<path d="M401.4,2510.0 L401.4,2408.9 C404.1,2404.6 406.7,2400.2 409.4,2396.1 C412.6,2391.1 415.8,2385.4 419.0,2381.7 C422.2,2377.9 426.2,2373.5 428.6,2373.6 C430.6,2373.8 434.0,2377.6 436.6,2383.3 C438.8,2387.7 440.9,2398.0 443.0,2402.5 C445.7,2408.1 448.4,2407.1 451.0,2412.1 C453.2,2416.0 455.3,2423.5 457.4,2428.1 C459.6,2432.6 462.2,2439.6 463.8,2439.3 C465.8,2438.9 469.2,2421.9 471.8,2415.3 C474.8,2407.9 478.6,2397.4 480.8,2397.7 C483.0,2397.9 486.6,2414.8 489.5,2421.7 C492.7,2429.3 496.7,2441.0 499.1,2440.9 C501.1,2440.8 504.4,2427.2 507.1,2421.7 C509.2,2417.2 511.9,2410.5 513.5,2410.5 C515.1,2410.4 517.7,2416.6 519.9,2420.1 C522.0,2423.5 524.7,2431.0 526.3,2431.3 C527.9,2431.5 530.6,2431.3 532.7,2426.5 C534.8,2421.7 537.0,2411.2 539.1,2402.5 C541.8,2391.6 544.4,2375.5 547.1,2367.2 C549.8,2359.0 553.1,2352.8 555.1,2352.8 C556.7,2352.8 559.4,2360.6 561.5,2364.0 C563.6,2367.5 566.3,2373.6 567.9,2373.6 C569.5,2373.6 572.2,2369.4 574.3,2364.0 C576.4,2358.7 578.6,2347.1 580.7,2341.6 C583.4,2334.8 586.1,2329.6 588.7,2328.8 C590.9,2328.2 593.5,2327.9 595.1,2328.2 C597.5,2328.5 601.5,2335.1 604.7,2338.4 C607.9,2341.7 611.1,2340.8 614.3,2348.0 C616.5,2352.8 618.6,2359.2 620.7,2370.4 C622.9,2381.7 625.0,2403.7 627.1,2415.3 C629.8,2429.7 633.1,2445.1 635.1,2445.7 C636.7,2446.2 639.4,2442.8 641.6,2434.5 C643.7,2426.2 645.8,2404.6 648.0,2396.1 C649.6,2389.7 651.6,2386.5 652.8,2386.5 C654.4,2386.5 657.0,2392.9 659.2,2399.3 C661.3,2405.7 663.4,2418.5 665.6,2424.9 C667.7,2431.3 669.8,2436.1 672.0,2437.7 C676.2,2440.9 680.5,2437.7 684.8,2440.9 C686.9,2442.5 689.0,2453.7 691.2,2460.1 C693.3,2466.5 695.5,2475.9 697.6,2479.3 C699.2,2481.9 701.2,2482.3 702.4,2481.9 C704.4,2481.1 707.7,2462.4 710.4,2456.9 C713.6,2450.3 717.6,2447.4 720.0,2447.3 C722.0,2447.2 725.3,2449.7 728.0,2453.7 C731.2,2458.4 734.4,2472.6 737.6,2474.5 C740.3,2476.1 743.6,2476.2 745.6,2476.1 C748.4,2476.0 753.1,2471.5 756.8,2469.7 C759.5,2468.4 762.2,2469.7 764.8,2466.5 C767.5,2463.3 770.8,2450.5 772.8,2450.5 C774.8,2450.5 778.2,2458.5 780.8,2466.5 C783.0,2472.9 785.1,2485.9 787.2,2492.1 C789.9,2499.9 793.2,2506.3 795.2,2506.5 C797.6,2506.8 801.7,2501.5 804.9,2495.3 C808.1,2489.2 811.3,2475.4 814.5,2469.7 C818.7,2462.1 824.1,2458.5 827.3,2458.5 C829.7,2458.5 833.7,2462.6 836.9,2466.5 C841.1,2471.8 845.4,2483.0 849.7,2487.3 C853.9,2491.6 858.2,2489.6 862.5,2492.1 C865.2,2493.7 867.8,2496.0 870.5,2498.5 C872.6,2500.6 875.3,2505.4 876.9,2505.6 C878.9,2505.8 882.2,2504.5 884.9,2501.7 C888.3,2498.2 891.6,2493.4 895.0,2485.7 C897.1,2480.8 899.3,2470.3 901.4,2466.5 C904.1,2461.7 907.4,2461.7 909.4,2461.7 C911.8,2461.7 915.8,2463.5 919.0,2466.5 C921.7,2469.0 924.4,2475.2 927.0,2477.7 C929.2,2479.7 931.8,2481.8 933.4,2480.9 C935.0,2480.0 937.7,2465.2 939.8,2453.7 C942.0,2442.2 944.1,2424.3 946.2,2412.1 C948.4,2399.8 950.5,2387.3 952.6,2380.0 C954.8,2372.8 957.4,2368.7 959.0,2368.8 C960.6,2369.0 963.3,2378.7 965.4,2383.3 C967.6,2387.8 970.2,2395.7 971.8,2396.1 C974.1,2396.6 978.6,2390.9 980.8,2391.3 C982.6,2391.5 985.5,2399.0 987.9,2402.5 C989.5,2404.8 991.5,2409.3 992.7,2408.9 C994.3,2408.2 996.9,2393.9 999.1,2383.3 C1000.7,2375.2 1002.3,2362.5 1003.9,2354.4 C1005.7,2345.3 1007.9,2332.3 1009.3,2332.0 C1010.8,2331.7 1013.2,2337.7 1015.1,2348.0 C1016.7,2356.7 1018.3,2374.8 1019.9,2386.5 C1022.0,2401.9 1024.1,2419.4 1026.3,2428.1 C1028.9,2438.9 1031.6,2434.5 1034.3,2440.9 C1037.0,2447.3 1039.6,2464.5 1042.3,2466.5 C1044.4,2468.1 1047.1,2468.1 1048.7,2468.1 C1050.7,2468.1 1054.7,2464.8 1056.7,2464.9 C1058.7,2465.0 1062.0,2468.9 1064.7,2471.3 C1067.9,2474.2 1071.9,2481.5 1074.3,2480.9 C1076.3,2480.4 1079.6,2468.9 1082.3,2460.1 C1085.0,2451.3 1087.7,2435.3 1090.3,2428.1 C1093.0,2420.9 1096.3,2416.6 1098.3,2416.9 C1100.3,2417.1 1103.7,2427.8 1106.3,2434.5 C1109.0,2441.2 1111.7,2451.2 1114.3,2456.9 C1116.5,2461.5 1119.1,2466.2 1120.7,2466.5 C1123.5,2467.1 1129.1,2464.9 1131.9,2464.9 C1134.3,2464.9 1139.2,2466.5 1141.6,2466.5 C1144.4,2466.5 1150.0,2462.9 1152.8,2463.3 C1154.8,2463.6 1158.1,2467.3 1160.8,2472.9 C1162.9,2477.4 1165.0,2486.8 1167.2,2492.1 C1169.8,2498.8 1173.2,2507.5 1175.2,2508.1 C1177.6,2508.8 1182.4,2508.3 1184.8,2508.1 C1187.6,2507.9 1192.2,2503.8 1196.0,2502.4 C1199.2,2501.2 1203.2,2500.1 1205.6,2500.1 C1208.0,2500.2 1212.0,2502.2 1215.2,2503.3 C1219.5,2504.8 1224.8,2508.7 1228.0,2508.1 C1230.4,2507.7 1234.4,2496.3 1237.6,2492.1 C1240.8,2488.0 1244.8,2482.9 1247.2,2483.2 C1249.2,2483.3 1252.6,2492.0 1255.2,2495.3 C1257.9,2498.7 1261.2,2503.4 1263.2,2503.3 C1265.2,2503.2 1268.6,2495.3 1271.2,2492.1 C1273.9,2488.9 1277.2,2484.0 1279.2,2484.1 C1281.2,2484.2 1284.6,2491.7 1287.2,2495.3 C1290.4,2499.7 1293.6,2508.1 1296.8,2508.1 C1391.9,2509.4 1510.7,2510.0 1582.0,2509.4 C1583.9,2508.5 1586.9,2497.5 1589.4,2487.2 C1591.9,2476.9 1594.3,2457.3 1596.8,2447.8 C1598.9,2439.8 1601.4,2433.0 1603.0,2433.0 C1604.5,2433.0 1607.1,2439.8 1609.1,2447.8 C1611.6,2457.3 1614.0,2476.9 1616.5,2487.2 C1619.0,2497.5 1622.0,2508.5 1623.9,2509.4 C1630.7,2510.0 1644.2,2510.0 1651.0,2509.4 C1652.8,2508.5 1655.9,2494.0 1658.4,2487.2 C1661.7,2478.2 1664.9,2471.0 1668.2,2462.6 C1670.7,2456.2 1673.2,2448.2 1675.6,2442.9 C1678.3,2437.0 1681.7,2429.0 1683.7,2429.3 C1685.4,2429.6 1688.2,2438.8 1690.4,2447.8 C1692.9,2457.8 1695.3,2477.3 1697.8,2487.2 C1700.2,2497.0 1703.3,2506.3 1705.2,2506.9 C1707.0,2507.5 1710.1,2506.5 1712.6,2502.0 C1715.0,2497.5 1717.5,2485.6 1720.0,2479.8 C1722.4,2474.1 1724.9,2469.3 1727.3,2467.5 C1730.6,2465.0 1734.7,2464.9 1737.2,2465.0 C1739.3,2465.1 1742.9,2465.7 1745.8,2470.0 C1747.9,2473.0 1749.9,2479.2 1752.0,2484.7 C1754.4,2491.4 1756.9,2505.7 1759.4,2506.9 C1761.8,2508.1 1764.9,2508.9 1766.7,2508.1 C1768.6,2507.4 1771.7,2494.0 1774.1,2487.2 C1776.6,2480.4 1779.1,2471.8 1781.5,2467.5 C1785.6,2460.4 1789.7,2462.9 1793.8,2457.6 C1797.1,2453.4 1800.4,2446.1 1803.7,2440.4 C1807.0,2434.6 1810.3,2431.3 1813.5,2423.2 C1815.6,2418.1 1817.7,2408.4 1819.7,2403.4 C1821.8,2398.5 1824.3,2393.8 1825.9,2393.6 C1827.4,2393.4 1830.0,2396.5 1832.0,2398.5 C1834.1,2400.6 1836.6,2405.8 1838.2,2405.9 C1840.9,2406.1 1846.5,2397.0 1849.3,2397.3 C1850.8,2397.4 1853.4,2399.1 1855.4,2405.9 C1857.5,2412.7 1859.5,2427.9 1861.6,2437.9 C1863.6,2448.0 1866.2,2465.5 1867.7,2466.3 C1869.3,2467.0 1871.8,2461.1 1873.9,2457.6 C1877.2,2452.1 1881.3,2438.2 1883.7,2437.9 C1885.3,2437.7 1887.8,2443.4 1889.9,2445.3 C1892.4,2447.6 1895.4,2451.1 1897.3,2450.2 C1898.8,2449.6 1901.4,2435.9 1903.4,2428.1 C1905.1,2421.8 1906.7,2413.3 1908.4,2408.4 C1910.0,2403.4 1912.1,2398.5 1913.3,2398.5 C1915.1,2398.5 1918.2,2405.5 1920.7,2413.3 C1923.2,2421.1 1925.6,2436.0 1928.1,2445.3 C1930.4,2454.0 1932.6,2458.8 1934.9,2467.5 C1937.0,2475.3 1939.0,2487.8 1941.1,2494.6 C1943.1,2501.4 1945.7,2507.6 1947.2,2508.1 C1949.7,2508.9 1954.6,2509.2 1957.1,2508.1 C1958.9,2507.3 1962.0,2494.1 1964.5,2487.2 C1967.8,2478.0 1971.1,2467.5 1974.3,2460.1 C1977.6,2452.7 1980.9,2448.8 1984.2,2442.9 C1987.9,2436.1 1992.5,2422.1 1995.3,2421.9 C1997.1,2421.8 2000.2,2426.2 2002.7,2433.0 C2004.7,2438.6 2006.8,2449.4 2008.8,2457.6 C2010.9,2465.8 2012.9,2476.9 2015.0,2482.3 C2016.6,2486.6 2018.7,2488.5 2019.9,2488.4 C2021.4,2488.3 2024.0,2481.1 2026.1,2477.3 C2028.5,2472.9 2031.6,2464.2 2033.4,2463.8 C2035.9,2463.2 2040.8,2466.6 2043.3,2466.3 C2045.1,2466.0 2048.2,2460.5 2050.7,2457.6 C2053.2,2454.8 2055.6,2450.9 2058.1,2449.0 C2060.4,2447.3 2063.3,2446.4 2065.0,2446.6 C2066.9,2446.8 2070.2,2452.4 2072.9,2455.2 C2074.9,2457.3 2077.5,2461.3 2079.0,2461.3 C2080.6,2461.3 2083.1,2457.4 2085.2,2455.2 C2087.2,2452.9 2089.8,2447.6 2091.3,2447.8 C2092.9,2448.0 2095.4,2453.5 2097.5,2460.1 C2099.5,2466.7 2101.6,2481.3 2103.6,2487.2 C2106.1,2494.3 2109.2,2497.0 2111.0,2497.0 C2112.9,2497.1 2116.0,2493.8 2118.4,2489.7 C2120.5,2486.2 2122.5,2478.2 2124.6,2474.9 C2126.6,2471.6 2129.2,2469.8 2130.7,2470.0 C2132.6,2470.1 2135.7,2474.7 2138.1,2479.8 C2140.2,2484.0 2142.2,2493.3 2144.3,2497.0 C2146.7,2501.5 2149.2,2501.7 2151.7,2503.2 C2155.0,2505.2 2158.2,2506.1 2161.5,2506.9 C2166.5,2508.0 2172.6,2508.2 2176.3,2508.1 C2178.8,2508.1 2182.9,2508.1 2186.2,2506.9 C2188.6,2506.0 2191.1,2493.6 2193.5,2487.2 C2196.8,2478.7 2200.1,2467.8 2203.4,2462.6 C2207.5,2456.0 2212.6,2454.1 2215.7,2453.9 C2218.8,2453.8 2223.9,2453.9 2228.0,2457.6 C2230.9,2460.2 2233.8,2465.6 2236.7,2472.4 C2238.3,2476.3 2239.9,2483.9 2241.6,2487.2 C2243.2,2490.5 2245.3,2492.4 2246.5,2492.1 C2248.0,2491.8 2250.6,2483.9 2252.7,2477.3 C2255.1,2469.5 2257.6,2454.2 2260.0,2447.8 C2262.1,2442.4 2264.7,2440.4 2266.2,2440.4 C2268.1,2440.4 2271.1,2447.1 2273.6,2450.2 C2275.6,2452.8 2278.2,2457.7 2279.8,2457.6 C2281.6,2457.5 2284.7,2449.3 2287.1,2445.3 C2289.8,2441.1 2293.1,2432.8 2295.0,2433.0 C2296.7,2433.2 2299.6,2440.7 2301.9,2447.8 C2303.6,2452.8 2305.2,2462.6 2306.8,2467.5 C2308.5,2472.4 2310.5,2477.2 2311.8,2477.3 C2313.0,2477.4 2315.1,2472.8 2316.7,2470.0 C2318.8,2466.4 2321.3,2441.9 2322.9,2457.6 C2323.0,2459.5 2323.3,2492.1 2323.6,2509.4 L2323.6,2510.0 Z" fill="#808080" stroke="none"/>
<path d="M401.4,2408.9 C404.1,2404.6 406.7,2400.2 409.4,2396.1 C412.6,2391.1 415.8,2385.4 419.0,2381.7 C422.2,2377.9 426.2,2373.5 428.6,2373.6 C430.6,2373.8 434.0,2377.6 436.6,2383.3 C438.8,2387.7 440.9,2398.0 443.0,2402.5 C445.7,2408.1 448.4,2407.1 451.0,2412.1 C453.2,2416.0 455.3,2423.5 457.4,2428.1 C459.6,2432.6 462.2,2439.6 463.8,2439.3 C465.8,2438.9 469.2,2421.9 471.8,2415.3 C474.8,2407.9 478.6,2397.4 480.8,2397.7 C483.0,2397.9 486.6,2414.8 489.5,2421.7 C492.7,2429.3 496.7,2441.0 499.1,2440.9 C501.1,2440.8 504.4,2427.2 507.1,2421.7 C509.2,2417.2 511.9,2410.5 513.5,2410.5 C515.1,2410.4 517.7,2416.6 519.9,2420.1 C522.0,2423.5 524.7,2431.0 526.3,2431.3 C527.9,2431.5 530.6,2431.3 532.7,2426.5 C534.8,2421.7 537.0,2411.2 539.1,2402.5 C541.8,2391.6 544.4,2375.5 547.1,2367.2 C549.8,2359.0 553.1,2352.8 555.1,2352.8 C556.7,2352.8 559.4,2360.6 561.5,2364.0 C563.6,2367.5 566.3,2373.6 567.9,2373.6 C569.5,2373.6 572.2,2369.4 574.3,2364.0 C576.4,2358.7 578.6,2347.1 580.7,2341.6 C583.4,2334.8 586.1,2329.6 588.7,2328.8 C590.9,2328.2 593.5,2327.9 595.1,2328.2 C597.5,2328.5 601.5,2335.1 604.7,2338.4 C607.9,2341.7 611.1,2340.8 614.3,2348.0 C616.5,2352.8 618.6,2359.2 620.7,2370.4 C622.9,2381.7 625.0,2403.7 627.1,2415.3 C629.8,2429.7 633.1,2445.1 635.1,2445.7 C636.7,2446.2 639.4,2442.8 641.6,2434.5 C643.7,2426.2 645.8,2404.6 648.0,2396.1 C649.6,2389.7 651.6,2386.5 652.8,2386.5 C654.4,2386.5 657.0,2392.9 659.2,2399.3 C661.3,2405.7 663.4,2418.5 665.6,2424.9 C667.7,2431.3 669.8,2436.1 672.0,2437.7 C676.2,2440.9 680.5,2437.7 684.8,2440.9 C686.9,2442.5 689.0,2453.7 691.2,2460.1 C693.3,2466.5 695.5,2475.9 697.6,2479.3 C699.2,2481.9 701.2,2482.3 702.4,2481.9 C704.4,2481.1 707.7,2462.4 710.4,2456.9 C713.6,2450.3 717.6,2447.4 720.0,2447.3 C722.0,2447.2 725.3,2449.7 728.0,2453.7 C731.2,2458.4 734.4,2472.6 737.6,2474.5 C740.3,2476.1 743.6,2476.2 745.6,2476.1 C748.4,2476.0 753.1,2471.5 756.8,2469.7 C759.5,2468.4 762.2,2469.7 764.8,2466.5 C767.5,2463.3 770.8,2450.5 772.8,2450.5 C774.8,2450.5 778.2,2458.5 780.8,2466.5 C783.0,2472.9 785.1,2485.9 787.2,2492.1 C789.9,2499.9 793.2,2506.3 795.2,2506.5 C797.6,2506.8 801.7,2501.5 804.9,2495.3 C808.1,2489.2 811.3,2475.4 814.5,2469.7 C818.7,2462.1 824.1,2458.5 827.3,2458.5 C829.7,2458.5 833.7,2462.6 836.9,2466.5 C841.1,2471.8 845.4,2483.0 849.7,2487.3 C853.9,2491.6 858.2,2489.6 862.5,2492.1 C865.2,2493.7 867.8,2496.0 870.5,2498.5 C872.6,2500.6 875.3,2505.4 876.9,2505.6 C878.9,2505.8 882.2,2504.5 884.9,2501.7 C888.3,2498.2 891.6,2493.4 895.0,2485.7 C897.1,2480.8 899.3,2470.3 901.4,2466.5 C904.1,2461.7 907.4,2461.7 909.4,2461.7 C911.8,2461.7 915.8,2463.5 919.0,2466.5 C921.7,2469.0 924.4,2475.2 927.0,2477.7 C929.2,2479.7 931.8,2481.8 933.4,2480.9 C935.0,2480.0 937.7,2465.2 939.8,2453.7 C942.0,2442.2 944.1,2424.3 946.2,2412.1 C948.4,2399.8 950.5,2387.3 952.6,2380.0 C954.8,2372.8 957.4,2368.7 959.0,2368.8 C960.6,2369.0 963.3,2378.7 965.4,2383.3 C967.6,2387.8 970.2,2395.7 971.8,2396.1 C974.1,2396.6 978.6,2390.9 980.8,2391.3 C982.6,2391.5 985.5,2399.0 987.9,2402.5 C989.5,2404.8 991.5,2409.3 992.7,2408.9 C994.3,2408.2 996.9,2393.9 999.1,2383.3 C1000.7,2375.2 1002.3,2362.5 1003.9,2354.4 C1005.7,2345.3 1007.9,2332.3 1009.3,2332.0 C1010.8,2331.7 1013.2,2337.7 1015.1,2348.0 C1016.7,2356.7 1018.3,2374.8 1019.9,2386.5 C1022.0,2401.9 1024.1,2419.4 1026.3,2428.1 C1028.9,2438.9 1031.6,2434.5 1034.3,2440.9 C1037.0,2447.3 1039.6,2464.5 1042.3,2466.5 C1044.4,2468.1 1047.1,2468.1 1048.7,2468.1 C1050.7,2468.1 1054.7,2464.8 1056.7,2464.9 C1058.7,2465.0 1062.0,2468.9 1064.7,2471.3 C1067.9,2474.2 1071.9,2481.5 1074.3,2480.9 C1076.3,2480.4 1079.6,2468.9 1082.3,2460.1 C1085.0,2451.3 1087.7,2435.3 1090.3,2428.1 C1093.0,2420.9 1096.3,2416.6 1098.3,2416.9 C1100.3,2417.1 1103.7,2427.8 1106.3,2434.5 C1109.0,2441.2 1111.7,2451.2 1114.3,2456.9 C1116.5,2461.5 1119.1,2466.2 1120.7,2466.5 C1123.5,2467.1 1129.1,2464.9 1131.9,2464.9 C1134.3,2464.9 1139.2,2466.5 1141.6,2466.5 C1144.4,2466.5 1150.0,2462.9 1152.8,2463.3 C1154.8,2463.6 1158.1,2467.3 1160.8,2472.9 C1162.9,2477.4 1165.0,2486.8 1167.2,2492.1 C1169.8,2498.8 1173.2,2507.5 1175.2,2508.1 C1177.6,2508.8 1182.4,2508.3 1184.8,2508.1 C1187.6,2507.9 1192.2,2503.8 1196.0,2502.4 C1199.2,2501.2 1203.2,2500.1 1205.6,2500.1 C1208.0,2500.2 1212.0,2502.2 1215.2,2503.3 C1219.5,2504.8 1224.8,2508.7 1228.0,2508.1 C1230.4,2507.7 1234.4,2496.3 1237.6,2492.1 C1240.8,2488.0 1244.8,2482.9 1247.2,2483.2 C1249.2,2483.3 1252.6,2492.0 1255.2,2495.3 C1257.9,2498.7 1261.2,2503.4 1263.2,2503.3 C1265.2,2503.2 1268.6,2495.3 1271.2,2492.1 C1273.9,2488.9 1277.2,2484.0 1279.2,2484.1 C1281.2,2484.2 1284.6,2491.7 1287.2,2495.3 C1290.4,2499.7 1293.6,2508.1 1296.8,2508.1 C1391.9,2509.4 1510.7,2510.0 1582.0,2509.4 C1583.9,2508.5 1586.9,2497.5 1589.4,2487.2 C1591.9,2476.9 1594.3,2457.3 1596.8,2447.8 C1598.9,2439.8 1601.4,2433.0 1603.0,2433.0 C1604.5,2433.0 1607.1,2439.8 1609.1,2447.8 C1611.6,2457.3 1614.0,2476.9 1616.5,2487.2 C1619.0,2497.5 1622.0,2508.5 1623.9,2509.4 C1630.7,2510.0 1644.2,2510.0 1651.0,2509.4 C1652.8,2508.5 1655.9,2494.0 1658.4,2487.2 C1661.7,2478.2 1664.9,2471.0 1668.2,2462.6 C1670.7,2456.2 1673.2,2448.2 1675.6,2442.9 C1678.3,2437.0 1681.7,2429.0 1683.7,2429.3 C1685.4,2429.6 1688.2,2438.8 1690.4,2447.8 C1692.9,2457.8 1695.3,2477.3 1697.8,2487.2 C1700.2,2497.0 1703.3,2506.3 1705.2,2506.9 C1707.0,2507.5 1710.1,2506.5 1712.6,2502.0 C1715.0,2497.5 1717.5,2485.6 1720.0,2479.8 C1722.4,2474.1 1724.9,2469.3 1727.3,2467.5 C1730.6,2465.0 1734.7,2464.9 1737.2,2465.0 C1739.3,2465.1 1742.9,2465.7 1745.8,2470.0 C1747.9,2473.0 1749.9,2479.2 1752.0,2484.7 C1754.4,2491.4 1756.9,2505.7 1759.4,2506.9 C1761.8,2508.1 1764.9,2508.9 1766.7,2508.1 C1768.6,2507.4 1771.7,2494.0 1774.1,2487.2 C1776.6,2480.4 1779.1,2471.8 1781.5,2467.5 C1785.6,2460.4 1789.7,2462.9 1793.8,2457.6 C1797.1,2453.4 1800.4,2446.1 1803.7,2440.4 C1807.0,2434.6 1810.3,2431.3 1813.5,2423.2 C1815.6,2418.1 1817.7,2408.4 1819.7,2403.4 C1821.8,2398.5 1824.3,2393.8 1825.9,2393.6 C1827.4,2393.4 1830.0,2396.5 1832.0,2398.5 C1834.1,2400.6 1836.6,2405.8 1838.2,2405.9 C1840.9,2406.1 1846.5,2397.0 1849.3,2397.3 C1850.8,2397.4 1853.4,2399.1 1855.4,2405.9 C1857.5,2412.7 1859.5,2427.9 1861.6,2437.9 C1863.6,2448.0 1866.2,2465.5 1867.7,2466.3 C1869.3,2467.0 1871.8,2461.1 1873.9,2457.6 C1877.2,2452.1 1881.3,2438.2 1883.7,2437.9 C1885.3,2437.7 1887.8,2443.4 1889.9,2445.3 C1892.4,2447.6 1895.4,2451.1 1897.3,2450.2 C1898.8,2449.6 1901.4,2435.9 1903.4,2428.1 C1905.1,2421.8 1906.7,2413.3 1908.4,2408.4 C1910.0,2403.4 1912.1,2398.5 1913.3,2398.5 C1915.1,2398.5 1918.2,2405.5 1920.7,2413.3 C1923.2,2421.1 1925.6,2436.0 1928.1,2445.3 C1930.4,2454.0 1932.6,2458.8 1934.9,2467.5 C1937.0,2475.3 1939.0,2487.8 1941.1,2494.6 C1943.1,2501.4 1945.7,2507.6 1947.2,2508.1 C1949.7,2508.9 1954.6,2509.2 1957.1,2508.1 C1958.9,2507.3 1962.0,2494.1 1964.5,2487.2 C1967.8,2478.0 1971.1,2467.5 1974.3,2460.1 C1977.6,2452.7 1980.9,2448.8 1984.2,2442.9 C1987.9,2436.1 1992.5,2422.1 1995.3,2421.9 C1997.1,2421.8 2000.2,2426.2 2002.7,2433.0 C2004.7,2438.6 2006.8,2449.4 2008.8,2457.6 C2010.9,2465.8 2012.9,2476.9 2015.0,2482.3 C2016.6,2486.6 2018.7,2488.5 2019.9,2488.4 C2021.4,2488.3 2024.0,2481.1 2026.1,2477.3 C2028.5,2472.9 2031.6,2464.2 2033.4,2463.8 C2035.9,2463.2 2040.8,2466.6 2043.3,2466.3 C2045.1,2466.0 2048.2,2460.5 2050.7,2457.6 C2053.2,2454.8 2055.6,2450.9 2058.1,2449.0 C2060.4,2447.3 2063.3,2446.4 2065.0,2446.6 C2066.9,2446.8 2070.2,2452.4 2072.9,2455.2 C2074.9,2457.3 2077.5,2461.3 2079.0,2461.3 C2080.6,2461.3 2083.1,2457.4 2085.2,2455.2 C2087.2,2452.9 2089.8,2447.6 2091.3,2447.8 C2092.9,2448.0 2095.4,2453.5 2097.5,2460.1 C2099.5,2466.7 2101.6,2481.3 2103.6,2487.2 C2106.1,2494.3 2109.2,2497.0 2111.0,2497.0 C2112.9,2497.1 2116.0,2493.8 2118.4,2489.7 C2120.5,2486.2 2122.5,2478.2 2124.6,2474.9 C2126.6,2471.6 2129.2,2469.8 2130.7,2470.0 C2132.6,2470.1 2135.7,2474.7 2138.1,2479.8 C2140.2,2484.0 2142.2,2493.3 2144.3,2497.0 C2146.7,2501.5 2149.2,2501.7 2151.7,2503.2 C2155.0,2505.2 2158.2,2506.1 2161.5,2506.9 C2166.5,2508.0 2172.6,2508.2 2176.3,2508.1 C2178.8,2508.1 2182.9,2508.1 2186.2,2506.9 C2188.6,2506.0 2191.1,2493.6 2193.5,2487.2 C2196.8,2478.7 2200.1,2467.8 2203.4,2462.6 C2207.5,2456.0 2212.6,2454.1 2215.7,2453.9 C2218.8,2453.8 2223.9,2453.9 2228.0,2457.6 C2230.9,2460.2 2233.8,2465.6 2236.7,2472.4 C2238.3,2476.3 2239.9,2483.9 2241.6,2487.2 C2243.2,2490.5 2245.3,2492.4 2246.5,2492.1 C2248.0,2491.8 2250.6,2483.9 2252.7,2477.3 C2255.1,2469.5 2257.6,2454.2 2260.0,2447.8 C2262.1,2442.4 2264.7,2440.4 2266.2,2440.4 C2268.1,2440.4 2271.1,2447.1 2273.6,2450.2 C2275.6,2452.8 2278.2,2457.7 2279.8,2457.6 C2281.6,2457.5 2284.7,2449.3 2287.1,2445.3 C2289.8,2441.1 2293.1,2432.8 2295.0,2433.0 C2296.7,2433.2 2299.6,2440.7 2301.9,2447.8 C2303.6,2452.8 2305.2,2462.6 2306.8,2467.5 C2308.5,2472.4 2310.5,2477.2 2311.8,2477.3 C2313.0,2477.4 2315.1,2472.8 2316.7,2470.0 C2318.8,2466.4 2321.3,2441.9 2322.9,2457.6 C2323.0,2459.5 2323.3,2492.1 2323.6,2509.4" fill="none" stroke="#2a2a2a" stroke-width="4.0" stroke-linejoin="round"/>
<line x1="400.0" y1="2312.0" x2="400.0" y2="2512.0" stroke="#1a1a1a" stroke-width="4.5"/>
<line x1="373.0" y1="2510.0" x2="2325.0" y2="2510.0" stroke="#1a1a1a" stroke-width="4.5"/>
<line x1="373.0" y1="2510.0" x2="400.0" y2="2510.0" stroke="#1a1a1a" stroke-width="4.5"/>
<line x1="385.0" y1="2472.5" x2="400.0" y2="2472.5" stroke="#1a1a1a" stroke-width="4.5"/>
<line x1="373.0" y1="2433.0" x2="400.0" y2="2433.0" stroke="#1a1a1a" stroke-width="4.5"/>
<line x1="385.0" y1="2392.5" x2="400.0" y2="2392.5" stroke="#1a1a1a" stroke-width="4.5"/>
<line x1="373.0" y1="2355.5" x2="400.0" y2="2355.5" stroke="#1a1a1a" stroke-width="4.5"/>
<line x1="385.0" y1="2317.0" x2="400.0" y2="2317.0" stroke="#1a1a1a" stroke-width="4.5"/>
<text x="357.0" y="2529.0" font-size="74" text-anchor="end">0.0</text>
<text x="357.0" y="2452.0" font-size="74" text-anchor="end">1.5</text>
<text x="357.0" y="2374.5" font-size="74" text-anchor="end">3.0</text>
<text x="2314.5" y="2327.5" font-size="88.4" text-anchor="end">Carbon</text>
<path d="M401.4,2798.0 L401.4,2741.6 C404.1,2742.2 406.7,2741.6 409.4,2743.2 C412.1,2744.8 414.7,2748.0 417.4,2751.2 C420.1,2754.4 422.8,2759.7 425.4,2762.4 C428.6,2765.7 432.6,2768.7 435.0,2768.8 C437.0,2768.9 440.4,2766.8 443.0,2765.6 C445.2,2764.7 447.8,2762.3 449.4,2762.4 C451.4,2762.6 454.8,2767.2 457.4,2770.4 C460.6,2774.3 464.6,2783.7 467.0,2783.9 C469.0,2784.0 472.4,2778.8 475.0,2776.8 C477.7,2774.9 481.1,2772.0 483.1,2772.0 C485.1,2772.0 488.4,2775.5 491.1,2776.8 C493.7,2778.2 497.1,2780.0 499.1,2780.0 C501.5,2780.0 506.3,2776.1 508.7,2776.2 C511.1,2776.3 515.1,2779.8 518.3,2781.7 C522.0,2783.8 525.7,2786.9 529.5,2788.1 C532.7,2789.0 536.7,2789.2 539.1,2789.0 C541.5,2788.8 545.5,2785.1 548.7,2783.3 C552.4,2781.1 556.2,2778.4 559.9,2776.8 C565.8,2774.4 573.1,2772.0 577.5,2772.0 C581.5,2772.1 588.2,2775.2 593.5,2776.8 C598.3,2778.4 603.1,2780.0 607.9,2781.7 C611.7,2783.0 615.4,2784.7 619.1,2785.8 C622.9,2786.9 627.5,2788.1 630.3,2788.1 C632.3,2788.0 635.7,2786.5 638.3,2785.8 C641.6,2785.0 645.6,2783.8 648.0,2783.9 C650.0,2784.0 653.3,2786.4 656.0,2788.1 C658.6,2789.7 662.0,2793.6 664.0,2793.8 C667.2,2794.2 672.5,2793.7 676.8,2793.5 C680.0,2793.4 684.0,2792.8 686.4,2792.9 C688.8,2792.9 693.6,2795.3 696.0,2795.4 C701.6,2795.6 712.8,2795.6 718.4,2795.4 C721.6,2795.3 728.0,2793.0 731.2,2792.9 C733.6,2792.8 738.4,2793.8 740.8,2792.9 C742.4,2792.3 745.1,2782.2 747.2,2776.8 C749.4,2771.5 751.5,2764.2 753.6,2760.8 C756.0,2757.1 758.9,2755.8 760.7,2756.0 C762.5,2756.3 765.6,2762.9 768.0,2767.2 C770.7,2771.9 773.4,2779.0 776.0,2783.3 C779.2,2788.3 782.4,2792.2 785.6,2794.5 C787.8,2796.0 790.4,2796.0 792.0,2796.1 C800.0,2796.4 816.1,2796.3 824.1,2796.1 C827.3,2796.0 833.7,2793.5 836.9,2793.5 C840.1,2793.5 846.5,2796.0 849.7,2796.1 C877.0,2796.9 931.7,2798.0 959.0,2796.1 C962.2,2795.6 967.6,2788.6 971.8,2784.9 C976.7,2780.6 982.7,2772.0 986.3,2772.0 C989.1,2772.1 993.7,2778.5 997.5,2783.3 C1000.1,2786.6 1003.5,2795.0 1005.5,2795.4 C1008.7,2796.1 1015.1,2796.2 1018.3,2795.4 C1019.5,2795.1 1021.5,2789.7 1023.1,2788.1 C1026.1,2785.1 1029.8,2783.8 1032.0,2783.9 C1034.2,2784.0 1037.8,2787.4 1040.7,2789.7 C1042.8,2791.3 1045.5,2795.2 1047.1,2795.4 C1053.9,2796.2 1065.2,2795.0 1074.3,2792.9 C1078.6,2791.9 1083.9,2788.1 1087.1,2788.1 C1090.3,2788.1 1096.7,2792.7 1099.9,2792.9 C1104.7,2793.1 1112.7,2792.1 1119.1,2791.3 C1123.4,2790.7 1127.7,2789.5 1131.9,2789.0 C1137.3,2788.4 1144.0,2787.9 1148.0,2788.1 C1150.4,2788.2 1154.4,2789.9 1157.6,2791.3 C1160.8,2792.6 1164.8,2795.9 1167.2,2796.1 C1173.6,2796.5 1184.2,2796.1 1192.8,2795.4 C1198.1,2795.0 1204.8,2792.8 1208.8,2792.9 C1212.8,2792.9 1219.5,2796.0 1224.8,2796.1 C1492.7,2798.0 1827.6,2798.0 2028.5,2798.0 C2031.0,2797.9 2035.1,2796.9 2038.4,2795.7 C2040.8,2794.8 2043.3,2793.1 2045.8,2792.0 C2048.6,2790.6 2052.2,2788.3 2054.4,2788.3 C2056.5,2788.3 2060.1,2791.2 2063.0,2792.0 C2067.1,2793.1 2072.2,2793.4 2075.3,2793.2 C2077.5,2793.1 2081.1,2790.9 2083.9,2789.5 C2086.8,2788.1 2089.7,2789.5 2092.6,2784.6 C2095.0,2780.4 2097.5,2768.2 2100.0,2750.1 C2102.0,2735.0 2104.1,2710.1 2106.1,2688.5 C2107.8,2671.3 2109.4,2647.2 2111.0,2634.3 C2112.4,2623.4 2114.2,2614.8 2115.2,2614.6 C2116.3,2614.5 2118.2,2620.5 2119.7,2631.9 C2121.3,2644.5 2122.9,2668.8 2124.6,2688.5 C2126.2,2708.2 2127.9,2733.7 2129.5,2750.1 C2131.1,2766.5 2132.8,2779.2 2134.4,2787.0 C2136.1,2794.8 2138.1,2796.5 2139.4,2796.9 C2143.7,2798.0 2152.3,2798.0 2156.6,2796.9 C2158.1,2796.4 2160.7,2788.7 2162.8,2784.6 C2164.4,2781.3 2166.0,2776.7 2167.7,2774.7 C2169.7,2772.3 2172.3,2772.1 2173.8,2772.3 C2175.7,2772.4 2178.8,2776.8 2181.2,2779.7 C2183.7,2782.5 2186.8,2789.3 2188.6,2789.5 C2190.5,2789.7 2193.5,2785.8 2196.0,2784.6 C2198.9,2783.2 2202.5,2782.0 2204.6,2782.1 C2206.5,2782.2 2209.6,2783.5 2212.0,2785.8 C2214.1,2787.8 2216.1,2792.7 2218.2,2794.4 C2220.6,2796.6 2223.7,2796.8 2225.6,2796.9 C2229.3,2797.1 2235.4,2796.9 2240.3,2796.4 C2242.8,2796.2 2245.3,2787.8 2247.7,2782.1 C2250.2,2776.5 2252.7,2766.7 2255.1,2762.4 C2257.6,2758.1 2260.7,2756.2 2262.5,2756.3 C2264.4,2756.3 2267.4,2761.8 2269.9,2763.6 C2272.4,2765.5 2275.4,2767.2 2277.3,2767.3 C2279.1,2767.4 2282.8,2765.9 2284.7,2766.1 C2286.5,2766.3 2289.6,2769.2 2292.1,2772.3 C2294.5,2775.3 2297.0,2781.7 2299.5,2784.6 C2301.9,2787.5 2305.0,2789.5 2306.8,2789.5 C2308.7,2789.5 2311.8,2786.1 2314.2,2784.6 C2317.1,2782.8 2320.7,2771.8 2322.9,2779.7 C2323.0,2780.3 2323.3,2791.9 2323.6,2798.0 L2323.6,2798.0 Z" fill="#ffff80" stroke="none"/>
<path d="M401.4,2741.6 C404.1,2742.2 406.7,2741.6 409.4,2743.2 C412.1,2744.8 414.7,2748.0 417.4,2751.2 C420.1,2754.4 422.8,2759.7 425.4,2762.4 C428.6,2765.7 432.6,2768.7 435.0,2768.8 C437.0,2768.9 440.4,2766.8 443.0,2765.6 C445.2,2764.7 447.8,2762.3 449.4,2762.4 C451.4,2762.6 454.8,2767.2 457.4,2770.4 C460.6,2774.3 464.6,2783.7 467.0,2783.9 C469.0,2784.0 472.4,2778.8 475.0,2776.8 C477.7,2774.9 481.1,2772.0 483.1,2772.0 C485.1,2772.0 488.4,2775.5 491.1,2776.8 C493.7,2778.2 497.1,2780.0 499.1,2780.0 C501.5,2780.0 506.3,2776.1 508.7,2776.2 C511.1,2776.3 515.1,2779.8 518.3,2781.7 C522.0,2783.8 525.7,2786.9 529.5,2788.1 C532.7,2789.0 536.7,2789.2 539.1,2789.0 C541.5,2788.8 545.5,2785.1 548.7,2783.3 C552.4,2781.1 556.2,2778.4 559.9,2776.8 C565.8,2774.4 573.1,2772.0 577.5,2772.0 C581.5,2772.1 588.2,2775.2 593.5,2776.8 C598.3,2778.4 603.1,2780.0 607.9,2781.7 C611.7,2783.0 615.4,2784.7 619.1,2785.8 C622.9,2786.9 627.5,2788.1 630.3,2788.1 C632.3,2788.0 635.7,2786.5 638.3,2785.8 C641.6,2785.0 645.6,2783.8 648.0,2783.9 C650.0,2784.0 653.3,2786.4 656.0,2788.1 C658.6,2789.7 662.0,2793.6 664.0,2793.8 C667.2,2794.2 672.5,2793.7 676.8,2793.5 C680.0,2793.4 684.0,2792.8 686.4,2792.9 C688.8,2792.9 693.6,2795.3 696.0,2795.4 C701.6,2795.6 712.8,2795.6 718.4,2795.4 C721.6,2795.3 728.0,2793.0 731.2,2792.9 C733.6,2792.8 738.4,2793.8 740.8,2792.9 C742.4,2792.3 745.1,2782.2 747.2,2776.8 C749.4,2771.5 751.5,2764.2 753.6,2760.8 C756.0,2757.1 758.9,2755.8 760.7,2756.0 C762.5,2756.3 765.6,2762.9 768.0,2767.2 C770.7,2771.9 773.4,2779.0 776.0,2783.3 C779.2,2788.3 782.4,2792.2 785.6,2794.5 C787.8,2796.0 790.4,2796.0 792.0,2796.1 C800.0,2796.4 816.1,2796.3 824.1,2796.1 C827.3,2796.0 833.7,2793.5 836.9,2793.5 C840.1,2793.5 846.5,2796.0 849.7,2796.1 C877.0,2796.9 931.7,2798.0 959.0,2796.1 C962.2,2795.6 967.6,2788.6 971.8,2784.9 C976.7,2780.6 982.7,2772.0 986.3,2772.0 C989.1,2772.1 993.7,2778.5 997.5,2783.3 C1000.1,2786.6 1003.5,2795.0 1005.5,2795.4 C1008.7,2796.1 1015.1,2796.2 1018.3,2795.4 C1019.5,2795.1 1021.5,2789.7 1023.1,2788.1 C1026.1,2785.1 1029.8,2783.8 1032.0,2783.9 C1034.2,2784.0 1037.8,2787.4 1040.7,2789.7 C1042.8,2791.3 1045.5,2795.2 1047.1,2795.4 C1053.9,2796.2 1065.2,2795.0 1074.3,2792.9 C1078.6,2791.9 1083.9,2788.1 1087.1,2788.1 C1090.3,2788.1 1096.7,2792.7 1099.9,2792.9 C1104.7,2793.1 1112.7,2792.1 1119.1,2791.3 C1123.4,2790.7 1127.7,2789.5 1131.9,2789.0 C1137.3,2788.4 1144.0,2787.9 1148.0,2788.1 C1150.4,2788.2 1154.4,2789.9 1157.6,2791.3 C1160.8,2792.6 1164.8,2795.9 1167.2,2796.1 C1173.6,2796.5 1184.2,2796.1 1192.8,2795.4 C1198.1,2795.0 1204.8,2792.8 1208.8,2792.9 C1212.8,2792.9 1219.5,2796.0 1224.8,2796.1 C1492.7,2798.0 1827.6,2798.0 2028.5,2798.0 C2031.0,2797.9 2035.1,2796.9 2038.4,2795.7 C2040.8,2794.8 2043.3,2793.1 2045.8,2792.0 C2048.6,2790.6 2052.2,2788.3 2054.4,2788.3 C2056.5,2788.3 2060.1,2791.2 2063.0,2792.0 C2067.1,2793.1 2072.2,2793.4 2075.3,2793.2 C2077.5,2793.1 2081.1,2790.9 2083.9,2789.5 C2086.8,2788.1 2089.7,2789.5 2092.6,2784.6 C2095.0,2780.4 2097.5,2768.2 2100.0,2750.1 C2102.0,2735.0 2104.1,2710.1 2106.1,2688.5 C2107.8,2671.3 2109.4,2647.2 2111.0,2634.3 C2112.4,2623.4 2114.2,2614.8 2115.2,2614.6 C2116.3,2614.5 2118.2,2620.5 2119.7,2631.9 C2121.3,2644.5 2122.9,2668.8 2124.6,2688.5 C2126.2,2708.2 2127.9,2733.7 2129.5,2750.1 C2131.1,2766.5 2132.8,2779.2 2134.4,2787.0 C2136.1,2794.8 2138.1,2796.5 2139.4,2796.9 C2143.7,2798.0 2152.3,2798.0 2156.6,2796.9 C2158.1,2796.4 2160.7,2788.7 2162.8,2784.6 C2164.4,2781.3 2166.0,2776.7 2167.7,2774.7 C2169.7,2772.3 2172.3,2772.1 2173.8,2772.3 C2175.7,2772.4 2178.8,2776.8 2181.2,2779.7 C2183.7,2782.5 2186.8,2789.3 2188.6,2789.5 C2190.5,2789.7 2193.5,2785.8 2196.0,2784.6 C2198.9,2783.2 2202.5,2782.0 2204.6,2782.1 C2206.5,2782.2 2209.6,2783.5 2212.0,2785.8 C2214.1,2787.8 2216.1,2792.7 2218.2,2794.4 C2220.6,2796.6 2223.7,2796.8 2225.6,2796.9 C2229.3,2797.1 2235.4,2796.9 2240.3,2796.4 C2242.8,2796.2 2245.3,2787.8 2247.7,2782.1 C2250.2,2776.5 2252.7,2766.7 2255.1,2762.4 C2257.6,2758.1 2260.7,2756.2 2262.5,2756.3 C2264.4,2756.3 2267.4,2761.8 2269.9,2763.6 C2272.4,2765.5 2275.4,2767.2 2277.3,2767.3 C2279.1,2767.4 2282.8,2765.9 2284.7,2766.1 C2286.5,2766.3 2289.6,2769.2 2292.1,2772.3 C2294.5,2775.3 2297.0,2781.7 2299.5,2784.6 C2301.9,2787.5 2305.0,2789.5 2306.8,2789.5 C2308.7,2789.5 2311.8,2786.1 2314.2,2784.6 C2317.1,2782.8 2320.7,2771.8 2322.9,2779.7 C2323.0,2780.3 2323.3,2791.9 2323.6,2798.0" fill="none" stroke="#3a3a1a" stroke-width="4.0" stroke-linejoin="round"/>
<line x1="400.0" y1="2598.0" x2="400.0" y2="2800.0" stroke="#1a1a1a" stroke-width="4.5"/>
<line x1="373.0" y1="2798.0" x2="2325.0" y2="2798.0" stroke="#1a1a1a" stroke-width="4.5"/>
<line x1="373.0" y1="2798.0" x2="400.0" y2="2798.0" stroke="#1a1a1a" stroke-width="4.5"/>
<line x1="385.0" y1="2717.5" x2="400.0" y2="2717.5" stroke="#1a1a1a" stroke-width="4.5"/>
<line x1="373.0" y1="2636.5" x2="400.0" y2="2636.5" stroke="#1a1a1a" stroke-width="4.5"/>
<text x="357.0" y="2817.0" font-size="74" text-anchor="end">0.0</text>
<text x="357.0" y="2655.5" font-size="74" text-anchor="end">0.5</text>
<text x="2330.0" y="2600.3" font-size="88.4" text-anchor="end">Cadmium</text>
<path d="M401.4,3086.0 L401.4,2963.3 C404.1,2959.5 406.7,2954.7 409.4,2952.0 C412.1,2949.4 414.7,2948.3 417.4,2947.2 C420.1,2946.2 423.4,2945.6 425.4,2945.6 C427.4,2945.7 430.8,2945.6 433.4,2948.8 C435.6,2951.4 437.7,2961.4 439.8,2966.5 C442.0,2971.5 444.1,2976.1 446.2,2979.3 C448.4,2982.5 450.5,2981.4 452.6,2985.7 C454.8,2989.9 456.9,2999.5 459.0,3004.9 C460.6,3008.9 462.6,3014.8 463.8,3014.5 C465.4,3014.1 468.1,3000.1 470.2,2992.1 C471.8,2986.1 473.4,2977.3 475.0,2972.9 C477.2,2967.0 479.9,2963.1 481.5,2963.3 C483.1,2963.4 485.7,2970.2 487.9,2976.1 C490.0,2981.9 492.1,2993.0 494.3,2998.5 C495.9,3002.6 497.9,3006.7 499.1,3006.5 C500.7,3006.2 503.3,2993.7 505.5,2988.9 C507.9,2983.4 511.0,2976.0 512.8,2976.1 C514.6,2976.1 517.5,2984.1 519.9,2988.9 C522.0,2993.2 524.1,3001.7 526.3,3003.3 C528.4,3004.9 531.1,3005.5 532.7,3004.9 C534.3,3004.2 537.0,2995.3 539.1,2985.7 C541.2,2976.1 543.4,2956.5 545.5,2947.2 C548.7,2933.4 552.7,2921.9 555.1,2921.6 C557.1,2921.4 560.4,2932.6 563.1,2937.6 C565.2,2941.6 567.9,2948.9 569.5,2948.8 C571.5,2948.8 574.8,2940.8 577.5,2934.4 C579.6,2929.3 581.8,2919.7 583.9,2915.2 C587.1,2908.6 591.1,2904.0 593.5,2904.0 C595.9,2904.0 599.9,2911.1 603.1,2915.2 C606.9,2920.1 610.6,2923.0 614.3,2931.2 C616.5,2936.0 618.6,2940.1 620.7,2950.4 C622.3,2958.2 623.9,2973.8 625.5,2982.5 C628.2,2997.0 631.5,3015.4 633.5,3016.1 C635.5,3016.8 638.9,3013.0 641.6,3001.7 C643.2,2994.9 644.8,2976.8 646.4,2969.7 C648.5,2960.1 651.2,2955.3 652.8,2955.2 C654.8,2955.2 658.1,2964.6 660.8,2972.9 C662.9,2979.5 665.0,2993.7 667.2,2998.5 C669.3,3003.3 672.0,3003.4 673.6,3003.3 C676.0,3003.1 680.8,2990.3 683.2,2990.5 C684.8,2990.6 687.4,2995.5 689.6,3001.7 C691.7,3007.8 693.9,3019.8 696.0,3027.3 C698.1,3034.8 700.8,3046.1 702.4,3046.5 C704.0,3046.9 706.7,3045.4 708.8,3036.9 C710.9,3028.4 713.1,3004.8 715.2,2995.3 C717.9,2983.4 721.2,2976.4 723.2,2976.1 C725.2,2975.7 728.5,2982.2 731.2,2985.7 C733.9,2989.1 736.5,2993.9 739.2,2996.9 C742.4,3000.4 745.6,3002.5 748.8,3004.9 C752.0,3007.3 756.0,3011.2 758.4,3011.3 C760.4,3011.4 763.8,3010.2 766.4,3008.1 C769.1,3005.9 772.4,2998.1 774.4,2998.5 C776.0,2998.8 778.7,3005.9 780.8,3014.5 C783.0,3023.0 785.1,3039.6 787.2,3049.7 C789.4,3059.8 791.5,3069.8 793.6,3075.3 C795.2,3079.5 797.2,3081.3 798.4,3081.1 C800.4,3080.7 803.8,3072.9 806.5,3062.5 C808.6,3054.2 810.7,3037.4 812.9,3027.3 C815.5,3014.6 818.2,3003.1 820.9,2995.3 C824.3,2985.2 828.5,2976.1 831.1,2976.1 C833.3,2976.0 837.1,2983.4 840.1,2992.1 C842.7,2999.8 845.4,3017.7 848.1,3024.1 C850.7,3030.5 853.4,3027.8 856.1,3030.5 C858.8,3033.2 861.4,3034.9 864.1,3040.1 C865.7,3043.2 867.3,3049.0 868.9,3052.9 C871.6,3059.4 874.9,3070.3 876.9,3070.5 C878.9,3070.8 882.2,3065.4 884.9,3059.3 C888.3,3051.6 891.6,3032.3 895.0,3027.3 C898.2,3022.5 902.2,3022.2 904.6,3022.5 C906.6,3022.8 909.9,3029.2 912.6,3033.7 C915.3,3038.2 917.9,3045.9 920.6,3049.7 C923.8,3054.2 927.8,3058.1 930.2,3057.7 C932.2,3057.4 935.6,3052.6 938.2,3043.3 C940.9,3034.0 943.6,3014.4 946.2,3001.7 C949.4,2986.4 952.6,2970.8 955.8,2960.0 C958.5,2951.1 961.8,2941.3 963.8,2940.8 C965.8,2940.4 969.2,2946.2 971.8,2948.8 C974.5,2951.5 977.2,2950.7 979.9,2956.8 C982.5,2963.0 985.2,2978.5 987.9,2985.7 C990.0,2991.4 992.7,2997.1 994.3,2996.9 C996.3,2996.6 999.6,2982.6 1002.3,2976.1 C1004.6,2970.3 1007.5,2959.8 1009.3,2960.0 C1011.2,2960.3 1014.2,2974.7 1016.7,2982.5 C1018.8,2989.2 1021.5,3002.6 1023.1,3003.3 C1025.3,3004.2 1029.8,2997.2 1032.0,2997.8 C1033.8,2998.3 1036.7,3007.6 1039.1,3014.5 C1041.2,3020.7 1043.4,3031.8 1045.5,3036.9 C1047.6,3042.0 1050.3,3044.6 1051.9,3044.9 C1054.7,3045.4 1060.3,3044.7 1063.1,3044.9 C1065.5,3045.1 1070.3,3050.5 1072.7,3049.7 C1074.7,3049.0 1078.0,3034.8 1080.7,3027.3 C1083.4,3019.8 1086.1,3009.9 1088.7,3004.9 C1091.4,2999.8 1094.7,2996.8 1096.7,2996.9 C1099.1,2996.9 1103.1,3005.8 1106.3,3008.1 C1110.6,3011.1 1114.9,3009.7 1119.1,3011.3 C1122.3,3012.5 1125.5,3014.0 1128.7,3016.1 C1131.4,3017.8 1134.7,3022.4 1136.7,3022.5 C1138.8,3022.5 1142.1,3019.8 1144.8,3017.7 C1146.9,3016.0 1149.6,3011.1 1151.2,3011.3 C1153.2,3011.5 1156.5,3015.3 1159.2,3024.1 C1161.3,3031.1 1163.4,3046.5 1165.6,3056.1 C1167.7,3065.7 1169.8,3079.2 1172.0,3081.7 C1174.6,3084.9 1178.0,3085.2 1180.0,3084.9 C1182.4,3084.6 1186.4,3077.5 1189.6,3072.1 C1192.8,3066.8 1196.0,3057.4 1199.2,3052.9 C1201.9,3049.2 1205.2,3046.3 1207.2,3046.5 C1209.6,3046.7 1213.6,3054.0 1216.8,3059.3 C1219.5,3063.8 1222.1,3072.0 1224.8,3075.3 C1226.9,3078.0 1229.6,3078.8 1231.2,3078.5 C1233.2,3078.2 1236.5,3069.2 1239.2,3065.7 C1241.9,3062.2 1245.2,3057.5 1247.2,3057.7 C1249.2,3057.9 1252.6,3068.4 1255.2,3072.1 C1257.9,3075.9 1261.2,3080.4 1263.2,3080.1 C1265.2,3079.9 1268.6,3069.4 1271.2,3065.7 C1273.9,3062.0 1277.2,3057.5 1279.2,3057.7 C1281.2,3057.9 1284.6,3067.6 1287.2,3072.1 C1289.9,3076.7 1292.6,3084.9 1295.2,3084.9 C1391.7,3085.7 1512.2,3086.0 1584.5,3085.7 C1586.3,3084.7 1589.4,3068.5 1591.9,3059.8 C1593.9,3052.5 1596.0,3042.9 1598.0,3037.6 C1599.7,3033.4 1601.7,3030.2 1603.0,3030.2 C1604.5,3030.3 1607.1,3034.8 1609.1,3040.1 C1611.2,3045.4 1613.2,3054.7 1615.3,3062.3 C1617.3,3069.9 1619.9,3084.8 1621.4,3085.7 C1629.1,3086.0 1644.5,3086.0 1652.2,3085.7 C1654.1,3085.0 1657.1,3073.1 1659.6,3067.2 C1662.5,3060.3 1665.4,3053.6 1668.2,3047.5 C1670.7,3042.2 1673.2,3036.3 1675.6,3032.7 C1678.3,3028.8 1681.7,3025.1 1683.7,3025.3 C1685.4,3025.5 1688.2,3028.4 1690.4,3035.2 C1692.9,3042.7 1695.3,3061.0 1697.8,3069.7 C1699.8,3076.9 1702.4,3083.9 1703.9,3084.4 C1706.1,3085.1 1709.7,3084.4 1712.6,3082.0 C1715.0,3079.9 1717.5,3069.0 1720.0,3064.7 C1722.4,3060.4 1724.9,3057.0 1727.3,3056.1 C1730.6,3054.9 1734.7,3054.8 1737.2,3054.9 C1739.3,3054.9 1742.9,3054.9 1745.8,3057.3 C1747.9,3059.1 1749.9,3065.1 1752.0,3069.7 C1754.0,3074.2 1756.1,3083.6 1758.1,3084.4 C1761.0,3085.7 1764.6,3086.0 1766.7,3085.7 C1768.6,3085.1 1771.7,3074.4 1774.1,3069.7 C1776.6,3064.9 1779.1,3059.6 1781.5,3057.3 C1785.6,3053.6 1789.7,3056.1 1793.8,3053.6 C1797.1,3051.7 1800.4,3048.5 1803.7,3045.0 C1807.0,3041.5 1810.3,3038.0 1813.5,3032.7 C1815.6,3029.4 1817.7,3022.9 1819.7,3020.4 C1821.8,3017.9 1824.3,3017.8 1825.9,3017.9 C1827.4,3018.0 1830.0,3021.6 1832.0,3022.9 C1834.1,3024.1 1836.6,3025.4 1838.2,3025.3 C1840.9,3025.2 1846.5,3017.7 1849.3,3017.9 C1850.8,3018.1 1853.4,3020.4 1855.4,3025.3 C1857.5,3030.2 1859.5,3042.2 1861.6,3047.5 C1863.6,3052.8 1866.2,3057.2 1867.7,3057.3 C1869.3,3057.4 1871.8,3052.5 1873.9,3050.0 C1877.2,3045.9 1881.3,3037.7 1883.7,3037.6 C1885.3,3037.6 1887.8,3042.8 1889.9,3043.8 C1892.4,3045.0 1895.4,3045.6 1897.3,3045.0 C1898.8,3044.5 1901.4,3036.3 1903.4,3030.2 C1905.1,3025.4 1906.7,3017.1 1908.4,3013.0 C1910.0,3008.9 1912.1,3005.6 1913.3,3005.6 C1915.1,3005.7 1918.2,3011.8 1920.7,3017.9 C1923.2,3024.1 1925.6,3035.8 1928.1,3042.6 C1930.4,3048.8 1932.6,3051.2 1934.9,3057.3 C1937.0,3062.8 1939.0,3072.5 1941.1,3077.0 C1943.1,3081.6 1945.7,3084.2 1947.2,3084.4 C1949.7,3084.9 1954.6,3085.3 1957.1,3084.4 C1958.9,3083.8 1962.0,3072.5 1964.5,3067.2 C1967.8,3060.1 1971.1,3054.1 1974.3,3047.5 C1977.6,3040.9 1980.9,3032.7 1984.2,3027.8 C1987.9,3022.2 1992.5,3016.6 1995.3,3016.7 C1997.1,3016.7 2000.2,3018.5 2002.7,3025.3 C2004.7,3031.0 2006.8,3045.4 2008.8,3052.4 C2010.9,3059.4 2012.9,3064.0 2015.0,3067.2 C2016.2,3069.1 2017.7,3070.0 2018.7,3069.7 C2020.2,3069.2 2022.8,3058.6 2024.8,3052.4 C2026.9,3046.3 2028.9,3036.8 2031.0,3032.7 C2033.0,3028.6 2035.6,3027.6 2037.1,3027.8 C2038.7,3028.0 2041.2,3035.2 2043.3,3037.6 C2045.4,3040.1 2047.9,3042.5 2049.5,3042.6 C2051.3,3042.6 2054.4,3042.6 2056.8,3037.6 C2058.9,3033.5 2061.0,3021.7 2063.0,3015.5 C2065.5,3008.0 2068.5,2997.7 2070.4,2997.0 C2072.9,2996.1 2077.8,2998.2 2080.2,2998.2 C2082.7,2998.3 2087.6,2997.3 2090.1,2998.2 C2091.3,2998.7 2093.4,3004.0 2095.0,3010.5 C2096.7,3017.1 2098.3,3031.1 2100.0,3037.6 C2102.0,3045.7 2104.6,3052.2 2106.1,3052.4 C2107.6,3052.6 2110.2,3046.3 2112.3,3042.6 C2114.7,3038.1 2117.2,3031.0 2119.7,3027.8 C2121.7,3025.1 2124.3,3023.9 2125.8,3024.1 C2127.4,3024.3 2129.9,3028.2 2132.0,3032.7 C2133.6,3036.3 2135.3,3042.2 2136.9,3047.5 C2138.5,3052.8 2140.2,3061.0 2141.8,3064.7 C2143.5,3068.4 2145.5,3069.8 2146.7,3069.7 C2148.6,3069.4 2151.7,3058.0 2154.1,3054.9 C2157.4,3050.8 2161.5,3050.1 2164.0,3050.0 C2166.5,3049.8 2170.6,3050.0 2173.8,3051.2 C2175.9,3052.0 2177.9,3057.8 2180.0,3059.8 C2182.1,3061.9 2184.6,3063.8 2186.2,3063.5 C2187.7,3063.2 2190.3,3056.0 2192.3,3052.4 C2195.2,3047.4 2198.1,3040.8 2200.9,3037.6 C2204.2,3034.0 2207.5,3034.1 2210.8,3032.7 C2213.3,3031.7 2215.7,3032.7 2218.2,3030.2 C2220.6,3027.8 2223.1,3017.7 2225.6,3013.0 C2228.0,3008.3 2231.1,3001.6 2233.0,3001.9 C2234.5,3002.2 2237.1,3010.6 2239.1,3017.9 C2240.8,3023.8 2242.4,3035.0 2244.0,3040.1 C2245.7,3045.2 2247.7,3049.0 2249.0,3048.7 C2250.2,3048.4 2252.2,3038.1 2253.9,3032.7 C2256.4,3024.6 2258.8,3010.5 2261.3,3008.1 C2263.7,3005.6 2266.8,3005.7 2268.7,3005.6 C2270.8,3005.5 2275.1,3006.3 2277.3,3005.6 C2279.1,3005.1 2282.2,2994.9 2284.7,2990.8 C2287.1,2986.7 2290.2,2980.9 2292.1,2981.0 C2293.6,2981.0 2296.2,2984.7 2298.2,2990.8 C2300.3,2997.0 2302.3,3011.8 2304.4,3017.9 C2306.4,3024.1 2309.0,3027.8 2310.5,3027.8 C2312.1,3027.8 2314.6,3021.6 2316.7,3017.9 C2318.8,3014.2 2321.3,2981.1 2322.9,3005.6 C2323.0,3008.6 2323.3,3059.0 2323.6,3085.7 L2323.6,3086.0 Z" fill="url(#gB)" stroke="none"/>
<path d="M401.4,2963.3 C404.1,2959.5 406.7,2954.7 409.4,2952.0 C412.1,2949.4 414.7,2948.3 417.4,2947.2 C420.1,2946.2 423.4,2945.6 425.4,2945.6 C427.4,2945.7 430.8,2945.6 433.4,2948.8 C435.6,2951.4 437.7,2961.4 439.8,2966.5 C442.0,2971.5 444.1,2976.1 446.2,2979.3 C448.4,2982.5 450.5,2981.4 452.6,2985.7 C454.8,2989.9 456.9,2999.5 459.0,3004.9 C460.6,3008.9 462.6,3014.8 463.8,3014.5 C465.4,3014.1 468.1,3000.1 470.2,2992.1 C471.8,2986.1 473.4,2977.3 475.0,2972.9 C477.2,2967.0 479.9,2963.1 481.5,2963.3 C483.1,2963.4 485.7,2970.2 487.9,2976.1 C490.0,2981.9 492.1,2993.0 494.3,2998.5 C495.9,3002.6 497.9,3006.7 499.1,3006.5 C500.7,3006.2 503.3,2993.7 505.5,2988.9 C507.9,2983.4 511.0,2976.0 512.8,2976.1 C514.6,2976.1 517.5,2984.1 519.9,2988.9 C522.0,2993.2 524.1,3001.7 526.3,3003.3 C528.4,3004.9 531.1,3005.5 532.7,3004.9 C534.3,3004.2 537.0,2995.3 539.1,2985.7 C541.2,2976.1 543.4,2956.5 545.5,2947.2 C548.7,2933.4 552.7,2921.9 555.1,2921.6 C557.1,2921.4 560.4,2932.6 563.1,2937.6 C565.2,2941.6 567.9,2948.9 569.5,2948.8 C571.5,2948.8 574.8,2940.8 577.5,2934.4 C579.6,2929.3 581.8,2919.7 583.9,2915.2 C587.1,2908.6 591.1,2904.0 593.5,2904.0 C595.9,2904.0 599.9,2911.1 603.1,2915.2 C606.9,2920.1 610.6,2923.0 614.3,2931.2 C616.5,2936.0 618.6,2940.1 620.7,2950.4 C622.3,2958.2 623.9,2973.8 625.5,2982.5 C628.2,2997.0 631.5,3015.4 633.5,3016.1 C635.5,3016.8 638.9,3013.0 641.6,3001.7 C643.2,2994.9 644.8,2976.8 646.4,2969.7 C648.5,2960.1 651.2,2955.3 652.8,2955.2 C654.8,2955.2 658.1,2964.6 660.8,2972.9 C662.9,2979.5 665.0,2993.7 667.2,2998.5 C669.3,3003.3 672.0,3003.4 673.6,3003.3 C676.0,3003.1 680.8,2990.3 683.2,2990.5 C684.8,2990.6 687.4,2995.5 689.6,3001.7 C691.7,3007.8 693.9,3019.8 696.0,3027.3 C698.1,3034.8 700.8,3046.1 702.4,3046.5 C704.0,3046.9 706.7,3045.4 708.8,3036.9 C710.9,3028.4 713.1,3004.8 715.2,2995.3 C717.9,2983.4 721.2,2976.4 723.2,2976.1 C725.2,2975.7 728.5,2982.2 731.2,2985.7 C733.9,2989.1 736.5,2993.9 739.2,2996.9 C742.4,3000.4 745.6,3002.5 748.8,3004.9 C752.0,3007.3 756.0,3011.2 758.4,3011.3 C760.4,3011.4 763.8,3010.2 766.4,3008.1 C769.1,3005.9 772.4,2998.1 774.4,2998.5 C776.0,2998.8 778.7,3005.9 780.8,3014.5 C783.0,3023.0 785.1,3039.6 787.2,3049.7 C789.4,3059.8 791.5,3069.8 793.6,3075.3 C795.2,3079.5 797.2,3081.3 798.4,3081.1 C800.4,3080.7 803.8,3072.9 806.5,3062.5 C808.6,3054.2 810.7,3037.4 812.9,3027.3 C815.5,3014.6 818.2,3003.1 820.9,2995.3 C824.3,2985.2 828.5,2976.1 831.1,2976.1 C833.3,2976.0 837.1,2983.4 840.1,2992.1 C842.7,2999.8 845.4,3017.7 848.1,3024.1 C850.7,3030.5 853.4,3027.8 856.1,3030.5 C858.8,3033.2 861.4,3034.9 864.1,3040.1 C865.7,3043.2 867.3,3049.0 868.9,3052.9 C871.6,3059.4 874.9,3070.3 876.9,3070.5 C878.9,3070.8 882.2,3065.4 884.9,3059.3 C888.3,3051.6 891.6,3032.3 895.0,3027.3 C898.2,3022.5 902.2,3022.2 904.6,3022.5 C906.6,3022.8 909.9,3029.2 912.6,3033.7 C915.3,3038.2 917.9,3045.9 920.6,3049.7 C923.8,3054.2 927.8,3058.1 930.2,3057.7 C932.2,3057.4 935.6,3052.6 938.2,3043.3 C940.9,3034.0 943.6,3014.4 946.2,3001.7 C949.4,2986.4 952.6,2970.8 955.8,2960.0 C958.5,2951.1 961.8,2941.3 963.8,2940.8 C965.8,2940.4 969.2,2946.2 971.8,2948.8 C974.5,2951.5 977.2,2950.7 979.9,2956.8 C982.5,2963.0 985.2,2978.5 987.9,2985.7 C990.0,2991.4 992.7,2997.1 994.3,2996.9 C996.3,2996.6 999.6,2982.6 1002.3,2976.1 C1004.6,2970.3 1007.5,2959.8 1009.3,2960.0 C1011.2,2960.3 1014.2,2974.7 1016.7,2982.5 C1018.8,2989.2 1021.5,3002.6 1023.1,3003.3 C1025.3,3004.2 1029.8,2997.2 1032.0,2997.8 C1033.8,2998.3 1036.7,3007.6 1039.1,3014.5 C1041.2,3020.7 1043.4,3031.8 1045.5,3036.9 C1047.6,3042.0 1050.3,3044.6 1051.9,3044.9 C1054.7,3045.4 1060.3,3044.7 1063.1,3044.9 C1065.5,3045.1 1070.3,3050.5 1072.7,3049.7 C1074.7,3049.0 1078.0,3034.8 1080.7,3027.3 C1083.4,3019.8 1086.1,3009.9 1088.7,3004.9 C1091.4,2999.8 1094.7,2996.8 1096.7,2996.9 C1099.1,2996.9 1103.1,3005.8 1106.3,3008.1 C1110.6,3011.1 1114.9,3009.7 1119.1,3011.3 C1122.3,3012.5 1125.5,3014.0 1128.7,3016.1 C1131.4,3017.8 1134.7,3022.4 1136.7,3022.5 C1138.8,3022.5 1142.1,3019.8 1144.8,3017.7 C1146.9,3016.0 1149.6,3011.1 1151.2,3011.3 C1153.2,3011.5 1156.5,3015.3 1159.2,3024.1 C1161.3,3031.1 1163.4,3046.5 1165.6,3056.1 C1167.7,3065.7 1169.8,3079.2 1172.0,3081.7 C1174.6,3084.9 1178.0,3085.2 1180.0,3084.9 C1182.4,3084.6 1186.4,3077.5 1189.6,3072.1 C1192.8,3066.8 1196.0,3057.4 1199.2,3052.9 C1201.9,3049.2 1205.2,3046.3 1207.2,3046.5 C1209.6,3046.7 1213.6,3054.0 1216.8,3059.3 C1219.5,3063.8 1222.1,3072.0 1224.8,3075.3 C1226.9,3078.0 1229.6,3078.8 1231.2,3078.5 C1233.2,3078.2 1236.5,3069.2 1239.2,3065.7 C1241.9,3062.2 1245.2,3057.5 1247.2,3057.7 C1249.2,3057.9 1252.6,3068.4 1255.2,3072.1 C1257.9,3075.9 1261.2,3080.4 1263.2,3080.1 C1265.2,3079.9 1268.6,3069.4 1271.2,3065.7 C1273.9,3062.0 1277.2,3057.5 1279.2,3057.7 C1281.2,3057.9 1284.6,3067.6 1287.2,3072.1 C1289.9,3076.7 1292.6,3084.9 1295.2,3084.9 C1391.7,3085.7 1512.2,3086.0 1584.5,3085.7 C1586.3,3084.7 1589.4,3068.5 1591.9,3059.8 C1593.9,3052.5 1596.0,3042.9 1598.0,3037.6 C1599.7,3033.4 1601.7,3030.2 1603.0,3030.2 C1604.5,3030.3 1607.1,3034.8 1609.1,3040.1 C1611.2,3045.4 1613.2,3054.7 1615.3,3062.3 C1617.3,3069.9 1619.9,3084.8 1621.4,3085.7 C1629.1,3086.0 1644.5,3086.0 1652.2,3085.7 C1654.1,3085.0 1657.1,3073.1 1659.6,3067.2 C1662.5,3060.3 1665.4,3053.6 1668.2,3047.5 C1670.7,3042.2 1673.2,3036.3 1675.6,3032.7 C1678.3,3028.8 1681.7,3025.1 1683.7,3025.3 C1685.4,3025.5 1688.2,3028.4 1690.4,3035.2 C1692.9,3042.7 1695.3,3061.0 1697.8,3069.7 C1699.8,3076.9 1702.4,3083.9 1703.9,3084.4 C1706.1,3085.1 1709.7,3084.4 1712.6,3082.0 C1715.0,3079.9 1717.5,3069.0 1720.0,3064.7 C1722.4,3060.4 1724.9,3057.0 1727.3,3056.1 C1730.6,3054.9 1734.7,3054.8 1737.2,3054.9 C1739.3,3054.9 1742.9,3054.9 1745.8,3057.3 C1747.9,3059.1 1749.9,3065.1 1752.0,3069.7 C1754.0,3074.2 1756.1,3083.6 1758.1,3084.4 C1761.0,3085.7 1764.6,3086.0 1766.7,3085.7 C1768.6,3085.1 1771.7,3074.4 1774.1,3069.7 C1776.6,3064.9 1779.1,3059.6 1781.5,3057.3 C1785.6,3053.6 1789.7,3056.1 1793.8,3053.6 C1797.1,3051.7 1800.4,3048.5 1803.7,3045.0 C1807.0,3041.5 1810.3,3038.0 1813.5,3032.7 C1815.6,3029.4 1817.7,3022.9 1819.7,3020.4 C1821.8,3017.9 1824.3,3017.8 1825.9,3017.9 C1827.4,3018.0 1830.0,3021.6 1832.0,3022.9 C1834.1,3024.1 1836.6,3025.4 1838.2,3025.3 C1840.9,3025.2 1846.5,3017.7 1849.3,3017.9 C1850.8,3018.1 1853.4,3020.4 1855.4,3025.3 C1857.5,3030.2 1859.5,3042.2 1861.6,3047.5 C1863.6,3052.8 1866.2,3057.2 1867.7,3057.3 C1869.3,3057.4 1871.8,3052.5 1873.9,3050.0 C1877.2,3045.9 1881.3,3037.7 1883.7,3037.6 C1885.3,3037.6 1887.8,3042.8 1889.9,3043.8 C1892.4,3045.0 1895.4,3045.6 1897.3,3045.0 C1898.8,3044.5 1901.4,3036.3 1903.4,3030.2 C1905.1,3025.4 1906.7,3017.1 1908.4,3013.0 C1910.0,3008.9 1912.1,3005.6 1913.3,3005.6 C1915.1,3005.7 1918.2,3011.8 1920.7,3017.9 C1923.2,3024.1 1925.6,3035.8 1928.1,3042.6 C1930.4,3048.8 1932.6,3051.2 1934.9,3057.3 C1937.0,3062.8 1939.0,3072.5 1941.1,3077.0 C1943.1,3081.6 1945.7,3084.2 1947.2,3084.4 C1949.7,3084.9 1954.6,3085.3 1957.1,3084.4 C1958.9,3083.8 1962.0,3072.5 1964.5,3067.2 C1967.8,3060.1 1971.1,3054.1 1974.3,3047.5 C1977.6,3040.9 1980.9,3032.7 1984.2,3027.8 C1987.9,3022.2 1992.5,3016.6 1995.3,3016.7 C1997.1,3016.7 2000.2,3018.5 2002.7,3025.3 C2004.7,3031.0 2006.8,3045.4 2008.8,3052.4 C2010.9,3059.4 2012.9,3064.0 2015.0,3067.2 C2016.2,3069.1 2017.7,3070.0 2018.7,3069.7 C2020.2,3069.2 2022.8,3058.6 2024.8,3052.4 C2026.9,3046.3 2028.9,3036.8 2031.0,3032.7 C2033.0,3028.6 2035.6,3027.6 2037.1,3027.8 C2038.7,3028.0 2041.2,3035.2 2043.3,3037.6 C2045.4,3040.1 2047.9,3042.5 2049.5,3042.6 C2051.3,3042.6 2054.4,3042.6 2056.8,3037.6 C2058.9,3033.5 2061.0,3021.7 2063.0,3015.5 C2065.5,3008.0 2068.5,2997.7 2070.4,2997.0 C2072.9,2996.1 2077.8,2998.2 2080.2,2998.2 C2082.7,2998.3 2087.6,2997.3 2090.1,2998.2 C2091.3,2998.7 2093.4,3004.0 2095.0,3010.5 C2096.7,3017.1 2098.3,3031.1 2100.0,3037.6 C2102.0,3045.7 2104.6,3052.2 2106.1,3052.4 C2107.6,3052.6 2110.2,3046.3 2112.3,3042.6 C2114.7,3038.1 2117.2,3031.0 2119.7,3027.8 C2121.7,3025.1 2124.3,3023.9 2125.8,3024.1 C2127.4,3024.3 2129.9,3028.2 2132.0,3032.7 C2133.6,3036.3 2135.3,3042.2 2136.9,3047.5 C2138.5,3052.8 2140.2,3061.0 2141.8,3064.7 C2143.5,3068.4 2145.5,3069.8 2146.7,3069.7 C2148.6,3069.4 2151.7,3058.0 2154.1,3054.9 C2157.4,3050.8 2161.5,3050.1 2164.0,3050.0 C2166.5,3049.8 2170.6,3050.0 2173.8,3051.2 C2175.9,3052.0 2177.9,3057.8 2180.0,3059.8 C2182.1,3061.9 2184.6,3063.8 2186.2,3063.5 C2187.7,3063.2 2190.3,3056.0 2192.3,3052.4 C2195.2,3047.4 2198.1,3040.8 2200.9,3037.6 C2204.2,3034.0 2207.5,3034.1 2210.8,3032.7 C2213.3,3031.7 2215.7,3032.7 2218.2,3030.2 C2220.6,3027.8 2223.1,3017.7 2225.6,3013.0 C2228.0,3008.3 2231.1,3001.6 2233.0,3001.9 C2234.5,3002.2 2237.1,3010.6 2239.1,3017.9 C2240.8,3023.8 2242.4,3035.0 2244.0,3040.1 C2245.7,3045.2 2247.7,3049.0 2249.0,3048.7 C2250.2,3048.4 2252.2,3038.1 2253.9,3032.7 C2256.4,3024.6 2258.8,3010.5 2261.3,3008.1 C2263.7,3005.6 2266.8,3005.7 2268.7,3005.6 C2270.8,3005.5 2275.1,3006.3 2277.3,3005.6 C2279.1,3005.1 2282.2,2994.9 2284.7,2990.8 C2287.1,2986.7 2290.2,2980.9 2292.1,2981.0 C2293.6,2981.0 2296.2,2984.7 2298.2,2990.8 C2300.3,2997.0 2302.3,3011.8 2304.4,3017.9 C2306.4,3024.1 2309.0,3027.8 2310.5,3027.8 C2312.1,3027.8 2314.6,3021.6 2316.7,3017.9 C2318.8,3014.2 2321.3,2981.1 2322.9,3005.6 C2323.0,3008.6 2323.3,3059.0 2323.6,3085.7" fill="none" stroke="#2a1008" stroke-width="4.0" stroke-linejoin="round"/>
<line x1="400.0" y1="2886.0" x2="400.0" y2="3088.0" stroke="#1a1a1a" stroke-width="4.5"/>
<line x1="373.0" y1="3086.0" x2="2325.0" y2="3086.0" stroke="#1a1a1a" stroke-width="4.5"/>
<line x1="373.0" y1="3086.0" x2="400.0" y2="3086.0" stroke="#1a1a1a" stroke-width="4.5"/>
<line x1="385.0" y1="3041.0" x2="400.0" y2="3041.0" stroke="#1a1a1a" stroke-width="4.5"/>
<line x1="373.0" y1="2997.5" x2="400.0" y2="2997.5" stroke="#1a1a1a" stroke-width="4.5"/>
<line x1="385.0" y1="2954.0" x2="400.0" y2="2954.0" stroke="#1a1a1a" stroke-width="4.5"/>
<line x1="373.0" y1="2909.5" x2="400.0" y2="2909.5" stroke="#1a1a1a" stroke-width="4.5"/>
<text x="357.0" y="3105.0" font-size="74" text-anchor="end">0</text>
<text x="357.0" y="3016.5" font-size="74" text-anchor="end">3</text>
<text x="357.0" y="2928.5" font-size="74" text-anchor="end">6</text>
<text x="2318.0" y="2904.0" font-size="90.0" text-anchor="end">Total</text>
<line x1="386.0" y1="1405.0" x2="386.0" y2="1432.0" stroke="#1a1a1a" stroke-width="4.5"/>
<line x1="450.2" y1="1405.0" x2="450.2" y2="1419.0" stroke="#1a1a1a" stroke-width="4.5"/>
<line x1="514.3" y1="1405.0" x2="514.3" y2="1432.0" stroke="#1a1a1a" stroke-width="4.5"/>
<line x1="578.5" y1="1405.0" x2="578.5" y2="1419.0" stroke="#1a1a1a" stroke-width="4.5"/>
<line x1="642.7" y1="1405.0" x2="642.7" y2="1432.0" stroke="#1a1a1a" stroke-width="4.5"/>
<line x1="706.8" y1="1405.0" x2="706.8" y2="1419.0" stroke="#1a1a1a" stroke-width="4.5"/>
<line x1="771.0" y1="1405.0" x2="771.0" y2="1432.0" stroke="#1a1a1a" stroke-width="4.5"/>
<line x1="835.2" y1="1405.0" x2="835.2" y2="1419.0" stroke="#1a1a1a" stroke-width="4.5"/>
<line x1="899.3" y1="1405.0" x2="899.3" y2="1432.0" stroke="#1a1a1a" stroke-width="4.5"/>
<line x1="963.5" y1="1405.0" x2="963.5" y2="1419.0" stroke="#1a1a1a" stroke-width="4.5"/>
<line x1="1027.7" y1="1405.0" x2="1027.7" y2="1432.0" stroke="#1a1a1a" stroke-width="4.5"/>
<line x1="1091.8" y1="1405.0" x2="1091.8" y2="1419.0" stroke="#1a1a1a" stroke-width="4.5"/>
<line x1="1156.0" y1="1405.0" x2="1156.0" y2="1432.0" stroke="#1a1a1a" stroke-width="4.5"/>
<line x1="1220.1" y1="1405.0" x2="1220.1" y2="1419.0" stroke="#1a1a1a" stroke-width="4.5"/>
<line x1="1284.3" y1="1405.0" x2="1284.3" y2="1432.0" stroke="#1a1a1a" stroke-width="4.5"/>
<line x1="1348.5" y1="1405.0" x2="1348.5" y2="1419.0" stroke="#1a1a1a" stroke-width="4.5"/>
<line x1="1412.6" y1="1405.0" x2="1412.6" y2="1432.0" stroke="#1a1a1a" stroke-width="4.5"/>
<line x1="1476.8" y1="1405.0" x2="1476.8" y2="1419.0" stroke="#1a1a1a" stroke-width="4.5"/>
<line x1="1541.0" y1="1405.0" x2="1541.0" y2="1432.0" stroke="#1a1a1a" stroke-width="4.5"/>
<line x1="1605.1" y1="1405.0" x2="1605.1" y2="1419.0" stroke="#1a1a1a" stroke-width="4.5"/>
<line x1="1669.3" y1="1405.0" x2="1669.3" y2="1432.0" stroke="#1a1a1a" stroke-width="4.5"/>
<line x1="1733.5" y1="1405.0" x2="1733.5" y2="1419.0" stroke="#1a1a1a" stroke-width="4.5"/>
<line x1="1797.6" y1="1405.0" x2="1797.6" y2="1432.0" stroke="#1a1a1a" stroke-width="4.5"/>
<line x1="1861.8" y1="1405.0" x2="1861.8" y2="1419.0" stroke="#1a1a1a" stroke-width="4.5"/>
<line x1="1926.0" y1="1405.0" x2="1926.0" y2="1432.0" stroke="#1a1a1a" stroke-width="4.5"/>
<line x1="1990.1" y1="1405.0" x2="1990.1" y2="1419.0" stroke="#1a1a1a" stroke-width="4.5"/>
<line x1="2054.3" y1="1405.0" x2="2054.3" y2="1432.0" stroke="#1a1a1a" stroke-width="4.5"/>
<line x1="2118.5" y1="1405.0" x2="2118.5" y2="1419.0" stroke="#1a1a1a" stroke-width="4.5"/>
<line x1="2182.6" y1="1405.0" x2="2182.6" y2="1432.0" stroke="#1a1a1a" stroke-width="4.5"/>
<line x1="2246.8" y1="1405.0" x2="2246.8" y2="1419.0" stroke="#1a1a1a" stroke-width="4.5"/>
<text x="375.0" y="1516.0" font-size="74" text-anchor="middle">-7</text>
<text x="503.0" y="1516.0" font-size="74" text-anchor="middle">-6</text>
<text x="632.0" y="1516.0" font-size="74" text-anchor="middle">-5</text>
<text x="760.0" y="1516.0" font-size="74" text-anchor="middle">-4</text>
<text x="888.0" y="1516.0" font-size="74" text-anchor="middle">-3</text>
<text x="1017.0" y="1516.0" font-size="74" text-anchor="middle">-2</text>
<text x="1141.0" y="1516.0" font-size="74" text-anchor="middle">-1</text>
<text x="1273.0" y="1516.0" font-size="74" text-anchor="middle">0</text>
<text x="1399.0" y="1516.0" font-size="74" text-anchor="middle">1</text>
<text x="1530.0" y="1516.0" font-size="74" text-anchor="middle">2</text>
<text x="1660.0" y="1516.0" font-size="74" text-anchor="middle">3</text>
<text x="1786.0" y="1516.0" font-size="74" text-anchor="middle">4</text>
<text x="1915.0" y="1523.0" font-size="74" text-anchor="middle">5</text>
<text x="2054.0" y="1523.0" font-size="74" text-anchor="middle">6</text>
<text x="2175.0" y="1528.0" font-size="74" text-anchor="middle">7</text>
<line x1="400.0" y1="3086.0" x2="400.0" y2="3113.0" stroke="#1a1a1a" stroke-width="4.5"/>
<line x1="464.2" y1="3086.0" x2="464.2" y2="3100.0" stroke="#1a1a1a" stroke-width="4.5"/>
<line x1="528.3" y1="3086.0" x2="528.3" y2="3113.0" stroke="#1a1a1a" stroke-width="4.5"/>
<line x1="592.5" y1="3086.0" x2="592.5" y2="3100.0" stroke="#1a1a1a" stroke-width="4.5"/>
<line x1="656.7" y1="3086.0" x2="656.7" y2="3113.0" stroke="#1a1a1a" stroke-width="4.5"/>
<line x1="720.8" y1="3086.0" x2="720.8" y2="3100.0" stroke="#1a1a1a" stroke-width="4.5"/>
<line x1="785.0" y1="3086.0" x2="785.0" y2="3113.0" stroke="#1a1a1a" stroke-width="4.5"/>
<line x1="849.2" y1="3086.0" x2="849.2" y2="3100.0" stroke="#1a1a1a" stroke-width="4.5"/>
<line x1="913.3" y1="3086.0" x2="913.3" y2="3113.0" stroke="#1a1a1a" stroke-width="4.5"/>
<line x1="977.5" y1="3086.0" x2="977.5" y2="3100.0" stroke="#1a1a1a" stroke-width="4.5"/>
<line x1="1041.7" y1="3086.0" x2="1041.7" y2="3113.0" stroke="#1a1a1a" stroke-width="4.5"/>
<line x1="1105.8" y1="3086.0" x2="1105.8" y2="3100.0" stroke="#1a1a1a" stroke-width="4.5"/>
<line x1="1170.0" y1="3086.0" x2="1170.0" y2="3113.0" stroke="#1a1a1a" stroke-width="4.5"/>
<line x1="1234.1" y1="3086.0" x2="1234.1" y2="3100.0" stroke="#1a1a1a" stroke-width="4.5"/>
<line x1="1298.3" y1="3086.0" x2="1298.3" y2="3113.0" stroke="#1a1a1a" stroke-width="4.5"/>
<line x1="1362.5" y1="3086.0" x2="1362.5" y2="3100.0" stroke="#1a1a1a" stroke-width="4.5"/>
<line x1="1426.6" y1="3086.0" x2="1426.6" y2="3113.0" stroke="#1a1a1a" stroke-width="4.5"/>
<line x1="1490.8" y1="3086.0" x2="1490.8" y2="3100.0" stroke="#1a1a1a" stroke-width="4.5"/>
<line x1="1555.0" y1="3086.0" x2="1555.0" y2="3113.0" stroke="#1a1a1a" stroke-width="4.5"/>
<line x1="1619.1" y1="3086.0" x2="1619.1" y2="3100.0" stroke="#1a1a1a" stroke-width="4.5"/>
<line x1="1683.3" y1="3086.0" x2="1683.3" y2="3113.0" stroke="#1a1a1a" stroke-width="4.5"/>
<line x1="1747.5" y1="3086.0" x2="1747.5" y2="3100.0" stroke="#1a1a1a" stroke-width="4.5"/>
<line x1="1811.6" y1="3086.0" x2="1811.6" y2="3113.0" stroke="#1a1a1a" stroke-width="4.5"/>
<line x1="1875.8" y1="3086.0" x2="1875.8" y2="3100.0" stroke="#1a1a1a" stroke-width="4.5"/>
<line x1="1940.0" y1="3086.0" x2="1940.0" y2="3113.0" stroke="#1a1a1a" stroke-width="4.5"/>
<line x1="2004.1" y1="3086.0" x2="2004.1" y2="3100.0" stroke="#1a1a1a" stroke-width="4.5"/>
<line x1="2068.3" y1="3086.0" x2="2068.3" y2="3113.0" stroke="#1a1a1a" stroke-width="4.5"/>
<line x1="2132.5" y1="3086.0" x2="2132.5" y2="3100.0" stroke="#1a1a1a" stroke-width="4.5"/>
<line x1="2196.6" y1="3086.0" x2="2196.6" y2="3113.0" stroke="#1a1a1a" stroke-width="4.5"/>
<line x1="2260.8" y1="3086.0" x2="2260.8" y2="3100.0" stroke="#1a1a1a" stroke-width="4.5"/>
<text x="395.0" y="3190.0" font-size="74" text-anchor="middle">-7</text>
<text x="524.5" y="3190.0" font-size="74" text-anchor="middle">-6</text>
<text x="652.0" y="3190.0" font-size="74" text-anchor="middle">-5</text>
<text x="780.5" y="3190.0" font-size="74" text-anchor="middle">-4</text>
<text x="909.0" y="3190.0" font-size="74" text-anchor="middle">-3</text>
<text x="1038.0" y="3190.0" font-size="74" text-anchor="middle">-2</text>
<text x="1162.0" y="3190.0" font-size="74" text-anchor="middle">-1</text>
<text x="1294.0" y="3190.0" font-size="74" text-anchor="middle">0</text>
<text x="1419.0" y="3190.0" font-size="74" text-anchor="middle">1</text>
<text x="1551.0" y="3190.0" font-size="74" text-anchor="middle">2</text>
<text x="1680.0" y="3190.0" font-size="74" text-anchor="middle">3</text>
<text x="1807.0" y="3190.0" font-size="74" text-anchor="middle">4</text>
<text x="1936.0" y="3196.0" font-size="74" text-anchor="middle">5</text>
<text x="2074.5" y="3196.0" font-size="74" text-anchor="middle">6</text>
<text x="2194.5" y="3201.0" font-size="74" text-anchor="middle">7</text>
<text x="1387" y="1614.4" font-size="89" text-anchor="middle">Energy (eV)</text>
<text x="1407.2" y="3289.2" font-size="89" text-anchor="middle">Energy (eV)</text>
<text transform="translate(191,684) rotate(-90)" font-size="91" text-anchor="middle">DOS (states/eV)</text>
<text transform="translate(194,2400.5) rotate(-90)" font-size="91" text-anchor="middle">DOS (states/eV)</text>
<text transform="translate(59.7,200.0) scale(0.858,1)" font-size="140" text-anchor="middle" fill="#dd0000">(</text>
<text transform="translate(120.7,200.0) scale(0.873,1)" font-size="140" text-anchor="middle" fill="#dd0000">a</text>
<text transform="translate(185.6,200.0) scale(0.854,1)" font-size="140" text-anchor="middle" fill="#dd0000">)</text>
<text transform="translate(50.7,1896.0) scale(0.868,1)" font-size="140" text-anchor="middle" fill="#dd0000">(</text>
<text transform="translate(116.8,1896.0) scale(0.997,1)" font-size="140" text-anchor="middle" fill="#dd0000">b</text>
<text transform="translate(183.6,1896.0) scale(0.825,1)" font-size="140" text-anchor="middle" fill="#dd0000">)</text>
</g>
</svg></body></html>
